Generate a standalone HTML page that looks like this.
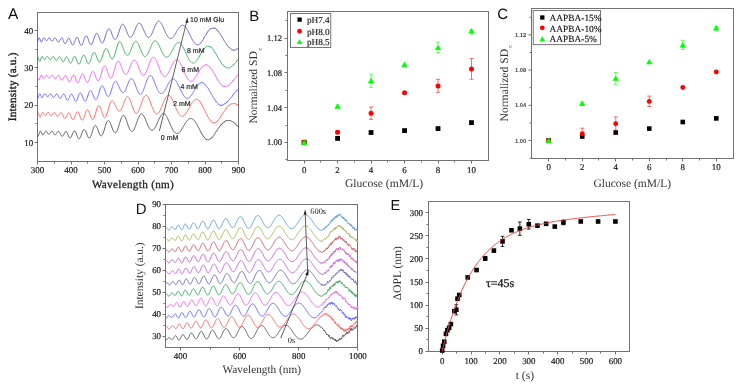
<!DOCTYPE html>
<html><head><meta charset="utf-8"><style>
html,body{margin:0;padding:0;background:#fff;}
svg{display:block;}
</style></head><body>
<svg text-rendering="geometricPrecision" style="will-change:transform;filter:blur(0.3px)" width="739" height="385" viewBox="0 0 739 385">
<rect width="739" height="385" fill="#fff"/>
<rect x="37.5" y="12.5" width="201" height="149" fill="none" stroke="#727272" stroke-width="1.0"/>
<line x1="54.5" y1="161.5" x2="54.5" y2="163.5" stroke="#727272" stroke-width="1.0"/>
<line x1="87.5" y1="161.5" x2="87.5" y2="163.5" stroke="#727272" stroke-width="1.0"/>
<line x1="121.5" y1="161.5" x2="121.5" y2="163.5" stroke="#727272" stroke-width="1.0"/>
<line x1="154.5" y1="161.5" x2="154.5" y2="163.5" stroke="#727272" stroke-width="1.0"/>
<line x1="188.5" y1="161.5" x2="188.5" y2="163.5" stroke="#727272" stroke-width="1.0"/>
<line x1="221.5" y1="161.5" x2="221.5" y2="163.5" stroke="#727272" stroke-width="1.0"/>
<line x1="37.5" y1="161.5" x2="37.5" y2="164.5" stroke="#727272" stroke-width="1.0"/>
<text x="37.5" y="172.8" font-family="Liberation Serif" font-size="8.9" text-anchor="middle" fill="#1a1a1a" stroke="#1a1a1a" stroke-width="0.2">300</text>
<line x1="71.5" y1="161.5" x2="71.5" y2="164.5" stroke="#727272" stroke-width="1.0"/>
<text x="71" y="172.8" font-family="Liberation Serif" font-size="8.9" text-anchor="middle" fill="#1a1a1a" stroke="#1a1a1a" stroke-width="0.2">400</text>
<line x1="104.5" y1="161.5" x2="104.5" y2="164.5" stroke="#727272" stroke-width="1.0"/>
<text x="104.5" y="172.8" font-family="Liberation Serif" font-size="8.9" text-anchor="middle" fill="#1a1a1a" stroke="#1a1a1a" stroke-width="0.2">500</text>
<line x1="138.5" y1="161.5" x2="138.5" y2="164.5" stroke="#727272" stroke-width="1.0"/>
<text x="138" y="172.8" font-family="Liberation Serif" font-size="8.9" text-anchor="middle" fill="#1a1a1a" stroke="#1a1a1a" stroke-width="0.2">600</text>
<line x1="171.5" y1="161.5" x2="171.5" y2="164.5" stroke="#727272" stroke-width="1.0"/>
<text x="171.5" y="172.8" font-family="Liberation Serif" font-size="8.9" text-anchor="middle" fill="#1a1a1a" stroke="#1a1a1a" stroke-width="0.2">700</text>
<line x1="205.5" y1="161.5" x2="205.5" y2="164.5" stroke="#727272" stroke-width="1.0"/>
<text x="205" y="172.8" font-family="Liberation Serif" font-size="8.9" text-anchor="middle" fill="#1a1a1a" stroke="#1a1a1a" stroke-width="0.2">800</text>
<line x1="238.5" y1="161.5" x2="238.5" y2="164.5" stroke="#727272" stroke-width="1.0"/>
<text x="238.5" y="172.8" font-family="Liberation Serif" font-size="8.9" text-anchor="middle" fill="#1a1a1a" stroke="#1a1a1a" stroke-width="0.2">900</text>
<line x1="35.5" y1="123.5" x2="37.5" y2="123.5" stroke="#727272" stroke-width="1.0"/>
<line x1="35.5" y1="86.5" x2="37.5" y2="86.5" stroke="#727272" stroke-width="1.0"/>
<line x1="35.5" y1="49.5" x2="37.5" y2="49.5" stroke="#727272" stroke-width="1.0"/>
<line x1="34.5" y1="142.5" x2="37.5" y2="142.5" stroke="#727272" stroke-width="1.0"/>
<text x="33.1" y="145.5" font-family="Liberation Serif" font-size="8.9" text-anchor="end" fill="#1a1a1a" stroke="#1a1a1a" stroke-width="0.2">10</text>
<line x1="34.5" y1="105.5" x2="37.5" y2="105.5" stroke="#727272" stroke-width="1.0"/>
<text x="33.1" y="108.17" font-family="Liberation Serif" font-size="8.9" text-anchor="end" fill="#1a1a1a" stroke="#1a1a1a" stroke-width="0.2">20</text>
<line x1="34.5" y1="67.5" x2="37.5" y2="67.5" stroke="#727272" stroke-width="1.0"/>
<text x="33.1" y="70.83" font-family="Liberation Serif" font-size="8.9" text-anchor="end" fill="#1a1a1a" stroke="#1a1a1a" stroke-width="0.2">30</text>
<line x1="34.5" y1="30.5" x2="37.5" y2="30.5" stroke="#727272" stroke-width="1.0"/>
<text x="33.1" y="33.5" font-family="Liberation Serif" font-size="8.9" text-anchor="end" fill="#1a1a1a" stroke="#1a1a1a" stroke-width="0.2">40</text>
<text x="7.9" y="19.3" font-family="Liberation Sans" font-size="15.5" text-anchor="start" fill="#111">A</text>
<text x="133" y="188" font-family="Liberation Serif" font-size="11.2" text-anchor="middle" fill="#222" letter-spacing="0.3" stroke="#222" stroke-width="0.28">Wavelength (nm)</text>
<text x="16.1" y="86.8" font-family="Liberation Serif" font-size="11.2" text-anchor="middle" fill="#222" transform="rotate(-90 16.1 86.8)" letter-spacing="0.2" stroke="#222" stroke-width="0.35">Intensity (a.u.)</text>
<polyline points="37.5,136.16 37.84,136.49 38.17,136.31 38.51,135.68 38.84,134.71 39.17,133.6 39.51,132.54 39.84,131.69 40.18,131.18 40.52,131.07 40.85,131.33 41.19,131.91 41.52,132.66 41.86,133.46 42.19,134.17 42.52,134.67 42.86,134.9 43.2,134.83 43.53,134.49 43.87,133.93 44.2,133.26 44.53,132.56 44.87,131.94 45.2,131.47 45.54,131.19 45.88,131.12 46.21,131.26 46.55,131.57 46.88,132.03 47.22,132.57 47.55,133.13 47.88,133.63 48.22,134.02 48.55,134.24 48.89,134.28 49.23,134.12 49.56,133.79 49.89,133.34 50.23,132.81 50.56,132.28 50.9,131.8 51.23,131.43 51.57,131.22 51.91,131.2 52.24,131.36 52.58,131.69 52.91,132.16 53.24,132.72 53.58,133.31 53.91,133.87 54.25,134.35 54.59,134.69 54.92,134.87 55.25,134.87 55.59,134.68 55.92,134.35 56.26,133.88 56.59,133.34 56.93,132.78 57.27,132.24 57.6,131.79 57.94,131.46 58.27,131.28 58.61,131.28 58.94,131.46 59.27,131.82 59.61,132.33 59.95,132.95 60.28,133.65 60.61,134.35 60.95,135.01 61.28,135.58 61.62,136 61.95,136.25 62.29,136.31 62.62,136.17 62.96,135.85 63.3,135.36 63.63,134.75 63.97,134.07 64.3,133.37 64.64,132.7 64.97,132.12 65.31,131.68 65.64,131.42 65.97,131.35 66.31,131.49 66.64,131.83 66.98,132.36 67.31,133.05 67.65,133.85 67.98,134.68 68.32,135.52 68.66,136.3 68.99,136.97 69.33,137.5 69.66,137.85 70,138.01 70.33,137.96 70.66,137.71 71,137.28 71.34,136.69 71.67,135.96 72,135.15 72.34,134.31 72.67,133.47 73.01,132.68 73.34,132.01 73.68,131.47 74.02,131.1 74.35,130.93 74.69,130.97 75.02,131.21 75.35,131.64 75.69,132.24 76.03,132.99 76.36,133.83 76.69,134.73 77.03,135.65 77.37,136.52 77.7,137.32 78.03,137.96 78.37,138.43 78.7,138.72 79.04,138.82 79.38,138.71 79.71,138.4 80.05,137.91 80.38,137.25 80.72,136.47 81.05,135.59 81.38,134.65 81.72,133.69 82.06,132.76 82.39,131.9 82.72,131.13 83.06,130.49 83.4,130.01 83.73,129.7 84.06,129.58 84.4,129.65 84.73,129.82 85.07,130.16 85.41,130.67 85.74,131.33 86.08,132.09 86.41,132.94 86.75,133.83 87.08,134.73 87.41,135.61 87.75,136.41 88.09,137.08 88.42,137.6 88.75,137.97 89.09,138.17 89.42,138.17 89.76,137.99 90.09,137.63 90.43,137.08 90.77,136.38 91.1,135.53 91.44,134.58 91.77,133.54 92.1,132.45 92.44,131.34 92.78,130.25 93.11,129.2 93.44,128.24 93.78,127.39 94.12,126.66 94.45,126.09 94.78,125.69 95.12,125.46 95.45,125.42 95.79,125.55 96.12,125.85 96.46,126.31 96.8,126.92 97.13,127.64 97.47,128.46 97.8,129.35 98.13,130.28 98.47,131.22 98.81,132.14 99.14,133.01 99.47,133.81 99.81,134.51 100.15,135.09 100.48,135.52 100.81,135.8 101.15,135.9 101.48,135.84 101.82,135.61 102.16,135.21 102.49,134.66 102.83,133.96 103.16,133.14 103.5,132.2 103.83,131.18 104.17,130.09 104.5,128.96 104.83,127.82 105.17,126.68 105.5,125.59 105.84,124.55 106.17,123.6 106.51,122.75 106.84,122.02 107.18,121.42 107.52,120.96 107.85,120.66 108.19,120.51 108.52,120.53 108.86,120.71 109.19,121.03 109.53,121.48 109.86,122.06 110.19,122.75 110.53,123.52 110.86,124.37 111.2,125.27 111.53,126.19 111.87,127.13 112.2,128.05 112.54,128.94 112.88,129.77 113.21,130.53 113.55,131.2 113.88,131.77 114.22,132.22 114.55,132.54 114.89,132.75 115.22,132.85 115.56,132.8 115.89,132.61 116.22,132.29 116.56,131.82 116.89,131.23 117.23,130.52 117.56,129.7 117.9,128.79 118.23,127.8 118.57,126.75 118.91,125.66 119.24,124.54 119.58,123.41 119.91,122.3 120.25,121.21 120.58,120.17 120.92,119.2 121.25,118.3 121.58,117.5 121.92,116.8 122.25,116.22 122.59,115.76 122.92,115.43 123.26,115.29 123.59,115.32 123.93,115.49 124.27,115.8 124.6,116.22 124.94,116.76 125.27,117.4 125.61,118.13 125.94,118.95 126.28,119.83 126.61,120.76 126.94,121.73 127.28,122.73 127.61,123.73 127.95,124.72 128.28,125.69 128.62,126.62 128.95,127.5 129.29,128.31 129.62,129.06 129.96,129.72 130.3,130.28 130.63,130.75 130.97,131.11 131.3,131.36 131.63,131.5 131.97,131.53 132.31,131.45 132.64,131.25 132.97,130.95 133.31,130.54 133.64,130.04 133.98,129.44 134.31,128.77 134.65,128.02 134.99,127.21 135.32,126.35 135.66,125.44 135.99,124.51 136.32,123.56 136.66,122.6 137,121.65 137.33,120.71 137.67,119.8 138,118.93 138.33,118.11 138.67,117.34 139,116.63 139.34,116 139.68,115.45 140.01,114.98 140.34,114.59 140.68,114.3 141.01,114.1 141.35,114 141.69,114.01 142.02,114.1 142.36,114.29 142.69,114.57 143.03,114.93 143.36,115.37 143.69,115.88 144.03,116.46 144.37,117.09 144.7,117.78 145.03,118.52 145.37,119.28 145.7,120.08 146.04,120.89 146.38,121.72 146.71,122.55 147.05,123.36 147.38,124.17 147.72,124.95 148.05,125.7 148.38,126.41 148.72,127.08 149.06,127.69 149.39,128.25 149.72,128.75 150.06,129.19 150.39,129.55 150.73,129.85 151.06,130.07 151.4,130.21 151.74,130.29 152.07,130.34 152.41,130.32 152.74,130.22 153.07,130.06 153.41,129.81 153.75,129.5 154.08,129.13 154.42,128.69 154.75,128.19 155.08,127.64 155.42,127.04 155.75,126.4 156.09,125.72 156.43,125.01 156.76,124.27 157.09,123.52 157.43,122.75 157.76,121.97 158.1,121.2 158.44,120.43 158.77,119.68 159.11,118.94 159.44,118.23 159.78,117.56 160.11,116.92 160.44,116.32 160.78,115.76 161.12,115.26 161.45,114.81 161.78,114.42 162.12,114.08 162.45,113.82 162.79,113.61 163.12,113.47 163.46,113.4 163.8,113.46 164.13,113.6 164.47,113.8 164.8,114.07 165.13,114.4 165.47,114.78 165.81,115.22 166.14,115.72 166.47,116.26 166.81,116.85 167.15,117.48 167.48,118.14 167.81,118.84 168.15,119.56 168.49,120.31 168.82,121.07 169.16,121.84 169.49,122.62 169.82,123.4 170.16,124.18 170.5,124.95 170.83,125.71 171.16,126.45 171.5,127.18 171.84,127.87 172.17,128.54 172.5,129.17 172.84,129.77 173.18,130.33 173.51,130.85 173.84,131.33 174.18,131.76 174.51,132.14 174.85,132.47 175.19,132.75 175.52,132.99 175.85,133.2 176.19,133.35 176.53,133.45 176.86,133.5 177.19,133.5 177.53,133.44 177.87,133.34 178.2,133.19 178.53,132.99 178.87,132.75 179.21,132.46 179.54,132.14 179.88,131.78 180.21,131.38 180.54,130.95 180.88,130.49 181.22,130 181.55,129.49 181.88,128.97 182.22,128.42 182.56,127.86 182.89,127.3 183.22,126.72 183.56,126.15 183.9,125.57 184.23,125 184.56,124.44 184.9,123.89 185.24,123.35 185.57,122.82 185.91,122.32 186.24,121.84 186.57,121.38 186.91,120.96 187.25,120.56 187.58,120.19 187.91,119.86 188.25,119.56 188.59,119.3 188.92,119.07 189.25,118.89 189.59,118.75 189.93,118.64 190.26,118.58 190.59,118.55 190.93,118.53 191.26,118.54 191.6,118.6 191.94,118.71 192.27,118.85 192.6,119.03 192.94,119.26 193.28,119.52 193.61,119.82 193.94,120.15 194.28,120.53 194.62,120.93 194.95,121.37 195.28,121.84 195.62,122.34 195.96,122.86 196.29,123.41 196.62,123.98 196.96,124.56 197.29,125.17 197.63,125.79 197.97,126.43 198.3,127.07 198.63,127.95 198.97,128.33 199.31,129.15 199.64,129.59 199.97,130.22 200.31,131.37 200.65,132.05 200.98,131.94 201.31,133.07 201.65,133.69 201.99,133.59 202.32,134.63 202.66,134.84 202.99,135.68 203.32,136.03 203.66,136.94 204,136.95 204.33,137.15 204.66,137.84 205,138 205.34,138.39 205.67,139.22 206,138.86 206.34,139.23 206.68,139.68 207.01,140.08 207.34,139.46 207.68,139.9 208.01,139.73 208.35,139.6 208.69,139.66 209.02,139.36 209.35,139.69 209.69,139.15 210.03,139.26 210.36,138.59 210.69,138.38 211.03,138.79 211.37,138.45 211.7,138.04 212.03,137.01 212.37,137.11 212.71,136.54 213.04,136.42 213.38,135.81 213.71,135.47 214.04,135.04 214.38,134.36 214.72,133.89 215.05,133.11 215.38,132.82 215.72,132.1 216.06,131.66 216.39,131.03 216.72,130.81 217.06,130.76 217.4,129.63 217.73,129.04 218.06,128.59 218.4,128.4 218.74,127.79 219.07,127.76 219.41,126.74 219.74,126.51 220.07,126.33 220.41,126.09 220.75,124.97 221.08,124.44 221.41,124.86 221.75,123.84 222.09,123.83 222.42,123.72 222.75,123.27 223.09,122.54 223.43,122.16 223.76,122.63 224.09,121.87 224.43,122.15 224.76,121.34 225.1,121.49 225.44,120.83 225.77,120.59 226.1,120.89 226.44,120.34 226.78,120.86 227.11,121 227.44,120.48 227.78,120.96 228.12,120.78 228.45,120.58 228.78,120.41 229.12,120.84 229.46,120.99 229.79,120.31 230.12,120.89 230.46,120.41 230.79,120.58 231.13,121.18 231.47,121.25 231.8,121.36 232.13,121.43 232.47,121.67 232.81,121.9 233.14,122.07 233.47,122.01 233.81,122.64 234.15,122.97 234.48,122.97 234.81,123.68 235.15,123.91 235.49,123.6 235.82,124.31 236.16,124.6 236.49,125.39 236.82,125.36 237.16,125.54 237.5,126.38 237.83,126.18 238.16,126.51 238.5,127.37" fill="none" stroke="#5a5a5a" stroke-width="1.0" stroke-linejoin="round"/>
<polyline points="37.5,112.53 37.84,112.38 38.17,112.74 38.51,113.53 38.84,114.54 39.17,115.59 39.51,116.46 39.84,117 40.18,117.12 40.52,116.83 40.85,116.19 41.19,115.32 41.52,114.38 41.86,113.51 42.19,112.85 42.52,112.48 42.86,112.44 43.2,112.69 43.53,113.18 43.87,113.79 44.2,114.42 44.53,114.97 44.87,115.35 45.2,115.51 45.54,115.44 45.88,115.16 46.21,114.83 46.55,114.37 46.88,113.84 47.22,113.32 47.55,112.88 47.88,112.59 48.22,112.48 48.55,112.57 48.89,112.86 49.23,113.31 49.56,113.85 49.89,114.44 50.23,114.99 50.56,115.44 50.9,115.74 51.23,115.86 51.57,115.77 51.91,115.51 52.24,115.08 52.58,114.56 52.91,114 53.24,113.46 53.58,113.01 53.91,112.69 54.25,112.55 54.59,112.6 54.92,112.84 55.25,113.24 55.59,113.76 55.92,114.36 56.26,114.97 56.59,115.53 56.93,116 57.27,116.32 57.6,116.47 57.94,116.48 58.27,116.32 58.61,115.98 58.94,115.5 59.27,114.93 59.61,114.33 59.95,113.74 60.28,113.24 60.61,112.86 60.95,112.65 61.28,112.64 61.62,112.84 61.95,113.22 62.29,113.78 62.62,114.46 62.96,115.23 63.3,116.02 63.63,116.76 63.97,117.42 64.3,117.93 64.64,118.25 64.97,118.37 65.31,118.27 65.64,117.97 65.97,117.48 66.31,116.84 66.64,116.11 66.98,115.33 67.31,114.56 67.65,113.88 67.98,113.31 68.32,112.91 68.66,112.72 68.99,112.75 69.33,112.99 69.66,113.43 70,114.04 70.33,114.79 70.66,115.61 71,116.48 71.34,117.3 71.67,118.07 72,118.72 72.34,119.23 72.67,119.56 73.01,119.68 73.34,119.58 73.68,119.28 74.02,118.78 74.35,118.12 74.69,117.32 75.02,116.44 75.35,115.52 75.69,114.62 76.03,113.77 76.36,113.04 76.69,112.45 77.03,112.05 77.37,111.85 77.7,111.87 78.03,112.1 78.37,112.53 78.7,113.13 79.04,113.88 79.38,114.73 79.71,115.65 80.05,116.57 80.38,117.46 80.72,118.28 81.05,118.98 81.38,119.53 81.72,119.9 82.06,120.08 82.39,120.06 82.72,119.84 83.06,119.42 83.4,118.84 83.73,118.1 84.06,117.25 84.4,116.32 84.73,115.3 85.07,114.27 85.41,113.27 85.74,112.33 86.08,111.49 86.41,110.79 86.75,110.25 87.08,109.9 87.41,109.74 87.75,109.79 88.09,110.04 88.42,110.48 88.75,111.09 89.09,111.85 89.42,112.72 89.76,113.68 90.09,114.68 90.43,115.69 90.77,116.66 91.1,117.56 91.44,118.34 91.77,118.94 92.1,119.38 92.44,119.63 92.78,119.67 93.11,119.51 93.44,119.15 93.78,118.59 94.12,117.86 94.45,116.97 94.78,115.95 95.12,114.83 95.45,113.65 95.79,112.43 96.12,111.22 96.46,110.06 96.8,108.97 97.13,107.98 97.47,107.14 97.8,106.44 98.13,105.93 98.47,105.6 98.81,105.47 99.14,105.55 99.47,105.81 99.81,106.25 100.15,106.86 100.48,107.61 100.81,108.48 101.15,109.45 101.48,110.48 101.82,111.54 102.16,112.6 102.49,113.63 102.83,114.61 103.16,115.49 103.5,116.25 103.83,116.89 104.17,117.36 104.5,117.6 104.83,117.6 105.17,117.42 105.5,117.06 105.84,116.53 106.17,115.85 106.51,115.02 106.84,114.07 107.18,113.03 107.52,111.91 107.85,110.74 108.19,109.54 108.52,108.34 108.86,107.17 109.19,106.04 109.53,104.99 109.86,104.02 110.19,103.16 110.53,102.42 110.86,101.81 111.2,101.34 111.53,101.02 111.87,100.86 112.2,100.84 112.54,100.96 112.88,101.2 113.21,101.56 113.55,102.02 113.88,102.57 114.22,103.19 114.55,103.87 114.89,104.58 115.22,105.32 115.56,106.05 115.89,106.76 116.22,107.45 116.56,108.08 116.89,108.65 117.23,109.14 117.56,109.55 117.9,109.87 118.23,110.3 118.57,110.63 118.91,110.87 119.24,110.99 119.58,111.01 119.91,110.91 120.25,110.69 120.58,110.37 120.92,109.93 121.25,109.39 121.58,108.76 121.92,108.05 122.25,107.27 122.59,106.42 122.92,105.53 123.26,104.61 123.59,103.67 123.93,102.73 124.27,101.8 124.6,100.91 124.94,100.06 125.27,99.27 125.61,98.55 125.94,97.92 126.28,97.38 126.61,96.95 126.94,96.63 127.28,96.49 127.61,96.48 127.95,96.59 128.28,96.82 128.62,97.17 128.95,97.63 129.29,98.19 129.62,98.85 129.96,99.59 130.3,100.41 130.63,101.29 130.97,102.22 131.3,103.19 131.63,104.19 131.97,105.19 132.31,106.19 132.64,107.17 132.97,108.12 133.31,109.02 133.64,109.87 133.98,110.65 134.31,111.36 134.65,111.97 134.99,112.49 135.32,112.91 135.66,113.21 135.99,113.37 136.32,113.42 136.66,113.35 137,113.18 137.33,112.89 137.67,112.5 138,112.02 138.33,111.44 138.67,110.77 139,110.04 139.34,109.23 139.68,108.37 140.01,107.46 140.34,106.52 140.68,105.55 141.01,104.58 141.35,103.6 141.69,102.63 142.02,101.69 142.36,100.77 142.69,99.9 143.03,99.09 143.36,98.33 143.69,97.64 144.03,97.03 144.37,96.5 144.7,96.06 145.03,95.7 145.37,95.45 145.7,95.29 146.04,95.23 146.38,95.26 146.71,95.41 147.05,95.66 147.38,96 147.72,96.43 148.05,96.93 148.38,97.52 148.72,98.17 149.06,98.88 149.39,99.65 149.72,100.47 150.06,101.32 150.39,102.2 150.73,103.1 151.06,104.01 151.4,104.93 151.74,105.84 152.07,106.73 152.41,107.6 152.74,108.44 153.07,109.24 153.41,110 153.75,110.7 154.08,111.35 154.42,111.93 154.75,112.44 155.08,112.88 155.42,113.24 155.75,113.53 156.09,113.74 156.43,113.86 156.76,113.92 157.09,113.91 157.43,113.81 157.76,113.64 158.1,113.38 158.44,113.06 158.77,112.66 159.11,112.19 159.44,111.67 159.78,111.08 160.11,110.44 160.44,109.76 160.78,109.03 161.12,108.27 161.45,107.48 161.78,106.67 162.12,105.84 162.45,105 162.79,104.17 163.12,103.33 163.46,102.51 163.8,101.71 164.13,100.93 164.47,100.18 164.8,99.47 165.13,98.8 165.47,98.17 165.81,97.6 166.14,97.08 166.47,96.62 166.81,96.21 167.15,95.88 167.48,95.6 167.81,95.4 168.15,95.27 168.49,95.2 168.82,95.24 169.16,95.36 169.49,95.56 169.82,95.81 170.16,96.14 170.5,96.52 170.83,96.96 171.16,97.46 171.5,98.01 171.84,98.6 172.17,99.24 172.5,99.92 172.84,100.63 173.18,101.38 173.51,102.14 173.84,102.93 174.18,103.73 174.51,104.54 174.85,105.36 175.19,106.17 175.52,106.98 175.85,107.78 176.19,108.57 176.53,109.34 176.86,110.08 177.19,110.79 177.53,111.48 177.87,112.13 178.2,112.74 178.53,113.31 178.87,113.83 179.21,114.31 179.54,114.74 179.88,115.12 180.21,115.45 180.54,115.72 180.88,115.94 181.22,116.11 181.55,116.22 181.88,116.28 182.22,116.29 182.56,116.28 182.89,116.22 183.22,116.1 183.56,115.93 183.9,115.72 184.23,115.45 184.56,115.15 184.9,114.79 185.24,114.4 185.57,113.97 185.91,113.51 186.24,113.01 186.57,112.49 186.91,111.94 187.25,111.36 187.58,110.77 187.91,110.17 188.25,109.55 188.59,108.92 188.92,108.29 189.25,107.65 189.59,107.02 189.93,106.4 190.26,105.78 190.59,105.17 190.93,104.58 191.26,104.01 191.6,103.46 191.94,102.94 192.27,102.44 192.6,101.97 192.94,101.53 193.28,101.13 193.61,100.76 193.94,100.43 194.28,100.14 194.62,99.89 194.95,99.69 195.28,99.52 195.62,99.4 195.96,99.32 196.29,99.29 196.62,99.3 196.96,99.36 197.29,99.46 197.63,99.59 197.97,99.77 198.3,99.99 198.63,100.14 198.97,100.59 199.31,100.74 199.64,101.42 199.97,101.52 200.31,101.94 200.65,103.07 200.98,103.55 201.31,103.54 201.65,103.85 201.99,105.08 202.32,105.51 202.66,106.03 202.99,106.92 203.32,107.55 203.66,108.27 204,108.91 204.33,109.4 204.66,110.36 205,110.99 205.34,111.33 205.67,112.7 206,112.9 206.34,113.43 206.68,114.48 207.01,115.22 207.34,115.34 207.68,116.47 208.01,117.13 208.35,117.49 208.69,117.82 209.02,118.89 209.35,119.21 209.69,119.68 210.03,119.69 210.36,120.47 210.69,120.49 211.03,121.47 211.37,121.65 211.7,121.66 212.03,121.71 212.37,122.33 212.71,122.72 213.04,122.97 213.38,122.72 213.71,123.11 214.04,122.6 214.38,122.59 214.72,123.15 215.05,123 215.38,122.37 215.72,122.32 216.06,121.95 216.39,122.11 216.72,122.02 217.06,121.57 217.4,120.79 217.73,120.9 218.06,120.45 218.4,119.98 218.74,119.56 219.07,119.12 219.41,118.21 219.74,118.42 220.07,118.07 220.41,116.73 220.75,116.28 221.08,115.67 221.41,115.64 221.75,114.65 222.09,114.14 222.42,114.24 222.75,113.24 223.09,112.63 223.43,112.26 223.76,111.87 224.09,111.56 224.43,111 224.76,110.61 225.1,110.26 225.44,109.32 225.77,109.12 226.1,108.21 226.44,108.46 226.78,107.27 227.11,107.06 227.44,106.47 227.78,106.13 228.12,105.78 228.45,105.75 228.78,105.95 229.12,105.01 229.46,105.27 229.79,104.92 230.12,104.38 230.46,104.31 230.79,104.24 231.13,103.63 231.47,103.8 231.8,103.95 232.13,103.96 232.47,103.37 232.81,103.68 233.14,103.36 233.47,103.73 233.81,103.87 234.15,103.6 234.48,103.4 234.81,104.05 235.15,103.59 235.49,103.59 235.82,103.83 236.16,103.97 236.49,104.88 236.82,104.52 237.16,104.53 237.5,105.49 237.83,105.54 238.16,105.81 238.5,105.86" fill="none" stroke="#ff6464" stroke-width="1.0" stroke-linejoin="round"/>
<polyline points="37.5,99.28 37.84,98.81 38.17,97.88 38.51,96.7 38.84,95.51 39.17,94.52 39.51,93.9 39.84,93.72 40.18,94 40.52,94.63 40.85,95.48 41.19,96.37 41.52,97.14 41.86,97.64 42.19,97.82 42.52,97.64 42.86,97.15 43.2,96.46 43.53,95.67 43.87,94.91 44.2,94.3 44.53,93.91 44.87,93.78 45.2,93.89 45.54,94.2 45.88,94.65 46.21,95.21 46.55,95.79 46.88,96.29 47.22,96.66 47.55,96.84 47.88,96.8 48.22,96.57 48.55,96.16 48.89,95.64 49.23,95.09 49.56,94.56 49.89,94.15 50.23,93.9 50.56,93.84 50.9,94 51.23,94.34 51.57,94.83 51.91,95.41 52.24,96.02 52.58,96.58 52.91,97.03 53.24,97.32 53.58,97.41 53.91,97.31 54.25,97.02 54.59,96.57 54.92,96.03 55.25,95.44 55.59,94.89 55.92,94.41 56.26,94.08 56.59,93.92 56.93,93.95 57.27,94.17 57.6,94.57 57.94,95.11 58.27,95.75 58.61,96.43 58.94,97.09 59.27,97.67 59.61,98.12 59.95,98.39 60.28,98.46 60.61,98.33 60.95,98 61.28,97.5 61.62,96.89 61.95,96.21 62.29,95.54 62.62,94.92 62.96,94.43 63.3,94.11 63.63,93.99 63.97,94.08 64.3,94.4 64.64,94.91 64.97,95.59 65.31,96.38 65.64,97.24 65.97,98.09 66.31,98.87 66.64,99.54 66.98,100.03 67.31,100.31 67.65,100.37 67.98,100.15 68.32,99.72 68.66,99.11 68.99,98.38 69.33,97.56 69.66,96.73 70,95.93 70.33,95.22 70.66,94.65 71,94.27 71.34,94.03 71.67,94.02 72,94.22 72.34,94.63 72.67,95.23 73.01,95.97 73.34,96.82 73.68,97.72 74.02,98.61 74.35,99.45 74.69,100.17 75.02,100.75 75.35,101.13 75.69,101.31 76.03,101.26 76.36,100.98 76.69,100.5 77.03,99.84 77.37,99.02 77.7,98.1 78.03,97.1 78.37,96.11 78.7,95.18 79.04,94.35 79.38,93.67 79.71,93.16 80.05,92.86 80.38,92.77 80.72,92.9 81.05,93.23 81.38,93.75 81.72,94.43 82.06,95.23 82.39,96.12 82.72,97.05 83.06,97.98 83.4,98.85 83.73,99.64 84.06,100.3 84.4,100.8 84.73,101.13 85.07,101.26 85.41,101.18 85.74,100.91 86.08,100.45 86.41,99.81 86.75,99.02 87.08,98.11 87.41,97.12 87.75,96.08 88.09,95.02 88.42,94.01 88.75,93.08 89.09,92.27 89.42,91.6 89.76,91.09 90.09,90.77 90.43,90.64 90.77,90.7 91.1,90.94 91.44,91.35 91.77,91.92 92.1,92.61 92.44,93.4 92.78,94.26 93.11,95.14 93.44,96.03 93.78,96.88 94.12,97.66 94.45,98.35 94.78,98.9 95.12,99.32 95.45,99.59 95.79,99.68 96.12,99.58 96.46,99.29 96.8,98.84 97.13,98.22 97.47,97.45 97.8,96.55 98.13,95.55 98.47,94.48 98.81,93.36 99.14,92.22 99.47,91.1 99.81,90.03 100.15,89.03 100.48,88.13 100.81,87.35 101.15,86.72 101.48,86.25 101.82,85.94 102.16,85.81 102.49,85.88 102.83,86.14 103.16,86.56 103.5,87.11 103.83,87.79 104.17,88.56 104.5,89.41 104.83,90.31 105.17,91.23 105.5,92.14 105.84,93.02 106.17,93.84 106.51,94.59 106.84,95.23 107.18,95.75 107.52,96.14 107.85,96.38 108.19,96.47 108.52,96.39 108.86,96.16 109.19,95.78 109.53,95.25 109.86,94.6 110.19,93.82 110.53,92.95 110.86,91.99 111.2,90.97 111.53,89.91 111.87,88.83 112.2,87.76 112.54,86.71 112.88,85.71 113.21,84.78 113.55,83.93 113.88,83.18 114.22,82.53 114.55,82.02 114.89,81.63 115.22,81.38 115.56,81.26 115.89,81.28 116.22,81.47 116.56,81.8 116.89,82.24 117.23,82.78 117.56,83.41 117.9,84.11 118.23,84.86 118.57,85.65 118.91,86.46 119.24,87.27 119.58,88.06 119.91,88.83 120.25,89.55 120.58,90.2 120.92,90.79 121.25,91.29 121.58,91.69 121.92,92.04 122.25,92.37 122.59,92.6 122.92,92.71 123.26,92.71 123.59,92.6 123.93,92.38 124.27,92.05 124.6,91.61 124.94,91.08 125.27,90.46 125.61,89.77 125.94,89 126.28,88.19 126.61,87.33 126.94,86.45 127.28,85.55 127.61,84.66 127.95,83.78 128.28,82.93 128.62,82.13 128.95,81.38 129.29,80.7 129.62,80.09 129.96,79.58 130.3,79.16 130.63,78.84 130.97,78.63 131.3,78.53 131.63,78.54 131.97,78.66 132.31,78.9 132.64,79.24 132.97,79.68 133.31,80.22 133.64,80.84 133.98,81.54 134.31,82.31 134.65,83.14 134.99,84.01 135.32,84.92 135.66,85.85 135.99,86.78 136.32,87.71 136.66,88.63 137,89.51 137.33,90.36 137.67,91.15 138,91.88 138.33,92.53 138.67,93.11 139,93.59 139.34,93.98 139.68,94.27 140.01,94.45 140.34,94.48 140.68,94.4 141.01,94.22 141.35,93.93 141.69,93.54 142.02,93.06 142.36,92.49 142.69,91.83 143.03,91.1 143.36,90.3 143.69,89.45 144.03,88.55 144.37,87.61 144.7,86.64 145.03,85.66 145.37,84.68 145.7,83.7 146.04,82.73 146.38,81.79 146.71,80.89 147.05,80.04 147.38,79.23 147.72,78.49 148.05,77.82 148.38,77.23 148.72,76.72 149.06,76.29 149.39,75.95 149.72,75.7 150.06,75.55 150.39,75.5 150.73,75.53 151.06,75.66 151.4,75.89 151.74,76.24 152.07,76.73 152.41,77.3 152.74,77.93 153.07,78.62 153.41,79.37 153.75,80.15 154.08,80.98 154.42,81.83 154.75,82.71 155.08,83.59 155.42,84.48 155.75,85.36 156.09,86.23 156.43,87.07 156.76,87.89 157.09,88.68 157.43,89.42 157.76,90.12 158.1,90.76 158.44,91.34 158.77,91.87 159.11,92.33 159.44,92.72 159.78,93.05 160.11,93.3 160.44,93.48 160.78,93.59 161.12,93.62 161.45,93.59 161.78,93.49 162.12,93.39 162.45,93.23 162.79,93 163.12,92.71 163.46,92.37 163.8,91.97 164.13,91.52 164.47,91.03 164.8,90.5 165.13,89.93 165.47,89.32 165.81,88.7 166.14,88.05 166.47,87.39 166.81,86.72 167.15,86.05 167.48,85.38 167.81,84.71 168.15,84.06 168.49,83.43 168.82,82.82 169.16,82.24 169.49,81.69 169.82,81.18 170.16,80.71 170.5,80.28 170.83,79.9 171.16,79.56 171.5,79.28 171.84,79.06 172.17,78.88 172.5,78.77 172.84,78.71 173.18,78.71 173.51,78.77 173.84,78.88 174.18,79.05 174.51,79.28 174.85,79.56 175.19,79.89 175.52,80.26 175.85,80.68 176.19,81.15 176.53,81.66 176.86,82.21 177.19,82.79 177.53,83.4 177.87,84.04 178.2,84.71 178.53,85.4 178.87,86.1 179.21,86.81 179.54,87.53 179.88,88.26 180.21,88.98 180.54,89.7 180.88,90.42 181.22,91.12 181.55,91.8 181.88,92.46 182.22,93.1 182.56,93.72 182.89,94.3 183.22,94.85 183.56,95.37 183.9,95.85 184.23,96.29 184.56,96.69 184.9,97.04 185.24,97.35 185.57,97.62 185.91,97.84 186.24,98.01 186.57,98.13 186.91,98.2 187.25,98.23 187.58,98.21 187.91,98.14 188.25,98.03 188.59,97.88 188.92,97.69 189.25,97.46 189.59,97.18 189.93,96.87 190.26,96.53 190.59,96.15 190.93,95.73 191.26,95.29 191.6,94.83 191.94,94.34 192.27,93.83 192.6,93.3 192.94,92.76 193.28,92.21 193.61,91.65 193.94,91.08 194.28,90.51 194.62,89.94 194.95,89.37 195.28,88.82 195.62,88.27 195.96,87.73 196.29,87.21 196.62,86.71 196.96,86.22 197.29,85.76 197.63,85.33 197.97,84.92 198.3,84.54 198.63,84.26 198.97,83.9 199.31,83.35 199.64,83.8 199.97,83.54 200.31,83.3 200.65,83.17 200.98,83.13 201.31,82.26 201.65,82.35 201.99,83.06 202.32,82.74 202.66,83.01 202.99,83.14 203.32,83.28 203.66,83.19 204,83.44 204.33,83.87 204.66,84.29 205,84.46 205.34,84.97 205.67,84.93 206,85.17 206.34,85.88 206.68,86.59 207.01,86.95 207.34,87.26 207.68,87.55 208.01,87.91 208.35,88.81 208.69,88.98 209.02,89.7 209.35,90.45 209.69,91.08 210.03,91.56 210.36,91.97 210.69,92.82 211.03,93.18 211.37,93.99 211.7,94.78 212.03,95.11 212.37,95.56 212.71,96.7 213.04,96.96 213.38,97.53 213.71,97.67 214.04,98.17 214.38,99.2 214.72,99.24 215.05,99.83 215.38,100.78 215.72,101.06 216.06,101.81 216.39,101.61 216.72,102.15 217.06,102.32 217.4,102.76 217.73,103.2 218.06,103.45 218.4,103.89 218.74,104.56 219.07,104.36 219.41,105.1 219.74,105.16 220.07,104.76 220.41,105.55 220.75,105.61 221.08,105.66 221.41,104.95 221.75,105.54 222.09,105.63 222.42,104.81 222.75,105.36 223.09,104.58 223.43,104.59 223.76,104.28 224.09,103.99 224.43,104.12 224.76,103.7 225.1,104.14 225.44,103.23 225.77,103.19 226.1,102.72 226.44,102.96 226.78,102.07 227.11,101.58 227.44,102.02 227.78,101.44 228.12,100.86 228.45,100.26 228.78,100.4 229.12,100.07 229.46,99.62 229.79,98.9 230.12,98.37 230.46,98.29 230.79,97.9 231.13,97.46 231.47,97.09 231.8,96.61 232.13,96.5 232.47,95.71 232.81,94.87 233.14,94.96 233.47,94.24 233.81,94.36 234.15,93.48 234.48,93.02 234.81,92.69 235.15,92.44 235.49,92.08 235.82,91.55 236.16,90.95 236.49,91.24 236.82,90.93 237.16,89.98 237.5,89.48 237.83,89.49 238.16,89.22 238.5,88.65" fill="none" stroke="#6a6aff" stroke-width="1.0" stroke-linejoin="round"/>
<polyline points="37.5,76.8 37.84,78 38.17,79.11 38.51,79.89 38.84,80.19 39.17,79.97 39.51,79.3 39.84,78.33 40.18,77.23 40.52,76.23 40.85,75.48 41.19,75.11 41.52,75.13 41.86,75.52 42.19,76.17 42.52,76.95 42.86,77.69 43.2,78.28 43.53,78.61 43.87,78.64 44.2,78.38 44.53,77.89 44.87,77.25 45.2,76.57 45.54,75.95 45.88,75.47 46.21,75.2 46.55,75.13 46.88,75.28 47.22,75.63 47.55,76.14 47.88,76.72 48.22,77.31 48.55,77.81 48.89,78.17 49.23,78.33 49.56,78.28 49.89,78.02 50.23,77.59 50.56,77.06 50.9,76.48 51.23,75.95 51.57,75.52 51.91,75.26 52.24,75.19 52.58,75.34 52.91,75.68 53.24,76.18 53.58,76.77 53.91,77.39 54.25,77.98 54.59,78.46 54.92,78.78 55.25,78.91 55.59,78.84 55.92,78.57 56.26,78.15 56.59,77.6 56.93,77.01 57.27,76.42 57.6,75.91 57.94,75.52 58.27,75.3 58.61,75.27 58.94,75.45 59.27,75.82 59.61,76.36 59.95,77.03 60.28,77.76 60.61,78.5 60.95,79.17 61.28,79.72 61.62,80.09 61.95,80.26 62.29,80.22 62.62,79.95 62.96,79.49 63.3,78.88 63.63,78.18 63.97,77.44 64.3,76.73 64.64,76.12 64.97,75.66 65.31,75.39 65.64,75.35 65.97,75.54 66.31,75.96 66.64,76.57 66.98,77.34 67.31,78.21 67.65,79.12 67.98,79.97 68.32,80.73 68.66,81.33 68.99,81.74 69.33,81.93 69.66,81.89 70,81.62 70.33,81.15 70.66,80.51 71,79.75 71.34,78.89 71.67,78 72,77.15 72.34,76.39 72.67,75.76 73.01,75.32 73.34,75.09 73.68,75.08 74.02,75.3 74.35,75.74 74.69,76.37 75.02,77.15 75.35,78.04 75.69,78.99 76.03,79.93 76.36,80.81 76.69,81.59 77.03,82.21 77.37,82.64 77.7,82.86 78.03,82.79 78.37,82.5 78.7,81.99 79.04,81.3 79.38,80.46 79.71,79.51 80.05,78.51 80.38,77.5 80.72,76.54 81.05,75.66 81.38,74.93 81.72,74.36 82.06,73.98 82.39,73.81 82.72,73.86 83.06,74.12 83.4,74.58 83.73,75.2 84.06,75.97 84.4,76.83 84.73,77.74 85.07,78.67 85.41,79.58 85.74,80.42 86.08,81.17 86.41,81.77 86.75,82.21 87.08,82.46 87.41,82.5 87.75,82.34 88.09,81.94 88.42,81.35 88.75,80.6 89.09,79.72 89.42,78.74 89.76,77.69 90.09,76.62 90.43,75.56 90.77,74.56 91.1,73.65 91.44,72.86 91.77,72.22 92.1,71.76 92.44,71.47 92.78,71.38 93.11,71.47 93.44,71.75 93.78,72.2 94.12,72.8 94.45,73.53 94.78,74.3 95.12,75.15 95.45,76.04 95.79,76.95 96.12,77.83 96.46,78.66 96.8,79.39 97.13,80.01 97.47,80.46 97.8,80.75 98.13,80.85 98.47,80.77 98.81,80.5 99.14,80.04 99.47,79.4 99.81,78.6 100.15,77.66 100.48,76.61 100.81,75.47 101.15,74.27 101.48,73.05 101.82,71.84 102.16,70.67 102.49,69.57 102.83,68.57 103.16,67.72 103.5,67.04 103.83,66.53 104.17,66.19 104.5,66.04 104.83,66.08 105.17,66.3 105.5,66.69 105.84,67.24 106.17,67.92 106.51,68.73 106.84,69.63 107.18,70.6 107.52,71.61 107.85,72.63 108.19,73.63 108.52,74.58 108.86,75.47 109.19,76.26 109.53,76.93 109.86,77.46 110.19,77.84 110.53,78.05 110.86,78.09 111.2,77.96 111.53,77.65 111.87,77.18 112.2,76.56 112.54,75.8 112.88,74.91 113.21,73.91 113.55,72.82 113.88,71.67 114.22,70.48 114.55,69.28 114.89,68.08 115.22,66.91 115.56,65.8 115.89,64.76 116.22,63.81 116.56,62.98 116.89,62.27 117.23,61.7 117.56,61.28 117.9,61.01 118.23,61 118.57,61.14 118.91,61.42 119.24,61.84 119.58,62.39 119.91,63.04 120.25,63.78 120.58,64.6 120.92,65.48 121.25,66.4 121.58,67.33 121.92,68.27 122.25,69.18 122.59,70.06 122.92,70.89 123.26,71.66 123.59,72.34 123.93,72.93 124.27,73.41 124.6,73.79 124.94,74.05 125.27,74.28 125.61,74.41 125.94,74.42 126.28,74.32 126.61,74.1 126.94,73.76 127.28,73.32 127.61,72.79 127.95,72.16 128.28,71.46 128.62,70.69 128.95,69.87 129.29,69.01 129.62,68.12 129.96,67.22 130.3,66.32 130.63,65.44 130.97,64.59 131.3,63.79 131.63,63.03 131.97,62.35 132.31,61.74 132.64,61.21 132.97,60.78 133.31,60.44 133.64,60.19 133.98,60.03 134.31,59.97 134.65,60.03 134.99,60.18 135.32,60.44 135.66,60.8 135.99,61.26 136.32,61.8 136.66,62.42 137,63.11 137.33,63.86 137.67,64.67 138,65.51 138.33,66.38 138.67,67.26 139,68.15 139.34,69.04 139.68,69.9 140.01,70.73 140.34,71.52 140.68,72.26 141.01,72.93 141.35,73.54 141.69,74.07 142.02,74.51 142.36,74.86 142.69,75.12 143.03,75.28 143.36,75.35 143.69,75.31 144.03,75.17 144.37,74.93 144.7,74.6 145.03,74.17 145.37,73.66 145.7,73.06 146.04,72.39 146.38,71.65 146.71,70.86 147.05,70.01 147.38,69.12 147.72,68.2 148.05,67.26 148.38,66.31 148.72,65.36 149.06,64.42 149.39,63.49 149.72,62.6 150.06,61.74 150.39,60.94 150.73,60.18 151.06,59.49 151.4,58.87 151.74,58.33 152.07,57.87 152.41,57.52 152.74,57.32 153.07,57.22 153.41,57.21 153.75,57.29 154.08,57.46 154.42,57.72 154.75,58.07 155.08,58.5 155.42,59 155.75,59.58 156.09,60.22 156.43,60.93 156.76,61.68 157.09,62.48 157.43,63.32 157.76,64.18 158.1,65.07 158.44,65.97 158.77,66.87 159.11,67.78 159.44,68.67 159.78,69.54 160.11,70.39 160.44,71.21 160.78,71.99 161.12,72.72 161.45,73.4 161.78,74.03 162.12,74.6 162.45,75.1 162.79,75.53 163.12,75.9 163.46,76.19 163.8,76.41 164.13,76.57 164.47,76.67 164.8,76.71 165.13,76.66 165.47,76.55 165.81,76.36 166.14,76.11 166.47,75.79 166.81,75.41 167.15,74.97 167.48,74.47 167.81,73.92 168.15,73.33 168.49,72.7 168.82,72.03 169.16,71.34 169.49,70.62 169.82,69.88 170.16,69.13 170.5,68.38 170.83,67.62 171.16,66.87 171.5,66.13 171.84,65.41 172.17,64.71 172.5,64.04 172.84,63.41 173.18,62.8 173.51,62.25 173.84,61.73 174.18,61.27 174.51,60.85 174.85,60.5 175.19,60.2 175.52,59.96 175.85,59.79 176.19,59.7 176.53,59.67 176.86,59.71 177.19,59.81 177.53,59.97 177.87,60.19 178.2,60.48 178.53,60.81 178.87,61.21 179.21,61.65 179.54,62.15 179.88,62.69 180.21,63.27 180.54,63.9 180.88,64.56 181.22,65.25 181.55,65.96 181.88,66.7 182.22,67.46 182.56,68.24 182.89,69.02 183.22,69.81 183.56,70.6 183.9,71.38 184.23,72.16 184.56,72.93 184.9,73.68 185.24,74.42 185.57,75.13 185.91,75.81 186.24,76.46 186.57,77.08 186.91,77.67 187.25,78.21 187.58,78.72 187.91,79.18 188.25,79.6 188.59,79.97 188.92,80.29 189.25,80.57 189.59,80.8 189.93,80.97 190.26,81.1 190.59,81.17 190.93,81.2 191.26,81.18 191.6,81.1 191.94,80.99 192.27,80.82 192.6,80.61 192.94,80.36 193.28,80.07 193.61,79.74 193.94,79.37 194.28,78.97 194.62,78.54 194.95,78.08 195.28,77.59 195.62,77.09 195.96,76.56 196.29,76.01 196.62,75.45 196.96,74.88 197.29,74.31 197.63,73.73 197.97,73.14 198.3,72.56 198.63,72.27 198.97,71.63 199.31,71.13 199.64,70.24 199.97,69.96 200.31,69.52 200.65,68.63 200.98,67.93 201.31,68.08 201.65,67.3 201.99,67.18 202.32,66.44 202.66,66.36 202.99,66.36 203.32,66.15 203.66,66.11 204,65.52 204.33,65.46 204.66,65.51 205,65.2 205.34,65.14 205.67,64.67 206,65.21 206.34,64.46 206.68,64.97 207.01,64.95 207.34,65.18 207.68,65.01 208.01,65.21 208.35,65.67 208.69,65.99 209.02,66.07 209.35,66.26 209.69,67.02 210.03,67.09 210.36,67.29 210.69,68.16 211.03,68.82 211.37,69.28 211.7,69.34 212.03,69.89 212.37,70.16 212.71,70.8 213.04,71.9 213.38,72.51 213.71,73.03 214.04,73.67 214.38,73.8 214.72,74.25 215.05,74.81 215.38,75.98 215.72,76.03 216.06,77.12 216.39,77.61 216.72,77.91 217.06,79.06 217.4,79.62 217.73,79.51 218.06,80.53 218.4,81 218.74,81.31 219.07,81.72 219.41,82.8 219.74,82.96 220.07,83.31 220.41,83.68 220.75,84.33 221.08,84.37 221.41,84.39 221.75,85.22 222.09,85.39 222.42,86.05 222.75,86.16 223.09,86.04 223.43,86.7 223.76,86.13 224.09,86.2 224.43,87 224.76,86.28 225.1,86.81 225.44,86.44 225.77,86.42 226.1,86.77 226.44,86.35 226.78,86.26 227.11,85.99 227.44,86.32 227.78,85.7 228.12,85.32 228.45,85.36 228.78,85.25 229.12,85.37 229.46,84.75 229.79,84.59 230.12,83.95 230.46,83.66 230.79,83.42 231.13,83.42 231.47,82.64 231.8,82.27 232.13,82.29 232.47,81.26 232.81,81.06 233.14,81.12 233.47,79.97 233.81,80.25 234.15,79.65 234.48,78.86 234.81,78.53 235.15,78.12 235.49,77.59 235.82,77.32 236.16,77 236.49,76.67 236.82,76.32 237.16,75.3 237.5,74.82 237.83,74.58 238.16,73.97 238.5,73.88" fill="none" stroke="#f560f5" stroke-width="1.0" stroke-linejoin="round"/>
<polyline points="37.5,56.36 37.84,56.69 38.17,57.5 38.51,58.59 38.84,59.71 39.17,60.63 39.51,61.16 39.84,61.22 40.18,60.82 40.52,60.04 40.85,59.05 41.19,58.04 41.52,57.19 41.86,56.62 42.19,56.41 42.52,56.57 42.86,57.03 43.2,57.69 43.53,58.4 43.87,59.05 44.2,59.5 44.53,59.71 44.87,59.64 45.2,59.32 45.54,58.82 45.88,58.22 46.21,57.66 46.55,57.14 46.88,56.73 47.22,56.51 47.55,56.49 47.88,56.7 48.22,57.1 48.55,57.64 48.89,58.24 49.23,58.82 49.56,59.31 49.89,59.64 50.23,59.76 50.56,59.67 50.9,59.37 51.23,58.92 51.57,58.36 51.91,57.78 52.24,57.24 52.58,56.83 52.91,56.58 53.24,56.54 53.58,56.72 53.91,57.08 54.25,57.59 54.59,58.2 54.92,58.83 55.25,59.42 55.59,59.9 55.92,60.21 56.26,60.34 56.59,60.26 56.93,59.99 57.27,59.55 57.6,59 57.94,58.42 58.27,57.84 58.61,57.31 58.94,56.9 59.27,56.66 59.61,56.62 59.95,56.79 60.28,57.17 60.61,57.72 60.95,58.41 61.28,59.17 61.62,59.94 61.95,60.65 62.29,61.24 62.62,61.66 62.96,61.86 63.3,61.84 63.63,61.59 63.97,61.14 64.3,60.52 64.64,59.8 64.97,59.03 65.31,58.28 65.64,57.62 65.97,57.11 66.31,56.78 66.64,56.69 66.98,56.83 67.31,57.2 67.65,57.79 67.98,58.53 68.32,59.39 68.66,60.28 68.99,61.16 69.33,61.96 69.66,62.61 70,63.09 70.33,63.35 70.66,63.39 71,63.19 71.34,62.78 71.67,62.17 72,61.41 72.34,60.55 72.67,59.64 73.01,58.74 73.34,57.91 73.68,57.2 74.02,56.67 74.35,56.33 74.69,56.23 75.02,56.36 75.35,56.71 75.69,57.28 76.03,58.02 76.36,58.89 76.69,59.84 77.03,60.82 77.37,61.77 77.7,62.63 78.03,63.31 78.37,63.8 78.7,64.09 79.04,64.15 79.38,63.97 79.71,63.58 80.05,62.98 80.38,62.21 80.72,61.32 81.05,60.34 81.38,59.32 81.72,58.32 82.06,57.38 82.39,56.55 82.72,55.87 83.06,55.36 83.4,55.06 83.73,54.97 84.06,55.09 84.4,55.42 84.73,55.9 85.07,56.55 85.41,57.34 85.74,58.22 86.08,59.15 86.41,60.1 86.75,61.02 87.08,61.86 87.41,62.59 87.75,63.16 88.09,63.53 88.42,63.7 88.75,63.66 89.09,63.42 89.42,62.98 89.76,62.35 90.09,61.57 90.43,60.66 90.77,59.66 91.1,58.6 91.44,57.52 91.77,56.46 92.1,55.47 92.44,54.57 92.78,53.79 93.11,53.17 93.44,52.71 93.78,52.45 94.12,52.37 94.45,52.48 94.78,52.76 95.12,53.21 95.45,53.81 95.79,54.54 96.12,55.37 96.46,56.27 96.8,57.2 97.13,58.13 97.47,59.03 97.8,59.86 98.13,60.6 98.47,61.21 98.81,61.65 99.14,61.92 99.47,62.02 99.81,61.94 100.15,61.69 100.48,61.26 100.81,60.66 101.15,59.93 101.48,59.07 101.82,58.11 102.16,57.08 102.49,56 102.83,54.91 103.16,53.83 103.5,52.79 103.83,51.83 104.17,50.95 104.5,50.19 104.83,49.57 105.17,49.09 105.5,48.77 105.84,48.61 106.17,48.61 106.51,48.71 106.84,48.95 107.18,49.35 107.52,49.87 107.85,50.52 108.19,51.26 108.52,52.08 108.86,52.94 109.19,53.83 109.53,54.73 109.86,55.59 110.19,56.41 110.53,57.15 110.86,57.8 111.2,58.33 111.53,58.72 111.87,58.96 112.2,59.05 112.54,58.98 112.88,58.75 113.21,58.35 113.55,57.8 113.88,57.11 114.22,56.28 114.55,55.34 114.89,54.3 115.22,53.17 115.56,51.99 115.89,50.78 116.22,49.55 116.56,48.34 116.89,47.16 117.23,46.04 117.56,45 117.9,44.06 118.23,43.23 118.57,42.53 118.91,41.96 119.24,41.55 119.58,41.39 119.91,41.47 120.25,41.7 120.58,42.07 120.92,42.58 121.25,43.2 121.58,43.92 121.92,44.73 122.25,45.6 122.59,46.52 122.92,47.47 123.26,48.43 123.59,49.39 123.93,50.31 124.27,51.19 124.6,52.01 124.94,52.76 125.27,53.42 125.61,53.98 125.94,54.44 126.28,54.78 126.61,55.01 126.94,55.12 127.28,55.21 127.61,55.2 127.95,55.07 128.28,54.84 128.62,54.49 128.95,54.05 129.29,53.51 129.62,52.89 129.96,52.19 130.3,51.44 130.63,50.64 130.97,49.8 131.3,48.94 131.63,48.08 131.97,47.22 132.31,46.38 132.64,45.57 132.97,44.8 133.31,44.09 133.64,43.45 133.98,42.88 134.31,42.4 134.65,42 134.99,41.69 135.32,41.48 135.66,41.37 135.99,41.36 136.32,41.46 136.66,41.65 137,41.94 137.33,42.33 137.67,42.8 138,43.35 138.33,43.98 138.67,44.67 139,45.41 139.34,46.2 139.68,47.02 140.01,47.86 140.34,48.72 140.68,49.58 141.01,50.42 141.35,51.25 141.69,52.05 142.02,52.8 142.36,53.51 142.69,54.15 143.03,54.74 143.36,55.24 143.69,55.67 144.03,56.02 144.37,56.28 144.7,56.44 145.03,56.51 145.37,56.48 145.7,56.36 146.04,56.16 146.38,55.87 146.71,55.49 147.05,55.04 147.38,54.53 147.72,53.94 148.05,53.3 148.38,52.61 148.72,51.87 149.06,51.11 149.39,50.31 149.72,49.5 150.06,48.69 150.39,47.87 150.73,47.07 151.06,46.28 151.4,45.52 151.74,44.8 152.07,44.11 152.41,43.48 152.74,42.9 153.07,42.37 153.41,41.95 153.75,41.59 154.08,41.31 154.42,41.1 154.75,40.97 155.08,40.92 155.42,40.94 155.75,41.05 156.09,41.22 156.43,41.47 156.76,41.79 157.09,42.18 157.43,42.63 157.76,43.13 158.1,43.69 158.44,44.29 158.77,44.94 159.11,45.61 159.44,46.32 159.78,47.05 160.11,47.79 160.44,48.54 160.78,49.29 161.12,50.04 161.45,50.78 161.78,51.5 162.12,52.19 162.45,52.86 162.79,53.49 163.12,54.08 163.46,54.63 163.8,55.13 164.13,55.58 164.47,55.98 164.8,56.31 165.13,56.59 165.47,56.81 165.81,56.97 166.14,57.06 166.47,57.11 166.81,57.15 167.15,57.12 167.48,57.03 167.81,56.89 168.15,56.68 168.49,56.42 168.82,56.11 169.16,55.74 169.49,55.33 169.82,54.87 170.16,54.38 170.5,53.84 170.83,53.28 171.16,52.69 171.5,52.07 171.84,51.44 172.17,50.8 172.5,50.15 172.84,49.5 173.18,48.85 173.51,48.21 173.84,47.58 174.18,46.96 174.51,46.37 174.85,45.81 175.19,45.28 175.52,44.78 175.85,44.32 176.19,43.9 176.53,43.53 176.86,43.2 177.19,42.92 177.53,42.7 177.87,42.52 178.2,42.42 178.53,42.39 178.87,42.41 179.21,42.48 179.54,42.61 179.88,42.8 180.21,43.04 180.54,43.34 180.88,43.69 181.22,44.08 181.55,44.52 181.88,45.01 182.22,45.54 182.56,46.11 182.89,46.71 183.22,47.34 183.56,48 183.9,48.69 184.23,49.39 184.56,50.12 184.9,50.85 185.24,51.6 185.57,52.34 185.91,53.09 186.24,53.84 186.57,54.58 186.91,55.3 187.25,56.02 187.58,56.71 187.91,57.38 188.25,58.03 188.59,58.64 188.92,59.23 189.25,59.78 189.59,60.3 189.93,60.78 190.26,61.21 190.59,61.6 190.93,61.95 191.26,62.25 191.6,62.51 191.94,62.72 192.27,62.88 192.6,62.99 192.94,63.05 193.28,63.06 193.61,63.03 193.94,62.95 194.28,62.82 194.62,62.63 194.95,62.39 195.28,62.11 195.62,61.78 195.96,61.42 196.29,61.03 196.62,60.6 196.96,60.14 197.29,59.66 197.63,59.15 197.97,58.62 198.3,58.07 198.63,57.72 198.97,57.03 199.31,56.01 199.64,56.16 199.97,55.15 200.31,54.79 200.65,53.73 200.98,53.51 201.31,52.96 201.65,52.33 201.99,51.65 202.32,50.91 202.66,50.77 202.99,49.83 203.32,50.01 203.66,49.42 204,49.15 204.33,48.75 204.66,47.79 205,47.5 205.34,47.69 205.67,47.42 206,46.98 206.34,46.5 206.68,46.27 207.01,46.2 207.34,46.26 207.68,46.59 208.01,46.31 208.35,46.47 208.69,46.18 209.02,46.19 209.35,46.6 209.69,46.68 210.03,46.35 210.36,47.21 210.69,46.74 211.03,46.91 211.37,47.14 211.7,47.96 212.03,48.15 212.37,48.49 212.71,48.84 213.04,48.95 213.38,49.65 213.71,50.46 214.04,50.44 214.38,51.28 214.72,51.69 215.05,52.11 215.38,53.31 215.72,53.18 216.06,53.84 216.39,54.56 216.72,55.12 217.06,55.76 217.4,56.58 217.73,56.87 218.06,57.89 218.4,58.06 218.74,58.51 219.07,59.26 219.41,59.72 219.74,59.92 220.07,60.53 220.41,61.74 220.75,61.67 221.08,62.33 221.41,63.34 221.75,63.54 222.09,64.11 222.42,64.68 222.75,64.69 223.09,64.74 223.43,65.66 223.76,65.52 224.09,66.01 224.43,66.82 224.76,66.46 225.1,66.95 225.44,66.89 225.77,67.29 226.1,67.45 226.44,67.95 226.78,67.62 227.11,67.56 227.44,67.66 227.78,68.05 228.12,67.75 228.45,67.95 228.78,68.22 229.12,68.19 229.46,68.05 229.79,67.8 230.12,67.68 230.46,67.2 230.79,66.82 231.13,66.75 231.47,66.61 231.8,66.15 232.13,66.19 232.47,65.75 232.81,65.18 233.14,65.18 233.47,65.04 233.81,64.04 234.15,63.84 234.48,63.78 234.81,63.39 235.15,62.86 235.49,62.39 235.82,62.31 236.16,62.09 236.49,61.48 236.82,60.53 237.16,60.67 237.5,59.95 237.83,59.74 238.16,59.29 238.5,58.88" fill="none" stroke="#3cb064" stroke-width="1.0" stroke-linejoin="round"/>
<polyline points="37.5,42.36 37.84,41.14 38.17,39.83 38.51,38.69 38.84,37.95 39.17,37.71 39.51,38 39.84,38.71 40.18,39.66 40.52,40.65 40.85,41.46 41.19,41.95 41.52,42.04 41.86,41.72 42.19,41.07 42.52,40.23 42.86,39.34 43.2,38.57 43.53,38.02 43.87,37.78 44.2,37.84 44.53,38.17 44.87,38.68 45.2,39.27 45.54,39.82 45.88,40.24 46.21,40.6 46.55,40.74 46.88,40.66 47.22,40.36 47.55,39.89 47.88,39.33 48.22,38.77 48.55,38.28 48.89,37.95 49.23,37.82 49.56,37.93 49.89,38.24 50.23,38.73 50.56,39.32 50.9,39.95 51.23,40.52 51.57,40.96 51.91,41.22 52.24,41.27 52.58,41.09 52.91,40.73 53.24,40.21 53.58,39.62 53.91,39.03 54.25,38.5 54.59,38.12 54.92,37.91 55.25,37.92 55.59,38.14 55.92,38.54 56.26,39.09 56.59,39.72 56.93,40.37 57.27,40.96 57.6,41.44 57.94,41.8 58.27,41.97 58.61,41.93 58.94,41.68 59.27,41.24 59.61,40.67 59.95,40.03 60.28,39.37 60.61,38.78 60.95,38.32 61.28,38.03 61.62,37.97 61.95,38.13 62.29,38.52 62.62,39.1 62.96,39.83 63.3,40.65 63.63,41.48 63.97,42.27 64.3,42.94 64.64,43.43 64.97,43.71 65.31,43.74 65.64,43.54 65.97,43.11 66.31,42.49 66.64,41.74 66.98,40.92 67.31,40.09 67.65,39.34 67.98,38.71 68.32,38.27 68.66,38.06 68.99,38.09 69.33,38.37 69.66,38.86 70,39.54 70.33,40.36 70.66,41.26 71,42.17 71.34,43.02 71.67,43.77 72,44.37 72.34,44.78 72.67,44.97 73.01,44.92 73.34,44.63 73.68,44.12 74.02,43.42 74.35,42.57 74.69,41.64 75.02,40.67 75.35,39.73 75.69,38.87 76.03,38.16 76.36,37.63 76.69,37.32 77.03,37.25 77.37,37.42 77.7,37.83 78.03,38.44 78.37,39.22 78.7,40.12 79.04,41.08 79.38,42.06 79.71,42.99 80.05,43.82 80.38,44.52 80.72,45.02 81.05,45.32 81.38,45.39 81.72,45.24 82.06,44.86 82.39,44.28 82.72,43.52 83.06,42.63 83.4,41.65 83.73,40.62 84.06,39.6 84.4,38.64 84.73,37.75 85.07,36.99 85.41,36.4 85.74,36 86.08,35.82 86.41,35.85 86.75,36.09 87.08,36.54 87.41,37.16 87.75,37.93 88.09,38.8 88.42,39.74 88.75,40.7 89.09,41.63 89.42,42.5 89.76,43.26 90.09,43.88 90.43,44.34 90.77,44.62 91.1,44.69 91.44,44.57 91.77,44.24 92.1,43.73 92.44,43.05 92.78,42.22 93.11,41.29 93.44,40.28 93.78,39.22 94.12,38.17 94.45,37.15 94.78,36.19 95.12,35.34 95.45,34.62 95.79,34.06 96.12,33.66 96.46,33.44 96.8,33.41 97.13,33.56 97.47,33.83 97.8,34.28 98.13,34.87 98.47,35.58 98.81,36.39 99.14,37.27 99.47,38.19 99.81,39.11 100.15,40 100.48,40.82 100.81,41.56 101.15,42.18 101.48,42.66 101.82,42.98 102.16,43.09 102.49,43.01 102.83,42.75 103.16,42.32 103.5,41.72 103.83,40.98 104.17,40.11 104.5,39.14 104.83,38.08 105.17,36.97 105.5,35.84 105.84,34.72 106.17,33.63 106.51,32.6 106.84,31.66 107.18,30.82 107.52,30.12 107.85,29.55 108.19,29.14 108.52,28.89 108.86,28.81 109.19,28.89 109.53,29.13 109.86,29.53 110.19,30.06 110.53,30.7 110.86,31.43 111.2,32.24 111.53,33.09 111.87,33.98 112.2,34.86 112.54,35.72 112.88,36.53 113.21,37.28 113.55,37.94 113.88,38.49 114.22,38.93 114.55,39.24 114.89,39.41 115.22,39.43 115.56,39.34 115.89,39.12 116.22,38.77 116.56,38.28 116.89,37.67 117.23,36.94 117.56,36.11 117.9,35.2 118.23,34.22 118.57,33.19 118.91,32.14 119.24,31.09 119.58,30.05 119.91,29.04 120.25,28.09 120.58,27.2 120.92,26.41 121.25,25.71 121.58,25.13 121.92,24.68 122.25,24.35 122.59,24.18 122.92,24.22 123.26,24.39 123.59,24.7 123.93,25.12 124.27,25.65 124.6,26.27 124.94,26.99 125.27,27.77 125.61,28.61 125.94,29.48 126.28,30.38 126.61,31.28 126.94,32.16 127.28,33.02 127.61,33.83 127.95,34.59 128.28,35.28 128.62,35.88 128.95,36.4 129.29,36.81 129.62,37.12 129.96,37.32 130.3,37.41 130.63,37.38 130.97,37.29 131.3,37.09 131.63,36.79 131.97,36.38 132.31,35.88 132.64,35.3 132.97,34.64 133.31,33.92 133.64,33.15 133.98,32.33 134.31,31.49 134.65,30.63 134.99,29.77 135.32,28.92 135.66,28.09 135.99,27.3 136.32,26.55 136.66,25.86 137,25.23 137.33,24.68 137.67,24.2 138,23.81 138.33,23.52 138.67,23.32 139,23.21 139.34,23.2 139.68,23.28 140.01,23.45 140.34,23.71 140.68,24.06 141.01,24.49 141.35,24.99 141.69,25.57 142.02,26.21 142.36,26.89 142.69,27.63 143.03,28.39 143.36,29.18 143.69,29.98 144.03,30.78 144.37,31.57 144.7,32.35 145.03,33.1 145.37,33.81 145.7,34.48 146.04,35.09 146.38,35.64 146.71,36.13 147.05,36.54 147.38,36.88 147.72,37.13 148.05,37.3 148.38,37.38 148.72,37.38 149.06,37.3 149.39,37.14 149.72,36.89 150.06,36.57 150.39,36.17 150.73,35.69 151.06,35.15 151.4,34.55 151.74,33.9 152.07,33.19 152.41,32.45 152.74,31.67 153.07,30.87 153.41,30.06 153.75,29.23 154.08,28.41 154.42,27.6 154.75,26.81 155.08,26.04 155.42,25.31 155.75,24.61 156.09,23.97 156.43,23.38 156.76,22.84 157.09,22.37 157.43,21.97 157.76,21.65 158.1,21.39 158.44,21.22 158.77,21.12 159.11,21.13 159.44,21.28 159.78,21.51 160.11,21.81 160.44,22.18 160.78,22.62 161.12,23.12 161.45,23.67 161.78,24.28 162.12,24.92 162.45,25.61 162.79,26.33 163.12,27.08 163.46,27.84 163.8,28.62 164.13,29.4 164.47,30.18 164.8,30.96 165.13,31.72 165.47,32.46 165.81,33.18 166.14,33.87 166.47,34.52 166.81,35.13 167.15,35.7 167.48,36.22 167.81,36.69 168.15,37.11 168.49,37.47 168.82,37.77 169.16,38.02 169.49,38.2 169.82,38.32 170.16,38.39 170.5,38.45 170.83,38.45 171.16,38.4 171.5,38.3 171.84,38.13 172.17,37.92 172.5,37.65 172.84,37.34 173.18,36.98 173.51,36.58 173.84,36.14 174.18,35.67 174.51,35.17 174.85,34.64 175.19,34.09 175.52,33.53 175.85,32.95 176.19,32.37 176.53,31.78 176.86,31.19 177.19,30.61 177.53,30.05 177.87,29.49 178.2,28.96 178.53,28.45 178.87,27.97 179.21,27.51 179.54,27.09 179.88,26.71 180.21,26.37 180.54,26.06 180.88,25.81 181.22,25.6 181.55,25.43 181.88,25.32 182.22,25.25 182.56,25.24 182.89,25.27 183.22,25.34 183.56,25.44 183.9,25.6 184.23,25.81 184.56,26.06 184.9,26.36 185.24,26.71 185.57,27.1 185.91,27.53 186.24,28 186.57,28.5 186.91,29.04 187.25,29.61 187.58,30.21 187.91,30.83 188.25,31.47 188.59,32.13 188.92,32.8 189.25,33.49 189.59,34.18 189.93,34.87 190.26,35.57 190.59,36.26 190.93,36.94 191.26,37.61 191.6,38.27 191.94,38.91 192.27,39.53 192.6,40.13 192.94,40.7 193.28,41.24 193.61,41.75 193.94,42.22 194.28,42.66 194.62,43.07 194.95,43.43 195.28,43.75 195.62,44.02 195.96,44.26 196.29,44.45 196.62,44.59 196.96,44.69 197.29,44.75 197.63,44.76 197.97,44.71 198.3,44.6 198.63,44.53 198.97,44.55 199.31,44.45 199.64,44.1 199.97,43.75 200.31,43.12 200.65,43.13 200.98,42.76 201.31,41.95 201.65,41.53 201.99,40.78 202.32,40.87 202.66,40.04 202.99,39.51 203.32,39.3 203.66,37.91 204,38.02 204.33,37.56 204.66,36.66 205,36.37 205.34,35.4 205.67,35.09 206,34.75 206.34,34.27 206.68,33.15 207.01,33.04 207.34,32.09 207.68,31.91 208.01,31.04 208.35,31.18 208.69,30.82 209.02,30.43 209.35,29.58 209.69,29.43 210.03,29.39 210.36,29.35 210.69,28.59 211.03,28.13 211.37,28.3 211.7,28.69 212.03,28.56 212.37,28.43 212.71,28.33 213.04,28.41 213.38,28.39 213.71,27.89 214.04,27.73 214.38,28.45 214.72,27.88 215.05,28.49 215.38,28.38 215.72,28.5 216.06,28.72 216.39,29.81 216.72,29.87 217.06,29.93 217.4,29.97 217.73,31.12 218.06,31.33 218.4,31.25 218.74,32.34 219.07,32.55 219.41,33.08 219.74,33.25 220.07,33.53 220.41,34.72 220.75,34.74 221.08,35.28 221.41,35.73 221.75,36.53 222.09,36.75 222.42,37.81 222.75,38.32 223.09,39.04 223.43,39.11 223.76,39.93 224.09,40.67 224.43,41.3 224.76,41.35 225.1,41.98 225.44,42.41 225.77,43.22 226.1,43.63 226.44,44.42 226.78,44.39 227.11,45.47 227.44,45.52 227.78,45.69 228.12,46.18 228.45,47.1 228.78,47.35 229.12,47.17 229.46,47.69 229.79,47.8 230.12,48.11 230.46,48.77 230.79,48.63 231.13,49.01 231.47,49.58 231.8,49.75 232.13,50.19 232.47,50 232.81,49.58 233.14,50.4 233.47,50.02 233.81,50.44 234.15,50.46 234.48,49.92 234.81,50.23 235.15,50.33 235.49,50.15 235.82,49.59 236.16,49.52 236.49,49.88 236.82,49.52 237.16,48.68 237.5,49.14 237.83,48.62 238.16,48.52 238.5,47.95" fill="none" stroke="#6a64c8" stroke-width="1.0" stroke-linejoin="round"/>
<line x1="159.4" y1="130.9" x2="186.7" y2="21.5" stroke="#444" stroke-width="0.85"/>
<polygon points="187.6,17.3 185.3,22.6 188.4,22.9" fill="#333"/>
<text x="190" y="21.8" font-family="Liberation Sans" font-size="7" text-anchor="start" fill="#2a2a2a" stroke="#2a2a2a" stroke-width="0.2">10 mM Glu</text>
<text x="187" y="53" font-family="Liberation Sans" font-size="7" text-anchor="start" fill="#2a2a2a" stroke="#2a2a2a" stroke-width="0.2">8 mM</text>
<text x="181.5" y="72" font-family="Liberation Sans" font-size="7" text-anchor="start" fill="#2a2a2a" stroke="#2a2a2a" stroke-width="0.2">6 mM</text>
<text x="180.4" y="88.6" font-family="Liberation Sans" font-size="7" text-anchor="start" fill="#2a2a2a" stroke="#2a2a2a" stroke-width="0.2">4 mM</text>
<text x="173.2" y="106" font-family="Liberation Sans" font-size="7" text-anchor="start" fill="#2a2a2a" stroke="#2a2a2a" stroke-width="0.2">2 mM</text>
<text x="160.8" y="139.7" font-family="Liberation Sans" font-size="7" text-anchor="start" fill="#2a2a2a" stroke="#2a2a2a" stroke-width="0.2">0 mM</text>
<rect x="287.5" y="11.5" width="201" height="149" fill="none" stroke="#727272" stroke-width="1.0"/>
<line x1="320.5" y1="160.5" x2="320.5" y2="162.5" stroke="#727272" stroke-width="1.0"/>
<line x1="354.5" y1="160.5" x2="354.5" y2="162.5" stroke="#727272" stroke-width="1.0"/>
<line x1="387.5" y1="160.5" x2="387.5" y2="162.5" stroke="#727272" stroke-width="1.0"/>
<line x1="421.5" y1="160.5" x2="421.5" y2="162.5" stroke="#727272" stroke-width="1.0"/>
<line x1="454.5" y1="160.5" x2="454.5" y2="162.5" stroke="#727272" stroke-width="1.0"/>
<line x1="304.5" y1="160.5" x2="304.5" y2="163.5" stroke="#727272" stroke-width="1.0"/>
<text x="304.1" y="172.5" font-family="Liberation Serif" font-size="8.9" text-anchor="middle" fill="#1a1a1a" stroke="#1a1a1a" stroke-width="0.2">0</text>
<line x1="337.5" y1="160.5" x2="337.5" y2="163.5" stroke="#727272" stroke-width="1.0"/>
<text x="337.58" y="172.5" font-family="Liberation Serif" font-size="8.9" text-anchor="middle" fill="#1a1a1a" stroke="#1a1a1a" stroke-width="0.2">2</text>
<line x1="371.5" y1="160.5" x2="371.5" y2="163.5" stroke="#727272" stroke-width="1.0"/>
<text x="371.06" y="172.5" font-family="Liberation Serif" font-size="8.9" text-anchor="middle" fill="#1a1a1a" stroke="#1a1a1a" stroke-width="0.2">4</text>
<line x1="404.5" y1="160.5" x2="404.5" y2="163.5" stroke="#727272" stroke-width="1.0"/>
<text x="404.54" y="172.5" font-family="Liberation Serif" font-size="8.9" text-anchor="middle" fill="#1a1a1a" stroke="#1a1a1a" stroke-width="0.2">6</text>
<line x1="438.5" y1="160.5" x2="438.5" y2="163.5" stroke="#727272" stroke-width="1.0"/>
<text x="438.02" y="172.5" font-family="Liberation Serif" font-size="8.9" text-anchor="middle" fill="#1a1a1a" stroke="#1a1a1a" stroke-width="0.2">8</text>
<line x1="471.5" y1="160.5" x2="471.5" y2="163.5" stroke="#727272" stroke-width="1.0"/>
<text x="471.5" y="172.5" font-family="Liberation Serif" font-size="8.9" text-anchor="middle" fill="#1a1a1a" stroke="#1a1a1a" stroke-width="0.2">10</text>
<line x1="285.5" y1="159.5" x2="287.5" y2="159.5" stroke="#727272" stroke-width="1.0"/>
<line x1="285.5" y1="125.5" x2="287.5" y2="125.5" stroke="#727272" stroke-width="1.0"/>
<line x1="285.5" y1="90.5" x2="287.5" y2="90.5" stroke="#727272" stroke-width="1.0"/>
<line x1="285.5" y1="55.5" x2="287.5" y2="55.5" stroke="#727272" stroke-width="1.0"/>
<line x1="285.5" y1="20.5" x2="287.5" y2="20.5" stroke="#727272" stroke-width="1.0"/>
<line x1="284.5" y1="142.5" x2="287.5" y2="142.5" stroke="#727272" stroke-width="1.0"/>
<text x="282.1" y="145.4" font-family="Liberation Serif" font-size="8.6" text-anchor="end" fill="#1a1a1a" stroke="#1a1a1a" stroke-width="0.2">1.00</text>
<line x1="284.5" y1="107.5" x2="287.5" y2="107.5" stroke="#727272" stroke-width="1.0"/>
<text x="282.1" y="110.6" font-family="Liberation Serif" font-size="8.6" text-anchor="end" fill="#1a1a1a" stroke="#1a1a1a" stroke-width="0.2">1.04</text>
<line x1="284.5" y1="72.5" x2="287.5" y2="72.5" stroke="#727272" stroke-width="1.0"/>
<text x="282.1" y="75.8" font-family="Liberation Serif" font-size="8.6" text-anchor="end" fill="#1a1a1a" stroke="#1a1a1a" stroke-width="0.2">1.08</text>
<line x1="284.5" y1="38.5" x2="287.5" y2="38.5" stroke="#727272" stroke-width="1.0"/>
<text x="282.1" y="41" font-family="Liberation Serif" font-size="8.6" text-anchor="end" fill="#1a1a1a" stroke="#1a1a1a" stroke-width="0.2">1.12</text>
<text x="249.3" y="20.9" font-family="Liberation Sans" font-size="15" text-anchor="start" fill="#111">B</text>
<text x="384" y="187" font-family="Liberation Serif" font-size="11.6" text-anchor="middle" fill="#333">Glucose (mM/L)</text>
<text x="257.2" y="123.6" font-family="Liberation Serif" font-size="11.6" text-anchor="start" fill="#333" transform="rotate(-90 257.2 123.6)">Normalized SD</text>
<text x="262.2" y="49.1" font-family="Liberation Serif" font-size="6.5" text-anchor="middle" fill="#333" transform="rotate(-90 262.2 49.1)">c</text>
<rect x="290.4" y="13.6" width="40.4" height="33.8" fill="none" stroke="#555" stroke-width="0.8"/>
<rect x="297.45" y="17.45" width="4.3" height="4.3" fill="#000" stroke="none" stroke-width="1"/>
<circle cx="299.6" cy="31.2" r="2.4" fill="#f00"/>
<polygon points="299.6,39.14 296.7,44.06 302.5,44.06" fill="#0f0"/>
<text x="307" y="22.9" font-family="Liberation Serif" font-size="9.2" text-anchor="start" fill="#151515" stroke="#151515" stroke-width="0.15">pH7.4</text>
<text x="307" y="34.5" font-family="Liberation Serif" font-size="9.2" text-anchor="start" fill="#151515" stroke="#151515" stroke-width="0.15">pH8.0</text>
<text x="307" y="45.3" font-family="Liberation Serif" font-size="9.2" text-anchor="start" fill="#151515" stroke="#151515" stroke-width="0.15">pH8.5</text>
<line x1="337.58" y1="130.8" x2="337.58" y2="133.6" stroke="#f44" stroke-width="0.8"/>
<line x1="335.58" y1="130.8" x2="339.58" y2="130.8" stroke="#f44" stroke-width="0.8"/>
<line x1="335.58" y1="133.6" x2="339.58" y2="133.6" stroke="#f44" stroke-width="0.8"/>
<line x1="371.06" y1="107" x2="371.06" y2="119.4" stroke="#f44" stroke-width="0.8"/>
<line x1="369.06" y1="107" x2="373.06" y2="107" stroke="#f44" stroke-width="0.8"/>
<line x1="369.06" y1="119.4" x2="373.06" y2="119.4" stroke="#f44" stroke-width="0.8"/>
<line x1="438.02" y1="79.3" x2="438.02" y2="92.3" stroke="#f44" stroke-width="0.8"/>
<line x1="436.02" y1="79.3" x2="440.02" y2="79.3" stroke="#f44" stroke-width="0.8"/>
<line x1="436.02" y1="92.3" x2="440.02" y2="92.3" stroke="#f44" stroke-width="0.8"/>
<line x1="471.5" y1="58.5" x2="471.5" y2="79.3" stroke="#f44" stroke-width="0.8"/>
<line x1="469.5" y1="58.5" x2="473.5" y2="58.5" stroke="#f44" stroke-width="0.8"/>
<line x1="469.5" y1="79.3" x2="473.5" y2="79.3" stroke="#f44" stroke-width="0.8"/>
<line x1="337.58" y1="104.8" x2="337.58" y2="107.4" stroke="#4f4" stroke-width="0.8"/>
<line x1="335.58" y1="104.8" x2="339.58" y2="104.8" stroke="#4f4" stroke-width="0.8"/>
<line x1="335.58" y1="107.4" x2="339.58" y2="107.4" stroke="#4f4" stroke-width="0.8"/>
<line x1="371.06" y1="74.3" x2="371.06" y2="87.4" stroke="#4f4" stroke-width="0.8"/>
<line x1="369.06" y1="74.3" x2="373.06" y2="74.3" stroke="#4f4" stroke-width="0.8"/>
<line x1="369.06" y1="87.4" x2="373.06" y2="87.4" stroke="#4f4" stroke-width="0.8"/>
<line x1="438.02" y1="42.2" x2="438.02" y2="52.6" stroke="#4f4" stroke-width="0.8"/>
<line x1="436.02" y1="42.2" x2="440.02" y2="42.2" stroke="#4f4" stroke-width="0.8"/>
<line x1="436.02" y1="52.6" x2="440.02" y2="52.6" stroke="#4f4" stroke-width="0.8"/>
<line x1="471.5" y1="29.4" x2="471.5" y2="34.2" stroke="#4f4" stroke-width="0.8"/>
<line x1="469.5" y1="29.4" x2="473.5" y2="29.4" stroke="#4f4" stroke-width="0.8"/>
<line x1="469.5" y1="34.2" x2="473.5" y2="34.2" stroke="#4f4" stroke-width="0.8"/>
<rect x="301.7" y="139.9" width="4.8" height="4.8" fill="#000" stroke="none" stroke-width="1"/>
<rect x="335.18" y="136" width="4.8" height="4.8" fill="#000" stroke="none" stroke-width="1"/>
<rect x="368.66" y="130.1" width="4.8" height="4.8" fill="#000" stroke="none" stroke-width="1"/>
<rect x="402.14" y="128.2" width="4.8" height="4.8" fill="#000" stroke="none" stroke-width="1"/>
<rect x="435.62" y="126.2" width="4.8" height="4.8" fill="#000" stroke="none" stroke-width="1"/>
<rect x="469.1" y="120.2" width="4.8" height="4.8" fill="#000" stroke="none" stroke-width="1"/>
<circle cx="304.1" cy="142.3" r="2.5" fill="#f00"/>
<circle cx="337.58" cy="132.2" r="2.5" fill="#f00"/>
<circle cx="371.06" cy="113.2" r="2.5" fill="#f00"/>
<circle cx="404.54" cy="92.7" r="2.5" fill="#f00"/>
<circle cx="438.02" cy="85.9" r="2.5" fill="#f00"/>
<circle cx="471.5" cy="68.9" r="2.5" fill="#f00"/>
<polygon points="304.1,139.58 300.9,145.02 307.3,145.02" fill="#0f0"/>
<polygon points="337.58,103.38 334.38,108.82 340.78,108.82" fill="#0f0"/>
<polygon points="371.06,77.78 367.86,83.22 374.26,83.22" fill="#0f0"/>
<polygon points="404.54,61.48 401.34,66.92 407.74,66.92" fill="#0f0"/>
<polygon points="438.02,44.68 434.82,50.12 441.22,50.12" fill="#0f0"/>
<polygon points="471.5,27.88 468.3,33.32 474.7,33.32" fill="#0f0"/>
<rect x="531.5" y="8.5" width="202" height="150" fill="none" stroke="#727272" stroke-width="1.0"/>
<line x1="565.5" y1="158.5" x2="565.5" y2="160.5" stroke="#727272" stroke-width="1.0"/>
<line x1="598.5" y1="158.5" x2="598.5" y2="160.5" stroke="#727272" stroke-width="1.0"/>
<line x1="632.5" y1="158.5" x2="632.5" y2="160.5" stroke="#727272" stroke-width="1.0"/>
<line x1="666.5" y1="158.5" x2="666.5" y2="160.5" stroke="#727272" stroke-width="1.0"/>
<line x1="699.5" y1="158.5" x2="699.5" y2="160.5" stroke="#727272" stroke-width="1.0"/>
<line x1="548.5" y1="158.5" x2="548.5" y2="161.5" stroke="#727272" stroke-width="1.0"/>
<text x="548.7" y="170.4" font-family="Liberation Serif" font-size="8.9" text-anchor="middle" fill="#1a1a1a" stroke="#1a1a1a" stroke-width="0.2">0</text>
<line x1="582.5" y1="158.5" x2="582.5" y2="161.5" stroke="#727272" stroke-width="1.0"/>
<text x="582.22" y="170.4" font-family="Liberation Serif" font-size="8.9" text-anchor="middle" fill="#1a1a1a" stroke="#1a1a1a" stroke-width="0.2">2</text>
<line x1="615.5" y1="158.5" x2="615.5" y2="161.5" stroke="#727272" stroke-width="1.0"/>
<text x="615.74" y="170.4" font-family="Liberation Serif" font-size="8.9" text-anchor="middle" fill="#1a1a1a" stroke="#1a1a1a" stroke-width="0.2">4</text>
<line x1="649.5" y1="158.5" x2="649.5" y2="161.5" stroke="#727272" stroke-width="1.0"/>
<text x="649.26" y="170.4" font-family="Liberation Serif" font-size="8.9" text-anchor="middle" fill="#1a1a1a" stroke="#1a1a1a" stroke-width="0.2">6</text>
<line x1="682.5" y1="158.5" x2="682.5" y2="161.5" stroke="#727272" stroke-width="1.0"/>
<text x="682.78" y="170.4" font-family="Liberation Serif" font-size="8.9" text-anchor="middle" fill="#1a1a1a" stroke="#1a1a1a" stroke-width="0.2">8</text>
<line x1="716.5" y1="158.5" x2="716.5" y2="161.5" stroke="#727272" stroke-width="1.0"/>
<text x="716.3" y="170.4" font-family="Liberation Serif" font-size="8.9" text-anchor="middle" fill="#1a1a1a" stroke="#1a1a1a" stroke-width="0.2">10</text>
<line x1="529.5" y1="158.1" x2="531.5" y2="158.1" stroke="#727272" stroke-width="1.0"/>
<line x1="529.5" y1="122.9" x2="531.5" y2="122.9" stroke="#727272" stroke-width="1.0"/>
<line x1="529.5" y1="87.7" x2="531.5" y2="87.7" stroke="#727272" stroke-width="1.0"/>
<line x1="529.5" y1="52.5" x2="531.5" y2="52.5" stroke="#727272" stroke-width="1.0"/>
<line x1="529.5" y1="17.3" x2="531.5" y2="17.3" stroke="#727272" stroke-width="1.0"/>
<line x1="528.5" y1="140.5" x2="531.5" y2="140.5" stroke="#727272" stroke-width="1.0"/>
<text x="526.1" y="142.6" font-family="Liberation Sans" font-size="5.7" font-weight="bold" text-anchor="end" fill="#444">1.00</text>
<line x1="528.5" y1="105.3" x2="531.5" y2="105.3" stroke="#727272" stroke-width="1.0"/>
<text x="526.1" y="107.4" font-family="Liberation Sans" font-size="5.7" font-weight="bold" text-anchor="end" fill="#444">1.04</text>
<line x1="528.5" y1="70.1" x2="531.5" y2="70.1" stroke="#727272" stroke-width="1.0"/>
<text x="526.1" y="72.2" font-family="Liberation Sans" font-size="5.7" font-weight="bold" text-anchor="end" fill="#444">1.08</text>
<line x1="528.5" y1="34.9" x2="531.5" y2="34.9" stroke="#727272" stroke-width="1.0"/>
<text x="526.1" y="37" font-family="Liberation Sans" font-size="5.7" font-weight="bold" text-anchor="end" fill="#444">1.12</text>
<text x="497.2" y="18.6" font-family="Liberation Sans" font-size="15" text-anchor="start" fill="#111">C</text>
<text x="632.2" y="187" font-family="Liberation Serif" font-size="11.5" text-anchor="middle" fill="#333">Glucose (mM/L)</text>
<text x="508.2" y="121.4" font-family="Liberation Serif" font-size="11.6" text-anchor="start" fill="#333" transform="rotate(-90 508.2 121.4)">Normalized SD</text>
<text x="512.2" y="46.4" font-family="Liberation Serif" font-size="6.5" text-anchor="middle" fill="#333" transform="rotate(-90 512.2 46.4)">c</text>
<rect x="533.2" y="10.4" width="67.2" height="34.3" fill="none" stroke="#555" stroke-width="0.8"/>
<rect x="540.15" y="15.35" width="4.3" height="4.3" fill="#000" stroke="none" stroke-width="1"/>
<circle cx="542.3" cy="27.8" r="2.4" fill="#f00"/>
<polygon points="542.3,36.33 539.4,41.27 545.2,41.27" fill="#0f0"/>
<text x="549.5" y="20.9" font-family="Liberation Serif" font-size="9.4" text-anchor="start" fill="#151515" stroke="#151515" stroke-width="0.15">AAPBA-15%</text>
<text x="549.5" y="31.5" font-family="Liberation Serif" font-size="9.4" text-anchor="start" fill="#151515" stroke="#151515" stroke-width="0.15">AAPBA-10%</text>
<text x="549.5" y="42.3" font-family="Liberation Serif" font-size="9.4" text-anchor="start" fill="#151515" stroke="#151515" stroke-width="0.15">AAPBA-5%</text>
<line x1="582.22" y1="128.2" x2="582.22" y2="137" stroke="#f44" stroke-width="0.8"/>
<line x1="580.22" y1="128.2" x2="584.22" y2="128.2" stroke="#f44" stroke-width="0.8"/>
<line x1="580.22" y1="137" x2="584.22" y2="137" stroke="#f44" stroke-width="0.8"/>
<line x1="615.74" y1="116.9" x2="615.74" y2="130.3" stroke="#f44" stroke-width="0.8"/>
<line x1="613.74" y1="116.9" x2="617.74" y2="116.9" stroke="#f44" stroke-width="0.8"/>
<line x1="613.74" y1="130.3" x2="617.74" y2="130.3" stroke="#f44" stroke-width="0.8"/>
<line x1="649.26" y1="96.1" x2="649.26" y2="106.5" stroke="#f44" stroke-width="0.8"/>
<line x1="647.26" y1="96.1" x2="651.26" y2="96.1" stroke="#f44" stroke-width="0.8"/>
<line x1="647.26" y1="106.5" x2="651.26" y2="106.5" stroke="#f44" stroke-width="0.8"/>
<line x1="582.22" y1="102" x2="582.22" y2="104.5" stroke="#4f4" stroke-width="0.8"/>
<line x1="580.22" y1="102" x2="584.22" y2="102" stroke="#4f4" stroke-width="0.8"/>
<line x1="580.22" y1="104.5" x2="584.22" y2="104.5" stroke="#4f4" stroke-width="0.8"/>
<line x1="615.74" y1="72.5" x2="615.74" y2="84.3" stroke="#4f4" stroke-width="0.8"/>
<line x1="613.74" y1="72.5" x2="617.74" y2="72.5" stroke="#4f4" stroke-width="0.8"/>
<line x1="613.74" y1="84.3" x2="617.74" y2="84.3" stroke="#4f4" stroke-width="0.8"/>
<line x1="682.78" y1="40.3" x2="682.78" y2="49.4" stroke="#4f4" stroke-width="0.8"/>
<line x1="680.78" y1="40.3" x2="684.78" y2="40.3" stroke="#4f4" stroke-width="0.8"/>
<line x1="680.78" y1="49.4" x2="684.78" y2="49.4" stroke="#4f4" stroke-width="0.8"/>
<line x1="716.3" y1="26.5" x2="716.3" y2="29.8" stroke="#4f4" stroke-width="0.8"/>
<line x1="714.3" y1="26.5" x2="718.3" y2="26.5" stroke="#4f4" stroke-width="0.8"/>
<line x1="714.3" y1="29.8" x2="718.3" y2="29.8" stroke="#4f4" stroke-width="0.8"/>
<rect x="546.4" y="138.1" width="4.6" height="4.6" fill="#000" stroke="none" stroke-width="1"/>
<rect x="579.92" y="134.2" width="4.6" height="4.6" fill="#000" stroke="none" stroke-width="1"/>
<rect x="613.44" y="130.3" width="4.6" height="4.6" fill="#000" stroke="none" stroke-width="1"/>
<rect x="646.96" y="126.3" width="4.6" height="4.6" fill="#000" stroke="none" stroke-width="1"/>
<rect x="680.48" y="119.7" width="4.6" height="4.6" fill="#000" stroke="none" stroke-width="1"/>
<rect x="714" y="116.1" width="4.6" height="4.6" fill="#000" stroke="none" stroke-width="1"/>
<circle cx="548.7" cy="140.4" r="2.45" fill="#f00"/>
<circle cx="582.22" cy="133.8" r="2.45" fill="#f00"/>
<circle cx="615.74" cy="123.8" r="2.45" fill="#f00"/>
<circle cx="649.26" cy="101.4" r="2.45" fill="#f00"/>
<circle cx="682.78" cy="87.5" r="2.45" fill="#f00"/>
<circle cx="716.3" cy="72" r="2.45" fill="#f00"/>
<polygon points="548.7,137.68 545.5,143.12 551.9,143.12" fill="#0f0"/>
<polygon points="582.22,100.48 579.02,105.92 585.42,105.92" fill="#0f0"/>
<polygon points="615.74,75.38 612.54,80.82 618.94,80.82" fill="#0f0"/>
<polygon points="649.26,58.88 646.06,64.32 652.46,64.32" fill="#0f0"/>
<polygon points="682.78,41.98 679.58,47.42 685.98,47.42" fill="#0f0"/>
<polygon points="716.3,25.08 713.1,30.52 719.5,30.52" fill="#0f0"/>
<rect x="165.5" y="204.5" width="192" height="143" fill="none" stroke="#727272" stroke-width="1.0"/>
<line x1="210.5" y1="347.5" x2="210.5" y2="349.5" stroke="#727272" stroke-width="1.0"/>
<line x1="269.5" y1="347.5" x2="269.5" y2="349.5" stroke="#727272" stroke-width="1.0"/>
<line x1="328.5" y1="347.5" x2="328.5" y2="349.5" stroke="#727272" stroke-width="1.0"/>
<line x1="180.5" y1="347.5" x2="180.5" y2="350.5" stroke="#727272" stroke-width="1.0"/>
<text x="180.48" y="358.5" font-family="Liberation Serif" font-size="8.9" text-anchor="middle" fill="#1a1a1a" stroke="#1a1a1a" stroke-width="0.2">400</text>
<line x1="239.5" y1="347.5" x2="239.5" y2="350.5" stroke="#727272" stroke-width="1.0"/>
<text x="239.62" y="358.5" font-family="Liberation Serif" font-size="8.9" text-anchor="middle" fill="#1a1a1a" stroke="#1a1a1a" stroke-width="0.2">600</text>
<line x1="298.5" y1="347.5" x2="298.5" y2="350.5" stroke="#727272" stroke-width="1.0"/>
<text x="298.76" y="358.5" font-family="Liberation Serif" font-size="8.9" text-anchor="middle" fill="#1a1a1a" stroke="#1a1a1a" stroke-width="0.2">800</text>
<line x1="357.5" y1="347.5" x2="357.5" y2="350.5" stroke="#727272" stroke-width="1.0"/>
<text x="357.9" y="358.5" font-family="Liberation Serif" font-size="8.9" text-anchor="middle" fill="#1a1a1a" stroke="#1a1a1a" stroke-width="0.2">1000</text>
<line x1="163.5" y1="325.5" x2="165.5" y2="325.5" stroke="#727272" stroke-width="1.0"/>
<line x1="163.5" y1="303.5" x2="165.5" y2="303.5" stroke="#727272" stroke-width="1.0"/>
<line x1="163.5" y1="281.5" x2="165.5" y2="281.5" stroke="#727272" stroke-width="1.0"/>
<line x1="163.5" y1="259.5" x2="165.5" y2="259.5" stroke="#727272" stroke-width="1.0"/>
<line x1="163.5" y1="237.5" x2="165.5" y2="237.5" stroke="#727272" stroke-width="1.0"/>
<line x1="163.5" y1="215.5" x2="165.5" y2="215.5" stroke="#727272" stroke-width="1.0"/>
<line x1="162.5" y1="336.5" x2="165.5" y2="336.5" stroke="#727272" stroke-width="1.0"/>
<text x="161" y="339.2" font-family="Liberation Serif" font-size="8.9" text-anchor="end" fill="#1a1a1a" stroke="#1a1a1a" stroke-width="0.2">30</text>
<line x1="162.5" y1="314.5" x2="165.5" y2="314.5" stroke="#727272" stroke-width="1.0"/>
<text x="161" y="317.18" font-family="Liberation Serif" font-size="8.9" text-anchor="end" fill="#1a1a1a" stroke="#1a1a1a" stroke-width="0.2">40</text>
<line x1="162.5" y1="292.5" x2="165.5" y2="292.5" stroke="#727272" stroke-width="1.0"/>
<text x="161" y="295.17" font-family="Liberation Serif" font-size="8.9" text-anchor="end" fill="#1a1a1a" stroke="#1a1a1a" stroke-width="0.2">50</text>
<line x1="162.5" y1="270.5" x2="165.5" y2="270.5" stroke="#727272" stroke-width="1.0"/>
<text x="161" y="273.15" font-family="Liberation Serif" font-size="8.9" text-anchor="end" fill="#1a1a1a" stroke="#1a1a1a" stroke-width="0.2">60</text>
<line x1="162.5" y1="248.5" x2="165.5" y2="248.5" stroke="#727272" stroke-width="1.0"/>
<text x="161" y="251.13" font-family="Liberation Serif" font-size="8.9" text-anchor="end" fill="#1a1a1a" stroke="#1a1a1a" stroke-width="0.2">70</text>
<line x1="162.5" y1="226.5" x2="165.5" y2="226.5" stroke="#727272" stroke-width="1.0"/>
<text x="161" y="229.12" font-family="Liberation Serif" font-size="8.9" text-anchor="end" fill="#1a1a1a" stroke="#1a1a1a" stroke-width="0.2">80</text>
<line x1="162.5" y1="204.5" x2="165.5" y2="204.5" stroke="#727272" stroke-width="1.0"/>
<text x="161" y="207.1" font-family="Liberation Serif" font-size="8.9" text-anchor="end" fill="#1a1a1a" stroke="#1a1a1a" stroke-width="0.2">90</text>
<text x="135.8" y="214" font-family="Liberation Sans" font-size="15" text-anchor="start" fill="#111">D</text>
<text x="261.8" y="373.3" font-family="Liberation Serif" font-size="11.3" text-anchor="middle" fill="#333">Wavelength (nm)</text>
<text x="142.6" y="275.7" font-family="Liberation Serif" font-size="11.4" text-anchor="middle" fill="#333" transform="rotate(-90 142.6 275.7)">Intensity (a.u.)</text>
<polyline points="165.7,340.6 166,340.51 166.29,340.3 166.59,339.97 166.88,339.57 167.18,339.13 167.47,338.69 167.77,338.29 168.07,337.96 168.36,337.73 168.66,337.61 168.95,337.6 169.25,337.69 169.54,337.87 169.84,338.12 170.14,338.41 170.43,338.66 170.73,338.93 171.02,339.17 171.32,339.35 171.61,339.47 171.91,339.49 172.21,339.41 172.5,339.23 172.8,338.95 173.09,338.59 173.39,338.23 173.68,337.81 173.98,337.35 174.28,336.9 174.57,336.47 174.87,336.12 175.16,335.87 175.46,335.74 175.75,335.75 176.05,335.91 176.34,336.25 176.64,336.69 176.94,337.22 177.23,337.8 177.53,338.38 177.82,338.93 178.12,339.42 178.41,339.8 178.71,340.06 179.01,340.16 179.3,340.04 179.6,339.77 179.89,339.37 180.19,338.85 180.48,338.25 180.78,337.61 181.08,336.95 181.37,336.31 181.67,335.74 181.96,335.25 182.26,334.87 182.55,334.63 182.85,334.53 183.15,334.57 183.44,334.75 183.74,335.06 184.03,335.47 184.33,335.97 184.62,336.52 184.92,337.1 185.22,337.67 185.51,338.2 185.81,338.67 186.1,339.05 186.4,339.32 186.69,339.46 186.99,339.48 187.29,339.36 187.58,339.11 187.88,338.74 188.17,338.27 188.47,337.71 188.76,337.09 189.06,336.45 189.36,335.79 189.65,335.16 189.95,334.58 190.24,334.06 190.54,333.64 190.83,333.33 191.13,333.14 191.43,333.07 191.72,333.13 192.02,333.31 192.31,333.61 192.61,334 192.9,334.47 193.2,335.01 193.5,335.58 193.79,336.17 194.09,336.75 194.38,337.29 194.68,337.78 194.97,338.2 195.27,338.52 195.56,338.74 195.86,338.84 196.16,338.83 196.45,338.72 196.75,338.5 197.04,338.16 197.34,337.73 197.63,337.21 197.93,336.62 198.23,335.98 198.52,335.31 198.82,334.64 199.11,333.98 199.41,333.35 199.7,332.78 200,332.29 200.3,331.88 200.59,331.58 200.89,331.39 201.18,331.33 201.48,331.4 201.77,331.58 202.07,331.87 202.37,332.26 202.66,332.74 202.96,333.29 203.25,333.89 203.55,334.53 203.84,335.19 204.14,335.85 204.44,336.49 204.73,337.08 205.03,337.63 205.32,338.1 205.62,338.48 205.91,338.78 206.21,338.97 206.51,339.05 206.8,339.02 207.1,338.88 207.39,338.63 207.69,338.28 207.98,337.84 208.28,337.32 208.58,336.74 208.87,336.11 209.17,335.44 209.46,334.76 209.76,334.08 210.05,333.41 210.35,332.78 210.65,332.19 210.94,331.65 211.24,331.19 211.53,330.81 211.83,330.52 212.12,330.33 212.42,330.22 212.72,330.22 213.01,330.31 213.31,330.5 213.6,330.78 213.9,331.14 214.19,331.58 214.49,332.08 214.78,332.63 215.08,333.23 215.38,333.85 215.67,334.48 215.97,335.11 216.26,335.73 216.56,336.32 216.85,336.88 217.15,337.38 217.45,337.82 217.74,338.19 218.04,338.48 218.33,338.69 218.63,338.81 218.92,338.84 219.22,338.76 219.52,338.6 219.81,338.35 220.11,338.02 220.4,337.61 220.7,337.14 220.99,336.61 221.29,336.04 221.59,335.42 221.88,334.78 222.18,334.12 222.47,333.46 222.77,332.81 223.06,332.17 223.36,331.56 223.66,330.99 223.95,330.47 224.25,329.99 224.54,329.58 224.84,329.24 225.13,328.97 225.43,328.77 225.73,328.65 226.02,328.6 226.32,328.63 226.61,328.74 226.91,328.92 227.2,329.17 227.5,329.48 227.8,329.86 228.09,330.28 228.39,330.75 228.68,331.25 228.98,331.79 229.27,332.34 229.57,332.91 229.87,333.47 230.16,334.03 230.46,334.57 230.75,335.09 231.05,335.58 231.34,336.03 231.64,336.43 231.94,336.79 232.23,337.08 232.53,337.35 232.82,337.57 233.12,337.71 233.41,337.79 233.71,337.8 234,337.74 234.3,337.61 234.6,337.42 234.89,337.16 235.19,336.84 235.48,336.46 235.78,336.03 236.07,335.55 236.37,335.03 236.67,334.48 236.96,333.9 237.26,333.29 237.55,332.68 237.85,332.05 238.14,331.43 238.44,330.82 238.74,330.22 239.03,329.65 239.33,329.1 239.62,328.6 239.92,328.13 240.21,327.71 240.51,327.34 240.81,327.03 241.1,326.77 241.4,326.61 241.69,326.5 241.99,326.47 242.28,326.49 242.58,326.58 242.88,326.74 243.17,326.95 243.47,327.23 243.76,327.56 244.06,327.94 244.35,328.37 244.65,328.84 244.95,329.34 245.24,329.88 245.54,330.45 245.83,331.03 246.13,331.63 246.42,332.24 246.72,332.85 247.02,333.45 247.31,334.05 247.61,334.63 247.9,335.18 248.2,335.71 248.49,336.21 248.79,336.67 249.09,337.08 249.38,337.46 249.68,337.78 249.97,338.06 250.27,338.28 250.56,338.45 250.86,338.56 251.16,338.61 251.45,338.6 251.75,338.52 252.04,338.37 252.34,338.18 252.63,337.93 252.93,337.63 253.22,337.28 253.52,336.89 253.82,336.47 254.11,336 254.41,335.51 254.7,334.98 255,334.44 255.29,333.88 255.59,333.3 255.89,332.71 256.18,332.12 256.48,331.54 256.77,330.95 257.07,330.38 257.36,329.82 257.66,329.28 257.96,328.77 258.25,328.28 258.55,327.82 258.84,327.39 259.14,327 259.43,326.65 259.73,326.34 260.03,326.07 260.32,325.85 260.62,325.68 260.91,325.55 261.21,325.46 261.5,325.43 261.8,325.44 262.1,325.51 262.39,325.63 262.69,325.79 262.98,325.99 263.28,326.23 263.57,326.52 263.87,326.83 264.17,327.18 264.46,327.56 264.76,327.97 265.05,328.4 265.35,328.86 265.64,329.33 265.94,329.81 266.24,330.31 266.53,330.81 266.83,331.32 267.12,331.82 267.42,332.33 267.71,332.83 268.01,333.31 268.31,333.79 268.6,334.25 268.9,334.69 269.19,335.11 269.49,335.5 269.78,335.87 270.08,336.22 270.38,336.53 270.67,336.81 270.97,337.06 271.26,337.27 271.56,337.45 271.85,337.59 272.15,337.69 272.44,337.76 272.74,337.79 273.04,337.78 273.33,337.74 273.63,337.66 273.92,337.55 274.22,337.4 274.51,337.25 274.81,337.06 275.11,336.84 275.4,336.59 275.7,336.32 275.99,336.01 276.29,335.68 276.58,335.33 276.88,334.96 277.18,334.57 277.47,334.16 277.77,333.74 278.06,333.31 278.36,332.87 278.65,332.42 278.95,331.97 279.25,331.51 279.54,331.06 279.84,330.61 280.13,330.16 280.43,329.72 280.72,329.29 281.02,328.88 281.32,328.47 281.61,328.09 281.91,327.72 282.2,327.37 282.5,327.04 282.79,326.74 283.09,326.46 283.39,326.2 283.68,325.97 283.98,325.77 284.27,325.6 284.57,325.46 284.86,325.35 285.16,325.26 285.46,325.21 285.75,325.19 286.05,325.2 286.34,325.24 286.64,325.31 286.93,325.41 287.23,325.53 287.53,325.69 287.82,325.87 288.12,326.08 288.41,326.32 288.71,326.58 289,326.87 289.3,327.17 289.6,327.5 289.89,327.85 290.19,328.21 290.48,328.59 290.78,328.99 291.07,329.39 291.37,329.81 291.66,330.24 291.96,330.67 292.26,331.11 292.55,331.55 292.85,332 293.14,332.44 293.44,332.89 293.73,333.32 294.03,333.76 294.33,334.19 294.62,334.6 294.92,335.01 295.21,335.41 295.51,335.79 295.8,336.16 296.1,336.51 296.4,336.85 296.69,337.17 296.99,337.46 297.28,337.74 297.58,337.99 297.87,338.23 298.17,338.43 298.47,338.62 298.76,338.78 299.06,338.91 299.35,339.02 299.65,339.1 299.94,339.16 300.24,339.2 300.54,339.2 300.83,339.18 301.13,339.14 301.42,339.07 301.72,338.98 302.01,338.86 302.31,338.72 302.61,338.55 302.9,338.37 303.2,338.16 303.49,337.93 303.79,337.68 304.08,337.41 304.38,337.13 304.68,336.82 304.97,336.51 305.27,336.17 305.56,335.83 305.86,335.47 306.15,335.1 306.45,334.72 306.75,334.34 307.04,333.94 307.34,333.54 307.63,333.14 307.93,332.73 308.22,332.32 308.52,331.91 308.82,331.51 309.11,331.1 309.41,330.7 309.7,330.3 310,329.91 310.29,329.52 310.59,329.15 310.88,328.79 311.18,328.44 311.48,328.11 311.77,327.79 312.07,327.48 312.36,327.19 312.66,326.91 312.95,326.65 313.25,326.4 313.55,326.17 313.84,325.96 314.14,325.76 314.43,325.58 314.73,325.42 315.02,325.28 315.32,325.15 315.62,325.04 315.91,324.94 316.21,324.86 316.5,324.8 316.8,324.75 317.09,324.76 317.39,324.85 317.69,325.03 317.98,325.19 318.28,325.4 318.57,325.28 318.87,325.67 319.16,326.01 319.46,325.73 319.76,326.24 320.05,326.1 320.35,326.8 320.64,326.95 320.94,327.39 321.23,327.17 321.53,327.46 321.83,327.73 322.12,327.87 322.42,327.98 322.71,328.86 323.01,329.08 323.3,329.58 323.6,330.48 323.9,329.97 324.19,330.34 324.49,330.33 324.78,331.55 325.08,331.68 325.37,332.08 325.67,331.95 325.97,333.36 326.26,333.62 326.56,333.65 326.85,334.74 327.15,334.36 327.44,333.99 327.74,334.74 328.04,334.71 328.33,334.98 328.63,336.22 328.92,336.57 329.22,335.32 329.51,336.59 329.81,337.04 330.1,338.22 330.4,338.53 330.7,338.94 330.99,337.4 331.29,337.42 331.58,337.21 331.88,336.99 332.17,337.95 332.47,337.68 332.77,338.66 333.06,339.45 333.36,338.6 333.65,338.48 333.95,338.42 334.24,339.63 334.54,339.51 334.84,340.44 335.13,339.48 335.43,339.37 335.72,340.93 336.02,339.92 336.31,341.23 336.61,341.88 336.91,340.55 337.2,340.96 337.5,340.49 337.79,339.92 338.09,341.04 338.38,339.68 338.68,340.17 338.98,339.87 339.27,339.85 339.57,338.76 339.86,338.2 340.16,338.96 340.45,339.58 340.75,339.23 341.05,338.68 341.34,339.14 341.64,339 341.93,337.33 342.23,336.67 342.52,335.59 342.82,335.01 343.12,334.88 343.41,335.9 343.71,336.66 344,336.46 344.3,335.85 344.59,335.31 344.89,334.9 345.19,335.02 345.48,333.72 345.78,334.42 346.07,334.12 346.37,332.8 346.66,332.31 346.96,333.18 347.26,333.51 347.55,332.12 347.85,333.33 348.14,333.37 348.44,332.27 348.73,331.66 349.03,332.17 349.32,332.51 349.62,332.12 349.92,330.46 350.21,330.39 350.51,328.98 350.8,328.75 351.1,328.06 351.39,329.94 351.69,330.21 351.99,330.61 352.28,329.63 352.58,329.35 352.87,329.83 353.17,328.71 353.46,329.25 353.76,328.83 354.06,328.72 354.35,327.24 354.65,327.48 354.94,327.87 355.24,328.47 355.53,327.69 355.83,326.82 356.13,326.29 356.42,325.42 356.72,325.26 357.01,326.49 357.31,327.2 357.6,325.91 357.9,325.27" fill="none" stroke="#5a5a5a" stroke-width="1.0" stroke-linejoin="round"/>
<polyline points="165.7,327.1 166,326.83 166.29,326.71 166.59,326.73 166.88,326.89 167.18,327.15 167.47,327.49 167.77,327.87 168.07,328.23 168.36,328.55 168.66,328.79 168.95,328.93 169.25,328.96 169.54,328.87 169.84,328.68 170.14,328.41 170.43,328.05 170.73,327.64 171.02,327.21 171.32,326.78 171.61,326.39 171.91,326.08 172.21,325.85 172.5,325.72 172.8,325.71 173.09,325.81 173.39,326.02 173.68,326.33 173.98,326.72 174.28,327.15 174.57,327.59 174.87,328 175.16,328.34 175.46,328.57 175.75,328.67 176.05,328.62 176.34,328.41 176.64,328.07 176.94,327.6 177.23,327.05 177.53,326.45 177.82,325.84 178.12,325.26 178.41,324.76 178.71,324.38 179.01,324.14 179.3,324.05 179.6,324.14 179.89,324.38 180.19,324.76 180.48,325.25 180.78,325.82 181.08,326.42 181.37,327.03 181.67,327.59 181.96,328.08 182.26,328.46 182.55,328.71 182.85,328.82 183.15,328.76 183.44,328.56 183.74,328.22 184.03,327.75 184.33,327.18 184.62,326.54 184.92,325.87 185.22,325.2 185.51,324.56 185.81,323.99 186.1,323.51 186.4,323.14 186.69,322.91 186.99,322.82 187.29,322.88 187.58,323.07 187.88,323.39 188.17,323.82 188.47,324.34 188.76,324.91 189.06,325.52 189.36,326.12 189.65,326.68 189.95,327.19 190.24,327.61 190.54,327.93 190.83,328.12 191.13,328.18 191.43,328.11 191.72,327.9 192.02,327.57 192.31,327.12 192.61,326.58 192.9,325.97 193.2,325.31 193.5,324.63 193.79,323.95 194.09,323.31 194.38,322.72 194.68,322.21 194.97,321.8 195.27,321.5 195.56,321.32 195.86,321.27 196.16,321.35 196.45,321.56 196.75,321.87 197.04,322.3 197.34,322.81 197.63,323.38 197.93,324.01 198.23,324.65 198.52,325.29 198.82,325.91 199.11,326.47 199.41,326.97 199.7,327.37 200,327.68 200.3,327.86 200.59,327.92 200.89,327.86 201.18,327.67 201.48,327.36 201.77,326.94 202.07,326.43 202.37,325.84 202.66,325.19 202.96,324.5 203.25,323.8 203.55,323.09 203.84,322.42 204.14,321.79 204.44,321.23 204.73,320.74 205.03,320.36 205.32,320.08 205.62,319.91 205.91,319.86 206.21,319.93 206.51,320.12 206.8,320.41 207.1,320.81 207.39,321.29 207.69,321.85 207.98,322.46 208.28,323.11 208.58,323.78 208.87,324.45 209.17,325.11 209.46,325.73 209.76,326.31 210.05,326.81 210.35,327.24 210.65,327.57 210.94,327.81 211.24,327.94 211.53,327.97 211.83,327.89 212.12,327.7 212.42,327.41 212.72,327.03 213.01,326.56 213.31,326.02 213.6,325.42 213.9,324.77 214.19,324.09 214.49,323.39 214.78,322.69 215.08,322.01 215.38,321.36 215.67,320.75 215.97,320.19 216.26,319.71 216.56,319.31 216.85,318.99 217.15,318.76 217.45,318.63 217.74,318.6 218.04,318.66 218.33,318.82 218.63,319.07 218.92,319.41 219.22,319.82 219.52,320.3 219.81,320.84 220.11,321.41 220.4,322.02 220.7,322.65 220.99,323.28 221.29,323.9 221.59,324.51 221.88,325.08 222.18,325.61 222.47,326.08 222.77,326.49 223.06,326.83 223.36,327.1 223.66,327.28 223.95,327.38 224.25,327.39 224.54,327.32 224.84,327.16 225.13,326.92 225.43,326.61 225.73,326.22 226.02,325.76 226.32,325.25 226.61,324.69 226.91,324.09 227.2,323.46 227.5,322.81 227.8,322.15 228.09,321.5 228.39,320.85 228.68,320.23 228.98,319.63 229.27,319.08 229.57,318.57 229.87,318.12 230.16,317.73 230.46,317.4 230.75,317.15 231.05,316.96 231.34,316.86 231.64,316.82 231.94,316.86 232.23,316.98 232.53,317.17 232.82,317.42 233.12,317.74 233.41,318.13 233.71,318.56 234,319.04 234.3,319.57 234.6,320.13 234.89,320.71 235.19,321.31 235.48,321.92 235.78,322.52 236.07,323.12 236.37,323.7 236.67,324.26 236.96,324.78 237.26,325.26 237.55,325.7 237.85,326.08 238.14,326.41 238.44,326.67 238.74,326.87 239.03,327 239.33,327.06 239.62,327.05 239.92,326.96 240.21,326.81 240.51,326.59 240.81,326.3 241.1,325.95 241.4,325.54 241.69,325.09 241.99,324.59 242.28,324.04 242.58,323.47 242.88,322.87 243.17,322.25 243.47,321.61 243.76,320.98 244.06,320.34 244.35,319.72 244.65,319.11 244.95,318.53 245.24,317.98 245.54,317.46 245.83,316.98 246.13,316.55 246.42,316.17 246.72,315.85 247.02,315.58 247.31,315.38 247.61,315.23 247.9,315.15 248.2,315.13 248.49,315.18 248.79,315.29 249.09,315.46 249.38,315.7 249.68,315.99 249.97,316.33 250.27,316.72 250.56,317.16 250.86,317.64 251.16,318.15 251.45,318.7 251.75,319.27 252.04,319.85 252.34,320.44 252.63,321.04 252.93,321.64 253.22,322.24 253.52,322.82 253.82,323.39 254.11,323.94 254.41,324.46 254.7,324.95 255,325.4 255.29,325.81 255.59,326.18 255.89,326.5 256.18,326.78 256.48,327.01 256.77,327.18 257.07,327.3 257.36,327.36 257.66,327.37 257.96,327.33 258.25,327.23 258.55,327.08 258.84,326.88 259.14,326.64 259.43,326.34 259.73,326 260.03,325.62 260.32,325.21 260.62,324.75 260.91,324.27 261.21,323.77 261.5,323.24 261.8,322.69 262.1,322.14 262.39,321.57 262.69,321.01 262.98,320.44 263.28,319.88 263.57,319.33 263.87,318.79 264.17,318.27 264.46,317.77 264.76,317.29 265.05,316.84 265.35,316.42 265.64,316.04 265.94,315.68 266.24,315.37 266.53,315.1 266.83,314.86 267.12,314.67 267.42,314.53 267.71,314.42 268.01,314.36 268.31,314.34 268.6,314.37 268.9,314.44 269.19,314.55 269.49,314.7 269.78,314.89 270.08,315.12 270.38,315.38 270.67,315.68 270.97,316.01 271.26,316.36 271.56,316.74 271.85,317.15 272.15,317.57 272.44,318.01 272.74,318.47 273.04,318.94 273.33,319.41 273.63,319.89 273.92,320.38 274.22,320.86 274.51,321.35 274.81,321.84 275.11,322.32 275.4,322.79 275.7,323.24 275.99,323.68 276.29,324.11 276.58,324.51 276.88,324.88 277.18,325.24 277.47,325.56 277.77,325.86 278.06,326.13 278.36,326.36 278.65,326.57 278.95,326.74 279.25,326.87 279.54,326.97 279.84,327.04 280.13,327.07 280.43,327.06 280.72,327.02 281.02,326.95 281.32,326.84 281.61,326.7 281.91,326.52 282.2,326.32 282.5,326.08 282.79,325.82 283.09,325.53 283.39,325.21 283.68,324.87 283.98,324.51 284.27,324.13 284.57,323.74 284.86,323.32 285.16,322.9 285.46,322.46 285.75,322.02 286.05,321.57 286.34,321.11 286.64,320.65 286.93,320.19 287.23,319.74 287.53,319.29 287.82,318.85 288.12,318.42 288.41,317.99 288.71,317.59 289,317.19 289.3,316.82 289.6,316.46 289.89,316.12 290.19,315.81 290.48,315.51 290.78,315.25 291.07,315 291.37,314.79 291.66,314.6 291.96,314.44 292.26,314.31 292.55,314.2 292.85,314.13 293.14,314.09 293.44,314.07 293.73,314.09 294.03,314.14 294.33,314.21 294.62,314.32 294.92,314.45 295.21,314.61 295.51,314.8 295.8,315.01 296.1,315.25 296.4,315.51 296.69,315.8 296.99,316.1 297.28,316.43 297.58,316.77 297.87,317.14 298.17,317.52 298.47,317.91 298.76,318.31 299.06,318.73 299.35,319.15 299.65,319.59 299.94,320.03 300.24,320.47 300.54,320.92 300.83,321.36 301.13,321.81 301.42,322.25 301.72,322.69 302.01,323.12 302.31,323.55 302.61,323.96 302.9,324.37 303.2,324.76 303.49,325.14 303.79,325.51 304.08,325.86 304.38,326.19 304.68,326.51 304.97,326.8 305.27,327.08 305.56,327.33 305.86,327.57 306.15,327.78 306.45,327.97 306.75,328.13 307.04,328.27 307.34,328.39 307.63,328.48 307.93,328.54 308.22,328.59 308.52,328.6 308.82,328.59 309.11,328.56 309.41,328.5 309.7,328.42 310,328.32 310.29,328.19 310.59,328.04 310.88,327.86 311.18,327.65 311.48,327.43 311.77,327.18 312.07,326.92 312.36,326.63 312.66,326.34 312.95,326.02 313.25,325.7 313.55,325.36 313.84,325.01 314.14,324.65 314.43,324.28 314.73,323.91 315.02,323.53 315.32,323.14 315.62,322.75 315.91,322.36 316.21,321.97 316.5,321.58 316.8,321.19 317.09,320.77 317.39,320.4 317.69,320.1 317.98,319.8 318.28,319.55 318.57,319 318.87,318.44 319.16,317.99 319.46,317.86 319.76,317.49 320.05,316.97 320.35,316.65 320.64,316.51 320.94,316.47 321.23,316.2 321.53,316.31 321.83,316.22 322.12,315.51 322.42,314.71 322.71,314.82 323.01,314.94 323.3,314.98 323.6,314.77 323.9,314.07 324.19,314.26 324.49,313.44 324.78,314.39 325.08,314.46 325.37,314.07 325.67,314.18 325.97,313.48 326.26,313.3 326.56,313.08 326.85,313.74 327.15,315.37 327.44,314.94 327.74,314.94 328.04,315.22 328.33,315.96 328.63,315.36 328.92,314.78 329.22,316.66 329.51,316.2 329.81,316.9 330.1,317 330.4,316.29 330.7,316.03 330.99,316.87 331.29,318.47 331.58,317.54 331.88,319.15 332.17,319.49 332.47,318.74 332.77,319.88 333.06,320.63 333.36,319.48 333.65,319.23 333.95,320.84 334.24,321.5 334.54,322.22 334.84,323.06 335.13,323.3 335.43,321.82 335.72,323.59 336.02,324.12 336.31,324.59 336.61,325.25 336.91,324.62 337.2,324.02 337.5,323.73 337.79,324.29 338.09,324.24 338.38,326.36 338.68,326.7 338.98,325.37 339.27,327.15 339.57,327.55 339.86,327.34 340.16,327.94 340.45,327.65 340.75,328.89 341.05,329.08 341.34,327.54 341.64,329.04 341.93,327.92 342.23,329.37 342.52,328.09 342.82,328.47 343.12,328.81 343.41,330.27 343.71,331.18 344,329.94 344.3,330.95 344.59,331.41 344.89,330.16 345.19,329.57 345.48,331.18 345.78,329.54 346.07,329.84 346.37,330.23 346.66,330.95 346.96,330.45 347.26,328.7 347.55,329.6 347.85,330.21 348.14,330.31 348.44,330.27 348.73,329.59 349.03,327.83 349.32,329.03 349.62,329.1 349.92,327.19 350.21,326.15 350.51,325.64 350.8,327.07 351.1,327.24 351.39,325.72 351.69,326.1 351.99,325.58 352.28,326.17 352.58,326.96 352.87,326.35 353.17,324.98 353.46,324.2 353.76,324.25 354.06,324.37 354.35,324.09 354.65,324.06 354.94,323.68 355.24,322.65 355.53,323.62 355.83,322.9 356.13,321.65 356.42,321.2 356.72,322.49 357.01,320.97 357.31,320.51 357.6,321.81 357.9,321.95" fill="none" stroke="#ff6464" stroke-width="1.0" stroke-linejoin="round"/>
<polyline points="165.7,318.54 166,318.53 166.29,318.37 166.59,318.07 166.88,317.67 167.18,317.22 167.47,316.75 167.77,316.32 168.07,315.97 168.36,315.72 168.66,315.59 168.95,315.58 169.25,315.7 169.54,315.9 169.84,316.18 170.14,316.49 170.43,316.77 170.73,317.05 171.02,317.28 171.32,317.44 171.61,317.51 171.91,317.47 172.21,317.31 172.5,317.04 172.8,316.68 173.09,316.25 173.39,315.82 173.68,315.36 173.98,314.9 174.28,314.48 174.57,314.15 174.87,313.93 175.16,313.85 175.46,313.92 175.75,314.15 176.05,314.52 176.34,315.03 176.64,315.62 176.94,316.22 177.23,316.8 177.53,317.3 177.82,317.7 178.12,317.96 178.41,318.05 178.71,317.97 179.01,317.72 179.3,317.26 179.6,316.67 179.89,316.01 180.19,315.32 180.48,314.63 180.78,313.99 181.08,313.45 181.37,313.03 181.67,312.76 181.96,312.64 182.26,312.7 182.55,312.91 182.85,313.26 183.15,313.73 183.44,314.28 183.74,314.89 184.03,315.5 184.33,316.09 184.62,316.62 184.92,317.05 185.22,317.36 185.51,317.54 185.81,317.56 186.1,317.43 186.4,317.15 186.69,316.74 186.99,316.21 187.29,315.6 187.58,314.94 187.88,314.25 188.17,313.57 188.47,312.94 188.76,312.38 189.06,311.92 189.36,311.58 189.65,311.38 189.95,311.32 190.24,311.4 190.54,311.63 190.83,311.98 191.13,312.43 191.43,312.97 191.72,313.56 192.02,314.18 192.31,314.8 192.61,315.38 192.9,315.9 193.2,316.34 193.5,316.68 193.79,316.89 194.09,316.97 194.38,316.91 194.68,316.72 194.97,316.39 195.27,315.96 195.56,315.42 195.86,314.81 196.16,314.14 196.45,313.45 196.75,312.76 197.04,312.09 197.34,311.46 197.63,310.9 197.93,310.43 198.23,310.07 198.52,309.83 198.82,309.71 199.11,309.73 199.41,309.89 199.7,310.17 200,310.56 200.3,311.06 200.59,311.63 200.89,312.27 201.18,312.96 201.48,313.66 201.77,314.34 202.07,314.98 202.37,315.57 202.66,316.07 202.96,316.47 203.25,316.76 203.55,316.93 203.84,316.98 204.14,316.89 204.44,316.69 204.73,316.36 205.03,315.93 205.32,315.4 205.62,314.79 205.91,314.13 206.21,313.42 206.51,312.7 206.8,311.98 207.1,311.28 207.39,310.63 207.69,310.04 207.98,309.53 208.28,309.12 208.58,308.81 208.87,308.61 209.17,308.53 209.46,308.57 209.76,308.72 210.05,308.98 210.35,309.35 210.65,309.8 210.94,310.33 211.24,310.93 211.53,311.57 211.83,312.24 212.12,312.92 212.42,313.59 212.72,314.24 213.01,314.85 213.31,315.4 213.6,315.88 213.9,316.27 214.19,316.58 214.49,316.79 214.78,316.89 215.08,316.88 215.38,316.77 215.67,316.56 215.97,316.24 216.26,315.84 216.56,315.35 216.85,314.79 217.15,314.17 217.45,313.51 217.74,312.81 218.04,312.1 218.33,311.4 218.63,310.7 218.92,310.04 219.22,309.42 219.52,308.85 219.81,308.35 220.11,307.93 220.4,307.6 220.7,307.36 220.99,307.21 221.29,307.16 221.59,307.2 221.88,307.34 222.18,307.57 222.47,307.88 222.77,308.26 223.06,308.72 223.36,309.23 223.66,309.78 223.95,310.38 224.25,310.99 224.54,311.62 224.84,312.24 225.13,312.85 225.43,313.43 225.73,313.98 226.02,314.48 226.32,314.92 226.61,315.3 226.91,315.61 227.2,315.85 227.5,316 227.8,316.07 228.09,316.06 228.39,315.97 228.68,315.79 228.98,315.53 229.27,315.2 229.57,314.8 229.87,314.34 230.16,313.82 230.46,313.26 230.75,312.66 231.05,312.03 231.34,311.38 231.64,310.72 231.94,310.06 232.23,309.42 232.53,308.8 232.82,308.22 233.12,307.66 233.41,307.15 233.71,306.69 234,306.28 234.3,305.94 234.6,305.66 234.89,305.46 235.19,305.33 235.48,305.27 235.78,305.3 236.07,305.39 236.37,305.57 236.67,305.81 236.96,306.12 237.26,306.5 237.55,306.93 237.85,307.42 238.14,307.95 238.44,308.51 238.74,309.11 239.03,309.73 239.33,310.36 239.62,311 239.92,311.63 240.21,312.25 240.51,312.85 240.81,313.42 241.1,313.96 241.4,314.45 241.69,314.9 241.99,315.28 242.28,315.61 242.58,315.87 242.88,316.06 243.17,316.19 243.47,316.24 243.76,316.22 244.06,316.13 244.35,315.97 244.65,315.75 244.95,315.46 245.24,315.1 245.54,314.7 245.83,314.24 246.13,313.74 246.42,313.19 246.72,312.61 247.02,312.01 247.31,311.39 247.61,310.75 247.9,310.1 248.2,309.46 248.49,308.83 248.79,308.21 249.09,307.61 249.38,307.04 249.68,306.5 249.97,306 250.27,305.55 250.56,305.14 250.86,304.79 251.16,304.49 251.45,304.25 251.75,304.07 252.04,303.95 252.34,303.9 252.63,303.91 252.93,303.98 253.22,304.11 253.52,304.3 253.82,304.55 254.11,304.85 254.41,305.2 254.7,305.6 255,306.04 255.29,306.51 255.59,307.02 255.89,307.56 256.18,308.11 256.48,308.69 256.77,309.27 257.07,309.86 257.36,310.45 257.66,311.04 257.96,311.61 258.25,312.17 258.55,312.71 258.84,313.22 259.14,313.7 259.43,314.15 259.73,314.56 260.03,314.93 260.32,315.26 260.62,315.54 260.91,315.77 261.21,315.95 261.5,316.08 261.8,316.16 262.1,316.19 262.39,316.17 262.69,316.09 262.98,315.97 263.28,315.79 263.57,315.57 263.87,315.3 264.17,314.99 264.46,314.64 264.76,314.26 265.05,313.84 265.35,313.39 265.64,312.92 265.94,312.42 266.24,311.9 266.53,311.37 266.83,310.83 267.12,310.29 267.42,309.74 267.71,309.19 268.01,308.65 268.31,308.12 268.6,307.6 268.9,307.1 269.19,306.62 269.49,306.16 269.78,305.73 270.08,305.33 270.38,304.95 270.67,304.62 270.97,304.31 271.26,304.05 271.56,303.82 271.85,303.63 272.15,303.49 272.44,303.38 272.74,303.32 273.04,303.29 273.33,303.31 273.63,303.37 273.92,303.47 274.22,303.6 274.51,303.78 274.81,303.99 275.11,304.23 275.4,304.51 275.7,304.83 275.99,305.17 276.29,305.54 276.58,305.93 276.88,306.35 277.18,306.78 277.47,307.23 277.77,307.7 278.06,308.18 278.36,308.67 278.65,309.16 278.95,309.66 279.25,310.15 279.54,310.64 279.84,311.13 280.13,311.61 280.43,312.08 280.72,312.53 281.02,312.97 281.32,313.39 281.61,313.79 281.91,314.16 282.2,314.51 282.5,314.83 282.79,315.13 283.09,315.4 283.39,315.63 283.68,315.83 283.98,316 284.27,316.14 284.57,316.24 284.86,316.31 285.16,316.34 285.46,316.34 285.75,316.31 286.05,316.24 286.34,316.13 286.64,316 286.93,315.83 287.23,315.63 287.53,315.4 287.82,315.15 288.12,314.86 288.41,314.56 288.71,314.22 289,313.87 289.3,313.5 289.6,313.1 289.89,312.7 290.19,312.27 290.48,311.84 290.78,311.4 291.07,310.95 291.37,310.49 291.66,310.03 291.96,309.57 292.26,309.12 292.55,308.66 292.85,308.21 293.14,307.77 293.44,307.34 293.73,306.92 294.03,306.51 294.33,306.12 294.62,305.74 294.92,305.39 295.21,305.05 295.51,304.74 295.8,304.45 296.1,304.18 296.4,303.94 296.69,303.72 296.99,303.53 297.28,303.37 297.58,303.23 297.87,303.13 298.17,303.05 298.47,303.01 298.76,302.99 299.06,303 299.35,303.04 299.65,303.11 299.94,303.21 300.24,303.34 300.54,303.49 300.83,303.67 301.13,303.87 301.42,304.1 301.72,304.36 302.01,304.64 302.31,304.93 302.61,305.25 302.9,305.59 303.2,305.95 303.49,306.32 303.79,306.7 304.08,307.1 304.38,307.51 304.68,307.93 304.97,308.36 305.27,308.8 305.56,309.24 305.86,309.69 306.15,310.13 306.45,310.58 306.75,311.03 307.04,311.47 307.34,311.91 307.63,312.34 307.93,312.76 308.22,313.18 308.52,313.58 308.82,313.98 309.11,314.36 309.41,314.72 309.7,315.07 310,315.41 310.29,315.72 310.59,316.02 310.88,316.29 311.18,316.54 311.48,316.76 311.77,316.97 312.07,317.16 312.36,317.32 312.66,317.47 312.95,317.59 313.25,317.69 313.55,317.78 313.84,317.84 314.14,317.88 314.43,317.86 314.73,317.81 315.02,317.74 315.32,317.64 315.62,317.52 315.91,317.38 316.21,317.22 316.5,317.04 316.8,316.85 317.09,316.68 317.39,316.32 317.69,316.12 317.98,315.74 318.28,315.67 318.57,315.52 318.87,314.89 319.16,314.46 319.46,313.95 319.76,313.71 320.05,313.51 320.35,313.03 320.64,313.18 320.94,312.64 321.23,312.3 321.53,312.25 321.83,311.54 322.12,311.35 322.42,310.84 322.71,310.59 323.01,310.36 323.3,310.01 323.6,309.31 323.9,308.25 324.19,307.66 324.49,307.32 324.78,307.02 325.08,307.65 325.37,306.47 325.67,307.12 325.97,307.51 326.26,306.76 326.56,305.82 326.85,306.11 327.15,305.42 327.44,305.8 327.74,304.26 328.04,304.69 328.33,304.68 328.63,304.43 328.92,303.39 329.22,302.59 329.51,303.28 329.81,303.68 330.1,303.32 330.4,304.42 330.7,303.92 330.99,302.63 331.29,302.21 331.58,303.72 331.88,302.55 332.17,303.32 332.47,302.27 332.77,303.44 333.06,304.39 333.36,304.07 333.65,303.26 333.95,304.16 334.24,303.59 334.54,303.89 334.84,305 335.13,305.74 335.43,305.69 335.72,306.09 336.02,306.47 336.31,306.11 336.61,305.6 336.91,306.26 337.2,307.75 337.5,308.34 337.79,308.38 338.09,307.99 338.38,309.16 338.68,309.94 338.98,309.86 339.27,310.1 339.57,311 339.86,310.31 340.16,309.29 340.45,310.01 340.75,310 341.05,309.96 341.34,310.12 341.64,310.18 341.93,311.54 342.23,311.69 342.52,313.29 342.82,312.28 343.12,313.27 343.41,313.62 343.71,312.93 344,314.29 344.3,315.25 344.59,314.27 344.89,314.59 345.19,316.13 345.48,317.05 345.78,316.8 346.07,317.69 346.37,316.18 346.66,317.29 346.96,317.65 347.26,317.65 347.55,317.48 347.85,317.73 348.14,317.47 348.44,317.41 348.73,318.04 349.03,319.22 349.32,317.66 349.62,317.83 349.92,319.46 350.21,319.34 350.51,318.62 350.8,317.83 351.1,319.84 351.39,320.85 351.69,320.18 351.99,319.89 352.28,318.54 352.58,318.08 352.87,319.01 353.17,319.08 353.46,318.61 353.76,317.59 354.06,318.74 354.35,318.63 354.65,319.21 354.94,317.99 355.24,318.88 355.53,316.92 355.83,317.01 356.13,316.81 356.42,317.78 356.72,317.69 357.01,316.95 357.31,315.59 357.6,315.68 357.9,316.2" fill="none" stroke="#6464ff" stroke-width="1.0" stroke-linejoin="round"/>
<polyline points="165.7,305.64 166,306.08 166.29,306.51 166.59,306.88 166.88,307.14 167.18,307.27 167.47,307.26 167.77,307.1 168.07,306.82 168.36,306.46 168.66,306.04 168.95,305.61 169.25,305.21 169.54,304.88 169.84,304.64 170.14,304.51 170.43,304.41 170.73,304.42 171.02,304.54 171.32,304.75 171.61,305.02 171.91,305.33 172.21,305.64 172.5,305.91 172.8,306.11 173.09,306.21 173.39,306.3 173.68,306.26 173.98,306.08 174.28,305.77 174.57,305.35 174.87,304.84 175.16,304.28 175.46,303.72 175.75,303.2 176.05,302.77 176.34,302.52 176.64,302.43 176.94,302.51 177.23,302.76 177.53,303.16 177.82,303.68 178.12,304.29 178.41,304.95 178.71,305.6 179.01,306.2 179.3,306.63 179.6,306.92 179.89,307.05 180.19,307 180.48,306.78 180.78,306.39 181.08,305.87 181.37,305.25 181.67,304.57 181.96,303.87 182.26,303.19 182.55,302.58 182.85,302.06 183.15,301.68 183.44,301.45 183.74,301.37 184.03,301.46 184.33,301.7 184.62,302.08 184.92,302.57 185.22,303.14 185.51,303.76 185.81,304.38 186.1,304.97 186.4,305.49 186.69,305.92 186.99,306.23 187.29,306.39 187.58,306.41 187.88,306.27 188.17,305.99 188.47,305.57 188.76,305.03 189.06,304.41 189.36,303.74 189.65,303.04 189.95,302.34 190.24,301.7 190.54,301.12 190.83,300.65 191.13,300.29 191.43,300.07 191.72,299.99 192.02,300.06 192.31,300.27 192.61,300.6 192.9,301.05 193.2,301.58 193.5,302.18 193.79,302.8 194.09,303.44 194.38,304.04 194.68,304.59 194.97,305.07 195.27,305.44 195.56,305.69 195.86,305.82 196.16,305.8 196.45,305.68 196.75,305.42 197.04,305.04 197.34,304.55 197.63,303.96 197.93,303.31 198.23,302.6 198.52,301.88 198.82,301.17 199.11,300.49 199.41,299.87 199.7,299.34 200,298.91 200.3,298.59 200.59,298.4 200.89,298.35 201.18,298.46 201.48,298.7 201.77,299.06 202.07,299.53 202.37,300.09 202.66,300.72 202.96,301.4 203.25,302.11 203.55,302.82 203.84,303.5 204.14,304.14 204.44,304.71 204.73,305.19 205.03,305.57 205.32,305.84 205.62,305.99 205.91,306 206.21,305.89 206.51,305.66 206.8,305.31 207.1,304.85 207.39,304.29 207.69,303.66 207.98,302.98 208.28,302.25 208.58,301.52 208.87,300.79 209.17,300.09 209.46,299.43 209.76,298.84 210.05,298.33 210.35,297.92 210.65,297.6 210.94,297.4 211.24,297.32 211.53,297.35 211.83,297.49 212.12,297.75 212.42,298.1 212.72,298.55 213.01,299.07 213.31,299.66 213.6,300.29 213.9,300.96 214.19,301.65 214.49,302.33 214.78,302.99 215.08,303.61 215.38,304.18 215.67,304.69 215.97,305.11 216.26,305.45 216.56,305.68 216.85,305.82 217.15,305.85 217.45,305.77 217.74,305.59 218.04,305.31 218.33,304.93 218.63,304.47 218.92,303.93 219.22,303.32 219.52,302.65 219.81,301.96 220.11,301.24 220.4,300.52 220.7,299.81 220.99,299.13 221.29,298.48 221.59,297.89 221.88,297.35 222.18,296.89 222.47,296.51 222.77,296.22 223.06,296.01 223.36,295.9 223.66,295.89 223.95,295.97 224.25,296.13 224.54,296.39 224.84,296.72 225.13,297.13 225.43,297.59 225.73,298.11 226.02,298.67 226.32,299.26 226.61,299.87 226.91,300.5 227.2,301.11 227.5,301.71 227.8,302.29 228.09,302.83 228.39,303.32 228.68,303.76 228.98,304.13 229.27,304.43 229.57,304.66 229.87,304.81 230.16,304.87 230.46,304.86 230.75,304.76 231.05,304.58 231.34,304.32 231.64,303.99 231.94,303.59 232.23,303.13 232.53,302.65 232.82,302.11 233.12,301.54 233.41,300.92 233.71,300.29 234,299.64 234.3,298.99 234.6,298.34 234.89,297.7 235.19,297.09 235.48,296.52 235.78,295.98 236.07,295.5 236.37,295.07 236.67,294.7 236.96,294.4 237.26,294.17 237.55,294.01 237.85,293.94 238.14,293.94 238.44,294.01 238.74,294.16 239.03,294.39 239.33,294.69 239.62,295.05 239.92,295.47 240.21,295.95 240.51,296.48 240.81,297.04 241.1,297.65 241.4,298.29 241.69,298.94 241.99,299.6 242.28,300.26 242.58,300.91 242.88,301.54 243.17,302.14 243.47,302.71 243.76,303.23 244.06,303.71 244.35,304.14 244.65,304.5 244.95,304.81 245.24,305.05 245.54,305.22 245.83,305.32 246.13,305.35 246.42,305.31 246.72,305.2 247.02,305.02 247.31,304.78 247.61,304.47 247.9,304.1 248.2,303.68 248.49,303.21 248.79,302.69 249.09,302.14 249.38,301.55 249.68,300.94 249.97,300.31 250.27,299.67 250.56,299.02 250.86,298.37 251.16,297.73 251.45,297.11 251.75,296.5 252.04,295.92 252.34,295.38 252.63,294.88 252.93,294.42 253.22,294.01 253.52,293.66 253.82,293.36 254.11,293.11 254.41,292.93 254.7,292.81 255,292.75 255.29,292.75 255.59,292.81 255.89,292.94 256.18,293.12 256.48,293.35 256.77,293.64 257.07,293.98 257.36,294.36 257.66,294.78 257.96,295.24 258.25,295.74 258.55,296.26 258.84,296.81 259.14,297.37 259.43,297.94 259.73,298.53 260.03,299.11 260.32,299.69 260.62,300.26 260.91,300.82 261.21,301.36 261.5,301.88 261.8,302.37 262.1,302.83 262.39,303.25 262.69,303.64 262.98,303.99 263.28,304.29 263.57,304.54 263.87,304.75 264.17,304.9 264.46,305.01 264.76,305.06 265.05,305.07 265.35,305.03 265.64,304.93 265.94,304.79 266.24,304.6 266.53,304.37 266.83,304.09 267.12,303.78 267.42,303.42 267.71,303.03 268.01,302.62 268.31,302.17 268.6,301.7 268.9,301.21 269.19,300.7 269.49,300.18 269.78,299.65 270.08,299.11 270.38,298.58 270.67,298.04 270.97,297.51 271.26,296.99 271.56,296.49 271.85,296 272.15,295.53 272.44,295.08 272.74,294.66 273.04,294.26 273.33,293.9 273.63,293.57 273.92,293.27 274.22,293.01 274.51,292.79 274.81,292.6 275.11,292.46 275.4,292.35 275.7,292.28 275.99,292.26 276.29,292.27 276.58,292.32 276.88,292.41 277.18,292.55 277.47,292.71 277.77,292.92 278.06,293.16 278.36,293.43 278.65,293.74 278.95,294.07 279.25,294.44 279.54,294.82 279.84,295.23 280.13,295.66 280.43,296.11 280.72,296.58 281.02,297.05 281.32,297.54 281.61,298.03 281.91,298.53 282.2,299.02 282.5,299.52 282.79,300.01 283.09,300.49 283.39,300.97 283.68,301.43 283.98,301.87 284.27,302.3 284.57,302.71 284.86,303.1 285.16,303.46 285.46,303.8 285.75,304.11 286.05,304.4 286.34,304.65 286.64,304.87 286.93,305.06 287.23,305.22 287.53,305.35 287.82,305.44 288.12,305.49 288.41,305.52 288.71,305.51 289,305.46 289.3,305.38 289.6,305.27 289.89,305.12 290.19,304.95 290.48,304.74 290.78,304.51 291.07,304.25 291.37,303.96 291.66,303.65 291.96,303.31 292.26,302.95 292.55,302.57 292.85,302.18 293.14,301.77 293.44,301.35 293.73,300.91 294.03,300.47 294.33,300.01 294.62,299.56 294.92,299.1 295.21,298.64 295.51,298.18 295.8,297.72 296.1,297.27 296.4,296.83 296.69,296.39 296.99,295.97 297.28,295.56 297.58,295.16 297.87,294.79 298.17,294.43 298.47,294.09 298.76,293.77 299.06,293.47 299.35,293.2 299.65,292.95 299.94,292.72 300.24,292.53 300.54,292.36 300.83,292.22 301.13,292.1 301.42,292.02 301.72,291.96 302.01,291.94 302.31,291.94 302.61,291.97 302.9,292.03 303.2,292.11 303.49,292.23 303.79,292.37 304.08,292.54 304.38,292.73 304.68,292.95 304.97,293.2 305.27,293.46 305.56,293.75 305.86,294.06 306.15,294.39 306.45,294.74 306.75,295.1 307.04,295.48 307.34,295.87 307.63,296.27 307.93,296.69 308.22,297.11 308.52,297.55 308.82,297.98 309.11,298.43 309.41,298.87 309.7,299.32 310,299.77 310.29,300.21 310.59,300.66 310.88,301.09 311.18,301.51 311.48,301.93 311.77,302.34 312.07,302.73 312.36,303.11 312.66,303.48 312.95,303.83 313.25,304.16 313.55,304.48 313.84,304.79 314.14,305.07 314.43,305.34 314.73,305.59 315.02,305.82 315.32,306.03 315.62,306.22 315.91,306.4 316.21,306.55 316.5,306.69 316.8,306.78 317.09,306.87 317.39,306.97 317.69,307.11 317.98,307.1 318.28,306.84 318.57,306.98 318.87,306.79 319.16,306.58 319.46,306.55 319.76,306.17 320.05,305.78 320.35,305.51 320.64,305.34 320.94,305.6 321.23,305.71 321.53,305.23 321.83,305 322.12,304.88 322.42,303.85 322.71,304.06 323.01,303.16 323.3,302.42 323.6,303.09 323.9,301.97 324.19,302.1 324.49,302.26 324.78,302.17 325.08,302.2 325.37,301.2 325.67,300.8 325.97,299.53 326.26,298.83 326.56,299.92 326.85,299.44 327.15,299.08 327.44,299.22 327.74,298.93 328.04,298.6 328.33,297.25 328.63,297.39 328.92,297.81 329.22,297.54 329.51,296.72 329.81,295.93 330.1,296.23 330.4,295.09 330.7,295.65 330.99,294.63 331.29,294.23 331.58,294.98 331.88,293.76 332.17,294.01 332.47,293.63 332.77,293.23 333.06,292.89 333.36,293.09 333.65,294.01 333.95,292.51 334.24,291.65 334.54,292.11 334.84,292 335.13,292.63 335.43,291.29 335.72,291.46 336.02,292.75 336.31,291.92 336.61,291.29 336.91,292.7 337.2,291.81 337.5,292.81 337.79,294.08 338.09,293.41 338.38,294.19 338.68,293.69 338.98,294 339.27,295.42 339.57,295.12 339.86,294.37 340.16,295.13 340.45,295.46 340.75,294.97 341.05,295.95 341.34,296.41 341.64,296.55 341.93,296.2 342.23,297.74 342.52,298.81 342.82,297.8 343.12,298.08 343.41,298.99 343.71,298.11 344,297.96 344.3,298.92 344.59,298.41 344.89,298.76 345.19,299.31 345.48,300.82 345.78,302.28 346.07,301.44 346.37,301.14 346.66,302.12 346.96,302.38 347.26,302.44 347.55,303.4 347.85,302.86 348.14,303.14 348.44,303.84 348.73,304.95 349.03,304.47 349.32,305 349.62,304.37 349.92,305.61 350.21,305.71 350.51,306.36 350.8,306.25 351.1,305.92 351.39,307.06 351.69,307.76 351.99,307.13 352.28,307.67 352.58,307.26 352.87,308.02 353.17,308.59 353.46,307.86 353.76,306.73 354.06,306.49 354.35,307.34 354.65,308.05 354.94,309.21 355.24,309.24 355.53,309.23 355.83,307.75 356.13,309 356.42,307.4 356.72,307.82 357.01,308.01 357.31,308.41 357.6,306.78 357.9,307.91" fill="none" stroke="#f564f5" stroke-width="1.0" stroke-linejoin="round"/>
<polyline points="165.7,293.79 166,293.69 166.29,293.76 166.59,293.97 166.88,294.29 167.18,294.69 167.47,295.09 167.77,295.47 168.07,295.77 168.36,295.97 168.66,296.03 168.95,295.97 169.25,295.78 169.54,295.49 169.84,295.13 170.14,294.73 170.43,294.29 170.73,293.86 171.02,293.49 171.32,293.19 171.61,293 171.91,292.92 172.21,292.97 172.5,293.13 172.8,293.37 173.09,293.69 173.39,294.08 173.68,294.5 173.98,294.89 174.28,295.21 174.57,295.43 174.87,295.51 175.16,295.44 175.46,295.2 175.75,294.82 176.05,294.31 176.34,293.73 176.64,293.12 176.94,292.52 177.23,291.99 177.53,291.58 177.82,291.3 178.12,291.2 178.41,291.28 178.71,291.54 179.01,291.96 179.3,292.5 179.6,293.12 179.89,293.76 180.19,294.39 180.48,294.96 180.78,295.42 181.08,295.74 181.37,295.9 181.67,295.88 181.96,295.69 182.26,295.34 182.55,294.85 182.85,294.25 183.15,293.57 183.44,292.87 183.74,292.17 184.03,291.52 184.33,290.97 184.62,290.53 184.92,290.24 185.22,290.1 185.51,290.13 185.81,290.32 186.1,290.65 186.4,291.11 186.69,291.65 186.99,292.27 187.29,292.9 187.58,293.52 187.88,294.09 188.17,294.58 188.47,294.96 188.76,295.2 189.06,295.3 189.36,295.24 189.65,295.03 189.95,294.68 190.24,294.2 190.54,293.62 190.83,292.96 191.13,292.26 191.43,291.55 191.72,290.86 192.02,290.22 192.31,289.67 192.61,289.22 192.9,288.9 193.2,288.72 193.5,288.69 193.79,288.79 194.09,289.04 194.38,289.41 194.68,289.89 194.97,290.45 195.27,291.06 195.56,291.71 195.86,292.35 196.16,292.96 196.45,293.53 196.75,294.02 197.04,294.41 197.34,294.68 197.63,294.82 197.93,294.82 198.23,294.68 198.52,294.41 198.82,294 199.11,293.49 199.41,292.88 199.7,292.2 200,291.47 200.3,290.72 200.59,289.98 200.89,289.28 201.18,288.66 201.48,288.12 201.77,287.69 202.07,287.38 202.37,287.2 202.66,287.16 202.96,287.25 203.25,287.48 203.55,287.83 203.84,288.29 204.14,288.84 204.44,289.47 204.73,290.16 205.03,290.87 205.32,291.59 205.62,292.29 205.91,292.95 206.21,293.55 206.51,294.07 206.8,294.49 207.1,294.79 207.39,294.97 207.69,295.02 207.98,294.94 208.28,294.74 208.58,294.41 208.87,293.98 209.17,293.46 209.46,292.85 209.76,292.18 210.05,291.47 210.35,290.73 210.65,290 210.94,289.28 211.24,288.59 211.53,287.96 211.83,287.41 212.12,286.94 212.42,286.56 212.72,286.29 213.01,286.14 213.31,286.09 213.6,286.17 213.9,286.35 214.19,286.65 214.49,287.04 214.78,287.52 215.08,288.07 215.38,288.68 215.67,289.34 215.97,290.02 216.26,290.71 216.56,291.39 216.85,292.05 217.15,292.67 217.45,293.23 217.74,293.72 218.04,294.13 218.33,294.45 218.63,294.67 218.92,294.79 219.22,294.78 219.52,294.67 219.81,294.45 220.11,294.14 220.4,293.73 220.7,293.25 220.99,292.69 221.29,292.07 221.59,291.41 221.88,290.72 222.18,290 222.47,289.29 222.77,288.58 223.06,287.9 223.36,287.26 223.66,286.66 223.95,286.13 224.25,285.67 224.54,285.28 224.84,284.98 225.13,284.77 225.43,284.65 225.73,284.62 226.02,284.68 226.32,284.82 226.61,285.06 226.91,285.37 227.2,285.76 227.5,286.21 227.8,286.72 228.09,287.27 228.39,287.86 228.68,288.47 228.98,289.09 229.27,289.71 229.57,290.31 229.87,290.9 230.16,291.45 230.46,291.95 230.75,292.41 231.05,292.8 231.34,293.13 231.64,293.39 231.94,293.57 232.23,293.67 232.53,293.72 232.82,293.7 233.12,293.59 233.41,293.4 233.71,293.13 234,292.8 234.3,292.39 234.6,291.92 234.89,291.4 235.19,290.82 235.48,290.22 235.78,289.58 236.07,288.92 236.37,288.25 236.67,287.58 236.96,286.92 237.26,286.28 237.55,285.66 237.85,285.09 238.14,284.55 238.44,284.07 238.74,283.65 239.03,283.3 239.33,283.01 239.62,282.8 239.92,282.66 240.21,282.6 240.51,282.62 240.81,282.72 241.1,282.89 241.4,283.17 241.69,283.5 241.99,283.91 242.28,284.37 242.58,284.88 242.88,285.44 243.17,286.04 243.47,286.66 243.76,287.31 244.06,287.97 244.35,288.64 244.65,289.3 244.95,289.95 245.24,290.58 245.54,291.19 245.83,291.76 246.13,292.29 246.42,292.77 246.72,293.2 247.02,293.57 247.31,293.88 247.61,294.13 247.9,294.31 248.2,294.41 248.49,294.45 248.79,294.42 249.09,294.32 249.38,294.15 249.68,293.91 249.97,293.61 250.27,293.26 250.56,292.84 250.86,292.38 251.16,291.87 251.45,291.32 251.75,290.72 252.04,290.09 252.34,289.45 252.63,288.8 252.93,288.14 253.22,287.48 253.52,286.83 253.82,286.2 254.11,285.59 254.41,285 254.7,284.45 255,283.94 255.29,283.47 255.59,283.04 255.89,282.67 256.18,282.34 256.48,282.08 256.77,281.87 257.07,281.72 257.36,281.63 257.66,281.6 257.96,281.63 258.25,281.72 258.55,281.87 258.84,282.07 259.14,282.33 259.43,282.63 259.73,282.98 260.03,283.38 260.32,283.81 260.62,284.28 260.91,284.78 261.21,285.31 261.5,285.85 261.8,286.41 262.1,286.99 262.39,287.58 262.69,288.16 262.98,288.74 263.28,289.3 263.57,289.85 263.87,290.38 264.17,290.89 264.46,291.37 264.76,291.81 265.05,292.22 265.35,292.6 265.64,292.93 265.94,293.22 266.24,293.46 266.53,293.66 266.83,293.8 267.12,293.9 267.42,293.96 267.71,293.96 268.01,293.91 268.31,293.82 268.6,293.68 268.9,293.49 269.19,293.26 269.49,292.99 269.78,292.69 270.08,292.34 270.38,291.96 270.67,291.55 270.97,291.12 271.26,290.66 271.56,290.18 271.85,289.68 272.15,289.17 272.44,288.65 272.74,288.13 273.04,287.6 273.33,287.07 273.63,286.55 273.92,286.04 274.22,285.54 274.51,285.07 274.81,284.61 275.11,284.17 275.4,283.75 275.7,283.36 275.99,282.99 276.29,282.65 276.58,282.35 276.88,282.08 277.18,281.84 277.47,281.64 277.77,281.48 278.06,281.36 278.36,281.27 278.65,281.23 278.95,281.22 279.25,281.26 279.54,281.33 279.84,281.45 280.13,281.6 280.43,281.79 280.72,282.01 281.02,282.26 281.32,282.55 281.61,282.87 281.91,283.22 282.2,283.59 282.5,283.99 282.79,284.41 283.09,284.85 283.39,285.31 283.68,285.77 283.98,286.26 284.27,286.74 284.57,287.24 284.86,287.74 285.16,288.23 285.46,288.73 285.75,289.22 286.05,289.7 286.34,290.17 286.64,290.63 286.93,291.07 287.23,291.5 287.53,291.9 287.82,292.29 288.12,292.65 288.41,292.98 288.71,293.29 289,293.57 289.3,293.82 289.6,294.04 289.89,294.23 290.19,294.39 290.48,294.51 290.78,294.6 291.07,294.65 291.37,294.68 291.66,294.66 291.96,294.62 292.26,294.54 292.55,294.43 292.85,294.28 293.14,294.11 293.44,293.91 293.73,293.67 294.03,293.41 294.33,293.13 294.62,292.81 294.92,292.48 295.21,292.12 295.51,291.75 295.8,291.36 296.1,290.95 296.4,290.53 296.69,290.09 296.99,289.65 297.28,289.2 297.58,288.74 297.87,288.28 298.17,287.81 298.47,287.35 298.76,286.89 299.06,286.44 299.35,285.99 299.65,285.55 299.94,285.12 300.24,284.71 300.54,284.31 300.83,283.92 301.13,283.55 301.42,283.2 301.72,282.88 302.01,282.57 302.31,282.28 302.61,282.02 302.9,281.79 303.2,281.58 303.49,281.4 303.79,281.24 304.08,281.11 304.38,281.01 304.68,280.94 304.97,280.89 305.27,280.88 305.56,280.89 305.86,280.93 306.15,281 306.45,281.1 306.75,281.23 307.04,281.38 307.34,281.56 307.63,281.76 307.93,281.99 308.22,282.24 308.52,282.51 308.82,282.8 309.11,283.12 309.41,283.45 309.7,283.8 310,284.17 310.29,284.55 310.59,284.94 310.88,285.36 311.18,285.78 311.48,286.21 311.77,286.64 312.07,287.08 312.36,287.52 312.66,287.97 312.95,288.41 313.25,288.84 313.55,289.28 313.84,289.71 314.14,290.13 314.43,290.55 314.73,290.95 315.02,291.35 315.32,291.74 315.62,292.11 315.91,292.47 316.21,292.82 316.5,293.15 316.8,293.47 317.09,293.77 317.39,294.12 317.69,294.42 317.98,294.48 318.28,294.67 318.57,294.88 318.87,294.99 319.16,295.55 319.46,295.52 319.76,295.55 320.05,296.01 320.35,296.09 320.64,295.74 320.94,296.21 321.23,295.93 321.53,296.35 321.83,295.93 322.12,296.14 322.42,295.86 322.71,295.82 323.01,295.05 323.3,294.77 323.6,294.87 323.9,294.5 324.19,294.6 324.49,293.88 324.78,294.34 325.08,293.87 325.37,293.43 325.67,293.45 325.97,293.94 326.26,293.73 326.56,292.51 326.85,292.72 327.15,291.44 327.44,291.28 327.74,289.98 328.04,289.48 328.33,289.34 328.63,289.95 328.92,290.78 329.22,289.67 329.51,288.56 329.81,287.49 330.1,288.61 330.4,288.96 330.7,286.92 330.99,286.49 331.29,286.75 331.58,286.05 331.88,287.01 332.17,286.26 332.47,285.49 332.77,285.16 333.06,285.94 333.36,286.14 333.65,284.89 333.95,283.6 334.24,284.75 334.54,285.38 334.84,285.31 335.13,283.44 335.43,283.52 335.72,283.27 336.02,281.74 336.31,281.94 336.61,282.75 336.91,281.89 337.2,283.14 337.5,282.85 337.79,281.63 338.09,282.33 338.38,282.85 338.68,281.81 338.98,281.77 339.27,280.39 339.57,282.04 339.86,281.11 340.16,281.84 340.45,281.24 340.75,282 341.05,281.88 341.34,282.79 341.64,283.54 341.93,283.42 342.23,282.67 342.52,283.62 342.82,284.43 343.12,284.46 343.41,285.4 343.71,285.4 344,284.94 344.3,284.99 344.59,285.05 344.89,285.99 345.19,287.19 345.48,287.83 345.78,287.51 346.07,287.91 346.37,287.34 346.66,288.02 346.96,287.27 347.26,287.53 347.55,287.67 347.85,287.73 348.14,288.44 348.44,289.14 348.73,289.88 349.03,290.94 349.32,289.77 349.62,290.19 349.92,291.5 350.21,290.19 350.51,290.67 350.8,290.93 351.1,291.65 351.39,292.85 351.69,291.38 351.99,292.96 352.28,293.27 352.58,292.01 352.87,293.78 353.17,293.73 353.46,293.89 353.76,294.66 354.06,293.47 354.35,294.36 354.65,295.82 354.94,295.41 355.24,296.5 355.53,295.36 355.83,294.62 356.13,294.35 356.42,296.43 356.72,295.84 357.01,296.6 357.31,296.6 357.6,297.1 357.9,297.38" fill="none" stroke="#3caa64" stroke-width="1.0" stroke-linejoin="round"/>
<polyline points="165.7,283.82 166,283.34 166.29,282.96 166.59,282.72 166.88,282.64 167.18,282.72 167.47,282.93 167.77,283.24 168.07,283.61 168.36,284 168.66,284.35 168.95,284.63 169.25,284.81 169.54,284.87 169.84,284.8 170.14,284.62 170.43,284.33 170.73,283.95 171.02,283.51 171.32,283.05 171.61,282.61 171.91,282.21 172.21,281.9 172.5,281.69 172.8,281.61 173.09,281.66 173.39,281.83 173.68,282.12 173.98,282.52 174.28,282.97 174.57,283.44 174.87,283.89 175.16,284.27 175.46,284.53 175.75,284.64 176.05,284.58 176.34,284.35 176.64,283.96 176.94,283.45 177.23,282.85 177.53,282.21 177.82,281.57 178.12,281 178.41,280.53 178.71,280.21 179.01,280.06 179.3,280.09 179.6,280.31 179.89,280.69 180.19,281.2 180.48,281.81 180.78,282.45 181.08,283.09 181.37,283.69 181.67,284.19 181.96,284.56 182.26,284.77 182.55,284.82 182.85,284.69 183.15,284.39 183.44,283.94 183.74,283.37 184.03,282.72 184.33,282.01 184.62,281.3 184.92,280.62 185.22,280.02 185.51,279.52 185.81,279.16 186.1,278.96 186.4,278.91 186.69,279.03 186.99,279.3 187.29,279.71 187.58,280.22 187.88,280.82 188.17,281.45 188.47,282.09 188.76,282.7 189.06,283.24 189.36,283.68 189.65,284 189.95,284.18 190.24,284.21 190.54,284.08 190.83,283.81 191.13,283.4 191.43,282.87 191.72,282.24 192.02,281.56 192.31,280.84 192.61,280.13 192.9,279.45 193.2,278.83 193.5,278.31 193.79,277.9 194.09,277.62 194.38,277.49 194.68,277.5 194.97,277.66 195.27,277.95 195.56,278.36 195.86,278.87 196.16,279.45 196.45,280.1 196.75,280.77 197.04,281.43 197.34,282.06 197.63,282.63 197.93,283.11 198.23,283.49 198.52,283.74 198.82,283.85 199.11,283.82 199.41,283.65 199.7,283.34 200,282.91 200.3,282.36 200.59,281.72 200.89,281.02 201.18,280.28 201.48,279.54 201.77,278.81 202.07,278.12 202.37,277.5 202.66,276.97 202.96,276.55 203.25,276.24 203.55,276.07 203.84,276.04 204.14,276.14 204.44,276.38 204.73,276.74 205.03,277.21 205.32,277.77 205.62,278.41 205.91,279.1 206.21,279.82 206.51,280.54 206.8,281.25 207.1,281.92 207.39,282.51 207.69,283.03 207.98,283.44 208.28,283.75 208.58,283.93 208.87,283.99 209.17,283.92 209.46,283.72 209.76,283.41 210.05,282.99 210.35,282.47 210.65,281.87 210.94,281.21 211.24,280.5 211.53,279.76 211.83,279.02 212.12,278.3 212.42,277.6 212.72,276.95 213.01,276.38 213.31,275.88 213.6,275.48 213.9,275.19 214.19,275 214.49,274.94 214.78,274.98 215.08,275.14 215.38,275.41 215.67,275.78 215.97,276.24 216.26,276.78 216.56,277.38 216.85,278.03 217.15,278.71 217.45,279.4 217.74,280.09 218.04,280.77 218.33,281.4 218.63,281.99 218.92,282.5 219.22,282.93 219.52,283.27 219.81,283.51 220.11,283.64 220.4,283.68 220.7,283.61 220.99,283.43 221.29,283.16 221.59,282.79 221.88,282.34 222.18,281.82 222.47,281.23 222.77,280.59 223.06,279.91 223.36,279.2 223.66,278.49 223.95,277.78 224.25,277.09 224.54,276.43 224.84,275.81 225.13,275.24 225.43,274.74 225.73,274.31 226.02,273.96 226.32,273.69 226.61,273.51 226.91,273.43 227.2,273.43 227.5,273.53 227.8,273.72 228.09,273.98 228.39,274.33 228.68,274.74 228.98,275.21 229.27,275.74 229.57,276.3 229.87,276.9 230.16,277.51 230.46,278.13 230.75,278.75 231.05,279.35 231.34,279.92 231.64,280.46 231.94,280.95 232.23,281.39 232.53,281.8 232.82,282.15 233.12,282.42 233.41,282.62 233.71,282.74 234,282.78 234.3,282.73 234.6,282.61 234.89,282.4 235.19,282.11 235.48,281.75 235.78,281.33 236.07,280.84 236.37,280.3 236.67,279.71 236.96,279.09 237.26,278.43 237.55,277.76 237.85,277.08 238.14,276.4 238.44,275.73 238.74,275.08 239.03,274.46 239.33,273.88 239.62,273.35 239.92,272.86 240.21,272.44 240.51,272.09 240.81,271.8 241.1,271.59 241.4,271.48 241.69,271.44 241.99,271.49 242.28,271.61 242.58,271.81 242.88,272.08 243.17,272.42 243.47,272.82 243.76,273.29 244.06,273.8 244.35,274.36 244.65,274.95 244.95,275.58 245.24,276.23 245.54,276.89 245.83,277.56 246.13,278.23 246.42,278.88 246.72,279.52 247.02,280.13 247.31,280.71 247.61,281.25 247.9,281.74 248.2,282.18 248.49,282.56 248.79,282.89 249.09,283.14 249.38,283.34 249.68,283.46 249.97,283.51 250.27,283.5 250.56,283.41 250.86,283.25 251.16,283.03 251.45,282.75 251.75,282.38 252.04,281.96 252.34,281.49 252.63,280.97 252.93,280.42 253.22,279.83 253.52,279.22 253.82,278.58 254.11,277.93 254.41,277.28 254.7,276.63 255,275.98 255.29,275.34 255.59,274.73 255.89,274.14 256.18,273.57 256.48,273.05 256.77,272.56 257.07,272.12 257.36,271.73 257.66,271.38 257.96,271.09 258.25,270.86 258.55,270.69 258.84,270.57 259.14,270.51 259.43,270.52 259.73,270.58 260.03,270.69 260.32,270.87 260.62,271.09 260.91,271.37 261.21,271.7 261.5,272.07 261.8,272.48 262.1,272.94 262.39,273.43 262.69,273.94 262.98,274.48 263.28,275.04 263.57,275.61 263.87,276.18 264.17,276.76 264.46,277.33 264.76,277.9 265.05,278.45 265.35,278.99 265.64,279.5 265.94,279.99 266.24,280.46 266.53,280.89 266.83,281.28 267.12,281.63 267.42,281.95 267.71,282.22 268.01,282.45 268.31,282.63 268.6,282.76 268.9,282.85 269.19,282.89 269.49,282.88 269.78,282.82 270.08,282.72 270.38,282.57 270.67,282.38 270.97,282.14 271.26,281.87 271.56,281.55 271.85,281.21 272.15,280.83 272.44,280.42 272.74,279.98 273.04,279.53 273.33,279.05 273.63,278.56 273.92,278.05 274.22,277.54 274.51,277.03 274.81,276.53 275.11,276.02 275.4,275.51 275.7,275.02 275.99,274.53 276.29,274.05 276.58,273.59 276.88,273.15 277.18,272.73 277.47,272.34 277.77,271.98 278.06,271.64 278.36,271.33 278.65,271.06 278.95,270.83 279.25,270.63 279.54,270.46 279.84,270.34 280.13,270.25 280.43,270.21 280.72,270.2 281.02,270.23 281.32,270.3 281.61,270.41 281.91,270.56 282.2,270.74 282.5,270.96 282.79,271.21 283.09,271.5 283.39,271.82 283.68,272.16 283.98,272.53 284.27,272.92 284.57,273.34 284.86,273.78 285.16,274.23 285.46,274.7 285.75,275.18 286.05,275.66 286.34,276.15 286.64,276.65 286.93,277.15 287.23,277.64 287.53,278.14 287.82,278.62 288.12,279.1 288.41,279.56 288.71,280.01 289,280.44 289.3,280.85 289.6,281.24 289.89,281.61 290.19,281.96 290.48,282.27 290.78,282.56 291.07,282.83 291.37,283.06 291.66,283.26 291.96,283.43 292.26,283.56 292.55,283.67 292.85,283.73 293.14,283.77 293.44,283.77 293.73,283.74 294.03,283.68 294.33,283.58 294.62,283.45 294.92,283.29 295.21,283.1 295.51,282.88 295.8,282.63 296.1,282.36 296.4,282.06 296.69,281.73 296.99,281.39 297.28,281.02 297.58,280.64 297.87,280.24 298.17,279.82 298.47,279.39 298.76,278.95 299.06,278.5 299.35,278.04 299.65,277.58 299.94,277.12 300.24,276.66 300.54,276.2 300.83,275.74 301.13,275.29 301.42,274.84 301.72,274.41 302.01,273.98 302.31,273.57 302.61,273.17 302.9,272.79 303.2,272.43 303.49,272.09 303.79,271.76 304.08,271.46 304.38,271.19 304.68,270.93 304.97,270.7 305.27,270.5 305.56,270.32 305.86,270.17 306.15,270.05 306.45,269.96 306.75,269.89 307.04,269.85 307.34,269.84 307.63,269.86 307.93,269.91 308.22,269.98 308.52,270.09 308.82,270.21 309.11,270.37 309.41,270.55 309.7,270.76 310,270.99 310.29,271.24 310.59,271.52 310.88,271.82 311.18,272.15 311.48,272.49 311.77,272.85 312.07,273.23 312.36,273.61 312.66,274.01 312.95,274.42 313.25,274.84 313.55,275.26 313.84,275.69 314.14,276.12 314.43,276.56 314.73,276.99 315.02,277.42 315.32,277.86 315.62,278.28 315.91,278.71 316.21,279.12 316.5,279.53 316.8,279.96 317.09,280.33 317.39,280.79 317.69,281.01 317.98,281.55 318.28,281.67 318.57,282.21 318.87,282.68 319.16,282.71 319.46,283 319.76,283.12 320.05,283.49 320.35,283.68 320.64,284.34 320.94,284.21 321.23,284.42 321.53,284.14 321.83,285.13 322.12,285.57 322.42,285.1 322.71,284.66 323.01,285.18 323.3,284.96 323.6,285 323.9,285.2 324.19,285.1 324.49,284.75 324.78,285.48 325.08,285.2 325.37,284.21 325.67,284.57 325.97,284.18 326.26,284.31 326.56,284.02 326.85,283.14 327.15,282.41 327.44,281.46 327.74,281.98 328.04,282.66 328.33,282.45 328.63,282.85 328.92,282.38 329.22,281.16 329.51,280.42 329.81,280.82 330.1,280.93 330.4,280.97 330.7,280.6 330.99,279.46 331.29,279.41 331.58,277.67 331.88,277.54 332.17,277.84 332.47,277.55 332.77,278.19 333.06,276.57 333.36,275.7 333.65,276.1 333.95,275.21 334.24,275.77 334.54,275.95 334.84,275.83 335.13,275.69 335.43,274.48 335.72,273.75 336.02,273.1 336.31,274.2 336.61,272.89 336.91,272.91 337.2,273.01 337.5,272.61 337.79,272.49 338.09,272.87 338.38,272.43 338.68,271.52 338.98,270.87 339.27,270.02 339.57,271.31 339.86,270.04 340.16,269.66 340.45,269.63 340.75,268.9 341.05,270.56 341.34,269.67 341.64,269.2 341.93,271 342.23,270.68 342.52,269.81 342.82,271.16 343.12,270.46 343.41,270.18 343.71,271.34 344,272.64 344.3,273.12 344.59,271.97 344.89,272.64 345.19,273.32 345.48,273.43 345.78,272.46 346.07,273.86 346.37,275.15 346.66,273.57 346.96,274.64 347.26,275.06 347.55,273.97 347.85,275.38 348.14,276.59 348.44,275.3 348.73,276.52 349.03,277.23 349.32,275.96 349.62,277.34 349.92,276.44 350.21,277.63 350.51,278.35 350.8,279.03 351.1,278.68 351.39,278.67 351.69,279.23 351.99,279.36 352.28,280.09 352.58,279.24 352.87,278.83 353.17,279.27 353.46,279.45 353.76,281.49 354.06,282.03 354.35,282.52 354.65,282.98 354.94,281.35 355.24,280.99 355.53,280.98 355.83,281.97 356.13,283.58 356.42,283.6 356.72,284.64 357.01,283.13 357.31,284.2 357.6,284.69 357.9,283.41" fill="none" stroke="#6e6ebe" stroke-width="1.0" stroke-linejoin="round"/>
<polyline points="165.7,272.24 166,271.89 166.29,271.69 166.59,271.66 166.88,271.78 167.18,272.03 167.47,272.37 167.77,272.77 168.07,273.16 168.36,273.5 168.66,273.76 168.95,273.9 169.25,273.92 169.54,273.81 169.84,273.59 170.14,273.28 170.43,272.89 170.73,272.45 171.02,272 171.32,271.57 171.61,271.21 171.91,270.94 172.21,270.78 172.5,270.74 172.8,270.82 173.09,271.02 173.39,271.33 173.68,271.72 173.98,272.16 174.28,272.6 174.57,273.01 174.87,273.32 175.16,273.52 175.46,273.56 175.75,273.44 176.05,273.15 176.34,272.72 176.64,272.18 176.94,271.57 177.23,270.94 177.53,270.34 177.82,269.82 178.12,269.42 178.41,269.17 178.71,269.11 179.01,269.23 179.3,269.52 179.6,269.96 179.89,270.52 180.19,271.15 180.48,271.79 180.78,272.42 181.08,272.97 181.37,273.41 181.67,273.71 181.96,273.84 182.26,273.8 182.55,273.59 182.85,273.22 183.15,272.71 183.44,272.09 183.74,271.41 184.03,270.7 184.33,270 184.62,269.36 184.92,268.81 185.22,268.38 185.51,268.1 185.81,267.98 186.1,268.03 186.4,268.23 186.69,268.57 186.99,269.04 187.29,269.6 187.58,270.21 187.88,270.85 188.17,271.48 188.47,272.05 188.76,272.53 189.06,272.91 189.36,273.15 189.65,273.24 189.95,273.18 190.24,272.97 190.54,272.61 190.83,272.13 191.13,271.54 191.43,270.88 191.72,270.18 192.02,269.46 192.31,268.77 192.61,268.12 192.9,267.57 193.2,267.11 193.5,266.79 193.79,266.6 194.09,266.56 194.38,266.66 194.68,266.9 194.97,267.27 195.27,267.75 195.56,268.3 195.86,268.92 196.16,269.57 196.45,270.23 196.75,270.87 197.04,271.45 197.34,271.96 197.63,272.37 197.93,272.65 198.23,272.81 198.52,272.83 198.82,272.7 199.11,272.44 199.41,272.04 199.7,271.53 200,270.93 200.3,270.24 200.59,269.51 200.89,268.76 201.18,268.03 201.48,267.33 201.77,266.69 202.07,266.14 202.37,265.68 202.66,265.35 202.96,265.15 203.25,265.08 203.55,265.15 203.84,265.35 204.14,265.68 204.44,266.12 204.73,266.66 205.03,267.28 205.32,267.96 205.62,268.67 205.91,269.39 206.21,270.1 206.51,270.78 206.8,271.4 207.1,271.94 207.39,272.37 207.69,272.7 207.98,272.91 208.28,272.99 208.58,272.94 208.87,272.77 209.17,272.48 209.46,272.08 209.76,271.58 210.05,270.99 210.35,270.34 210.65,269.63 210.94,268.9 211.24,268.16 211.53,267.43 211.83,266.74 212.12,266.09 212.42,265.5 212.72,265 213.01,264.58 213.31,264.28 213.6,264.08 213.9,264 214.19,264.03 214.49,264.18 214.78,264.43 215.08,264.79 215.38,265.24 215.67,265.77 215.97,266.36 216.26,267 216.56,267.68 216.85,268.37 217.15,269.06 217.45,269.74 217.74,270.37 218.04,270.96 218.33,271.48 218.63,271.93 218.92,272.29 219.22,272.53 219.52,272.68 219.81,272.72 220.11,272.65 220.4,272.48 220.7,272.21 220.99,271.85 221.29,271.4 221.59,270.88 221.88,270.29 222.18,269.65 222.47,268.97 222.77,268.26 223.06,267.55 223.36,266.84 223.66,266.14 223.95,265.48 224.25,264.86 224.54,264.3 224.84,263.8 225.13,263.37 225.43,263.02 225.73,262.76 226.02,262.58 226.32,262.5 226.61,262.51 226.91,262.61 227.2,262.8 227.5,263.07 227.8,263.42 228.09,263.83 228.39,264.31 228.68,264.84 228.98,265.4 229.27,266 229.57,266.62 229.87,267.24 230.16,267.85 230.46,268.45 230.75,269.02 231.05,269.56 231.34,270.05 231.64,270.48 231.94,270.85 232.23,271.15 232.53,271.42 232.82,271.6 233.12,271.71 233.41,271.74 233.71,271.69 234,271.55 234.3,271.33 234.6,271.04 234.89,270.67 235.19,270.24 235.48,269.75 235.78,269.21 236.07,268.62 236.37,267.99 236.67,267.34 236.96,266.67 237.26,265.99 237.55,265.32 237.85,264.66 238.14,264.02 238.44,263.41 238.74,262.84 239.03,262.32 239.33,261.85 239.62,261.44 239.92,261.1 240.21,260.83 240.51,260.63 240.81,260.51 241.1,260.47 241.4,260.54 241.69,260.68 241.99,260.89 242.28,261.18 242.58,261.53 242.88,261.95 243.17,262.42 243.47,262.95 243.76,263.51 244.06,264.12 244.35,264.75 244.65,265.4 244.95,266.06 245.24,266.73 245.54,267.4 245.83,268.05 246.13,268.67 246.42,269.28 246.72,269.84 247.02,270.37 247.31,270.84 247.61,271.27 247.9,271.63 248.2,271.93 248.49,272.17 248.79,272.34 249.09,272.44 249.38,272.47 249.68,272.44 249.97,272.33 250.27,272.15 250.56,271.91 250.86,271.6 251.16,271.24 251.45,270.82 251.75,270.33 252.04,269.8 252.34,269.23 252.63,268.63 252.93,268.01 253.22,267.37 253.52,266.72 253.82,266.06 254.11,265.41 254.41,264.76 254.7,264.13 255,263.52 255.29,262.94 255.59,262.39 255.89,261.88 256.18,261.41 256.48,260.98 256.77,260.61 257.07,260.29 257.36,260.02 257.66,259.81 257.96,259.66 258.25,259.57 258.55,259.54 258.84,259.56 259.14,259.65 259.43,259.79 259.73,259.99 260.03,260.24 260.32,260.54 260.62,260.89 260.91,261.28 261.21,261.71 261.5,262.18 261.8,262.67 262.1,263.2 262.39,263.75 262.69,264.32 262.98,264.89 263.28,265.47 263.57,266.05 263.87,266.62 264.17,267.19 264.46,267.74 264.76,268.27 265.05,268.77 265.35,269.25 265.64,269.7 265.94,270.11 266.24,270.49 266.53,270.83 266.83,271.12 267.12,271.37 267.42,271.57 267.71,271.73 268.01,271.84 268.31,271.9 268.6,271.91 268.9,271.87 269.19,271.79 269.49,271.66 269.78,271.48 270.08,271.27 270.38,271.01 270.67,270.71 270.97,270.37 271.26,270 271.56,269.61 271.85,269.18 272.15,268.73 272.44,268.26 272.74,267.77 273.04,267.26 273.33,266.75 273.63,266.23 273.92,265.71 274.22,265.18 274.51,264.68 274.81,264.18 275.11,263.68 275.4,263.2 275.7,262.74 275.99,262.29 276.29,261.87 276.58,261.46 276.88,261.09 277.18,260.74 277.47,260.43 277.77,260.14 278.06,259.9 278.36,259.68 278.65,259.51 278.95,259.37 279.25,259.27 279.54,259.22 279.84,259.2 280.13,259.22 280.43,259.28 280.72,259.37 281.02,259.51 281.32,259.68 281.61,259.89 281.91,260.14 282.2,260.41 282.5,260.72 282.79,261.06 283.09,261.42 283.39,261.81 283.68,262.22 283.98,262.65 284.27,263.1 284.57,263.56 284.86,264.04 285.16,264.52 285.46,265.02 285.75,265.51 286.05,266.01 286.34,266.51 286.64,267 286.93,267.48 287.23,267.96 287.53,268.42 287.82,268.88 288.12,269.31 288.41,269.73 288.71,270.12 289,270.5 289.3,270.85 289.6,271.17 289.89,271.46 290.19,271.73 290.48,271.97 290.78,272.17 291.07,272.35 291.37,272.49 291.66,272.6 291.96,272.67 292.26,272.71 292.55,272.72 292.85,272.69 293.14,272.63 293.44,272.54 293.73,272.41 294.03,272.26 294.33,272.07 294.62,271.85 294.92,271.61 295.21,271.34 295.51,271.04 295.8,270.72 296.1,270.38 296.4,270.01 296.69,269.63 296.99,269.23 297.28,268.82 297.58,268.39 297.87,267.95 298.17,267.5 298.47,267.05 298.76,266.59 299.06,266.13 299.35,265.66 299.65,265.2 299.94,264.74 300.24,264.29 300.54,263.85 300.83,263.41 301.13,262.99 301.42,262.57 301.72,262.18 302.01,261.8 302.31,261.43 302.61,261.09 302.9,260.77 303.2,260.47 303.49,260.19 303.79,259.93 304.08,259.7 304.38,259.5 304.68,259.32 304.97,259.17 305.27,259.05 305.56,258.96 305.86,258.89 306.15,258.86 306.45,258.85 306.75,258.87 307.04,258.91 307.34,258.99 307.63,259.09 307.93,259.22 308.22,259.38 308.52,259.56 308.82,259.77 309.11,260 309.41,260.26 309.7,260.53 310,260.83 310.29,261.15 310.59,261.48 310.88,261.85 311.18,262.22 311.48,262.61 311.77,263.01 312.07,263.43 312.36,263.85 312.66,264.27 312.95,264.71 313.25,265.14 313.55,265.58 313.84,266.02 314.14,266.45 314.43,266.89 314.73,267.32 315.02,267.74 315.32,268.16 315.62,268.57 315.91,268.98 316.21,269.37 316.5,269.75 316.8,270.14 317.09,270.44 317.39,270.85 317.69,271.13 317.98,271.59 318.28,271.68 318.57,272.07 318.87,272.41 319.16,272.54 319.46,272.75 319.76,273.19 320.05,273.58 320.35,273.52 320.64,274.05 320.94,273.61 321.23,274 321.53,274.41 321.83,274.49 322.12,274.82 322.42,274.68 322.71,274.28 323.01,274.23 323.3,274.24 323.6,274.23 323.9,273.85 324.19,273.12 324.49,273.26 324.78,272.63 325.08,272.73 325.37,273.28 325.67,273.28 325.97,271.83 326.26,271.8 326.56,271.82 326.85,271.38 327.15,270.3 327.44,270.72 327.74,270.73 328.04,270.55 328.33,271.14 328.63,269.89 328.92,269.35 329.22,268.9 329.51,268.62 329.81,268.26 330.1,267.32 330.4,268.03 330.7,266.19 330.99,267.35 331.29,265.8 331.58,266.65 331.88,265.3 332.17,265.87 332.47,266.34 332.77,265.23 333.06,263.88 333.36,263.15 333.65,262.61 333.95,261.97 334.24,263.79 334.54,263.57 334.84,263.98 335.13,262.42 335.43,262.39 335.72,261.52 336.02,260.9 336.31,260.03 336.61,260.33 336.91,259.83 337.2,260.29 337.5,261.49 337.79,259.88 338.09,261.06 338.38,261.44 338.68,259.68 338.98,260.21 339.27,259.4 339.57,260.52 339.86,260.45 340.16,259.11 340.45,260.34 340.75,259.82 341.05,258.68 341.34,260.09 341.64,259.58 341.93,259.39 342.23,259.74 342.52,259.66 342.82,259.92 343.12,261.82 343.41,262.28 343.71,261.78 344,260.68 344.3,262.21 344.59,262.08 344.89,263.3 345.19,262.21 345.48,262.91 345.78,263.17 346.07,263.08 346.37,264.51 346.66,263.81 346.96,263.53 347.26,263.45 347.55,264.99 347.85,265.89 348.14,266.59 348.44,265.27 348.73,266.04 349.03,266.64 349.32,266.73 349.62,266.52 349.92,267.53 350.21,268.06 350.51,267.41 350.8,267.29 351.1,268.58 351.39,269.81 351.69,268.4 351.99,268.48 352.28,269 352.58,269.83 352.87,268.98 353.17,270.08 353.46,271.19 353.76,272.07 354.06,271.97 354.35,271.46 354.65,271.98 354.94,270.92 355.24,271.35 355.53,272.12 355.83,272.07 356.13,272.31 356.42,272.5 356.72,272.99 357.01,273.23 357.31,273.52 357.6,272.92 357.9,274.33" fill="none" stroke="#c864f0" stroke-width="1.0" stroke-linejoin="round"/>
<polyline points="165.7,261 166,260.75 166.29,260.65 166.59,260.72 166.88,260.93 167.18,261.25 167.47,261.64 167.77,262.04 168.07,262.41 168.36,262.7 168.66,262.89 168.95,262.95 169.25,262.89 169.54,262.7 169.84,262.42 170.14,262.06 170.43,261.64 170.73,261.19 171.02,260.76 171.32,260.37 171.61,260.07 171.91,259.87 172.21,259.8 172.5,259.84 172.8,260 173.09,260.25 173.39,260.61 173.68,261.02 173.98,261.46 174.28,261.87 174.57,262.21 174.87,262.44 175.16,262.53 175.46,262.46 175.75,262.23 176.05,261.84 176.34,261.33 176.64,260.74 176.94,260.12 177.23,259.51 177.53,258.97 177.82,258.54 178.12,258.25 178.41,258.13 178.71,258.2 179.01,258.44 179.3,258.85 179.6,259.38 179.89,259.99 180.19,260.64 180.48,261.27 180.78,261.85 181.08,262.32 181.37,262.66 181.67,262.84 181.96,262.84 182.26,262.67 182.55,262.34 182.85,261.86 183.15,261.27 183.44,260.6 183.74,259.89 184.03,259.19 184.33,258.53 184.62,257.96 184.92,257.5 185.22,257.19 185.51,257.03 185.81,257.03 186.1,257.2 186.4,257.51 186.69,257.95 186.99,258.49 187.29,259.09 187.58,259.73 187.88,260.36 188.17,260.94 188.47,261.45 188.76,261.85 189.06,262.12 189.36,262.24 189.65,262.21 189.95,262.03 190.24,261.7 190.54,261.25 190.83,260.68 191.13,260.04 191.43,259.34 191.72,258.62 192.02,257.92 192.31,257.27 192.61,256.7 192.9,256.22 193.2,255.87 193.5,255.66 193.79,255.59 194.09,255.67 194.38,255.88 194.68,256.23 194.97,256.69 195.27,257.23 195.56,257.84 195.86,258.48 196.16,259.12 196.45,259.76 196.75,260.36 197.04,260.88 197.34,261.3 197.63,261.61 197.93,261.78 198.23,261.82 198.52,261.72 198.82,261.47 199.11,261.1 199.41,260.61 199.7,260.02 200,259.35 200.3,258.63 200.59,257.88 200.89,257.13 201.18,256.43 201.48,255.78 201.77,255.22 202.07,254.75 202.37,254.4 202.66,254.18 202.96,254.1 203.25,254.15 203.55,254.33 203.84,254.64 204.14,255.07 204.44,255.6 204.73,256.21 205.03,256.88 205.32,257.59 205.62,258.31 205.91,259.02 206.21,259.7 206.51,260.33 206.8,260.88 207.1,261.33 207.39,261.67 207.69,261.89 207.98,261.98 208.28,261.95 208.58,261.79 208.87,261.51 209.17,261.12 209.46,260.62 209.76,260.05 210.05,259.4 210.35,258.7 210.65,257.97 210.94,257.23 211.24,256.5 211.53,255.8 211.83,255.15 212.12,254.56 212.42,254.05 212.72,253.63 213.01,253.32 213.31,253.11 213.6,253.02 213.9,253.05 214.19,253.19 214.49,253.44 214.78,253.79 215.08,254.24 215.38,254.76 215.67,255.35 215.97,255.99 216.26,256.66 216.56,257.35 216.85,258.04 217.15,258.72 217.45,259.35 217.74,259.94 218.04,260.47 218.33,260.92 218.63,261.28 218.92,261.55 219.22,261.69 219.52,261.73 219.81,261.67 220.11,261.5 220.4,261.23 220.7,260.87 220.99,260.42 221.29,259.9 221.59,259.31 221.88,258.67 222.18,257.99 222.47,257.29 222.77,256.57 223.06,255.86 223.36,255.17 223.66,254.5 223.95,253.88 224.25,253.32 224.54,252.82 224.84,252.4 225.13,252.05 225.43,251.79 225.73,251.61 226.02,251.53 226.32,251.55 226.61,251.65 226.91,251.84 227.2,252.11 227.5,252.46 227.8,252.88 228.09,253.35 228.39,253.88 228.68,254.45 228.98,255.05 229.27,255.66 229.57,256.29 229.87,256.9 230.16,257.5 230.46,258.07 230.75,258.6 231.05,259.09 231.34,259.52 231.64,259.89 231.94,260.18 232.23,260.41 232.53,260.59 232.82,260.69 233.12,260.72 233.41,260.66 233.71,260.52 234,260.3 234.3,260 234.6,259.63 234.89,259.2 235.19,258.7 235.48,258.15 235.78,257.56 236.07,256.94 236.37,256.29 236.67,255.62 236.96,254.95 237.26,254.27 237.55,253.62 237.85,252.98 238.14,252.38 238.44,251.81 238.74,251.3 239.03,250.84 239.33,250.44 239.62,250.1 239.92,249.84 240.21,249.65 240.51,249.54 240.81,249.51 241.1,249.56 241.4,249.7 241.69,249.93 241.99,250.22 242.28,250.58 242.58,251.01 242.88,251.49 243.17,252.01 243.47,252.59 243.76,253.19 244.06,253.83 244.35,254.48 244.65,255.15 244.95,255.81 245.24,256.47 245.54,257.12 245.83,257.75 246.13,258.34 246.42,258.9 246.72,259.42 247.02,259.89 247.31,260.3 247.61,260.66 247.9,260.95 248.2,261.18 248.49,261.34 248.79,261.43 249.09,261.45 249.38,261.4 249.68,261.28 249.97,261.09 250.27,260.84 250.56,260.53 250.86,260.15 251.16,259.73 251.45,259.25 251.75,258.71 252.04,258.13 252.34,257.53 252.63,256.9 252.93,256.26 253.22,255.6 253.52,254.94 253.82,254.29 254.11,253.65 254.41,253.02 254.7,252.41 255,251.84 255.29,251.29 255.59,250.79 255.89,250.33 256.18,249.91 256.48,249.55 256.77,249.24 257.07,248.98 257.36,248.78 257.66,248.65 257.96,248.57 258.25,248.55 258.55,248.59 258.84,248.69 259.14,248.84 259.43,249.05 259.73,249.32 260.03,249.63 260.32,249.99 260.62,250.39 260.91,250.83 261.21,251.3 261.5,251.8 261.8,252.33 262.1,252.89 262.39,253.46 262.69,254.03 262.98,254.61 263.28,255.19 263.57,255.77 263.87,256.33 264.17,256.88 264.46,257.4 264.76,257.9 265.05,258.37 265.35,258.82 265.64,259.22 265.94,259.59 266.24,259.91 266.53,260.2 266.83,260.43 267.12,260.63 267.42,260.77 267.71,260.86 268.01,260.91 268.31,260.91 268.6,260.86 268.9,260.76 269.19,260.62 269.49,260.43 269.78,260.2 270.08,259.93 270.38,259.62 270.67,259.27 270.97,258.89 271.26,258.49 271.56,258.05 271.85,257.59 272.15,257.11 272.44,256.62 272.74,256.11 273.04,255.59 273.33,255.07 273.63,254.54 273.92,254.02 274.22,253.5 274.51,253 274.81,252.52 275.11,252.04 275.4,251.58 275.7,251.14 275.99,250.72 276.29,250.33 276.58,249.96 276.88,249.63 277.18,249.32 277.47,249.05 277.77,248.81 278.06,248.61 278.36,248.45 278.65,248.33 278.95,248.24 279.25,248.2 279.54,248.19 279.84,248.23 280.13,248.3 280.43,248.41 280.72,248.56 281.02,248.75 281.32,248.97 281.61,249.23 281.91,249.51 282.2,249.83 282.5,250.18 282.79,250.55 283.09,250.95 283.39,251.37 283.68,251.8 283.98,252.26 284.27,252.73 284.57,253.21 284.86,253.69 285.16,254.19 285.46,254.69 285.75,255.18 286.05,255.68 286.34,256.17 286.64,256.65 286.93,257.12 287.23,257.58 287.53,258.03 287.82,258.45 288.12,258.86 288.41,259.25 288.71,259.61 289,259.95 289.3,260.26 289.6,260.55 289.89,260.8 290.19,261.03 290.48,261.22 290.78,261.38 291.07,261.51 291.37,261.6 291.66,261.66 291.96,261.69 292.26,261.68 292.55,261.64 292.85,261.56 293.14,261.46 293.44,261.32 293.73,261.15 294.03,260.95 294.33,260.72 294.62,260.46 294.92,260.18 295.21,259.87 295.51,259.54 295.8,259.19 296.1,258.82 296.4,258.43 296.69,258.02 296.99,257.6 297.28,257.17 297.58,256.73 297.87,256.28 298.17,255.82 298.47,255.36 298.76,254.89 299.06,254.43 299.35,253.97 299.65,253.52 299.94,253.07 300.24,252.63 300.54,252.2 300.83,251.78 301.13,251.37 301.42,250.98 301.72,250.61 302.01,250.26 302.31,249.92 302.61,249.61 302.9,249.32 303.2,249.05 303.49,248.81 303.79,248.6 304.08,248.41 304.38,248.24 304.68,248.11 304.97,248 305.27,247.92 305.56,247.87 305.86,247.85 306.15,247.85 306.45,247.89 306.75,247.95 307.04,248.04 307.34,248.16 307.63,248.3 307.93,248.47 308.22,248.67 308.52,248.89 308.82,249.13 309.11,249.4 309.41,249.68 309.7,249.99 310,250.32 310.29,250.66 310.59,251.03 310.88,251.41 311.18,251.81 311.48,252.22 311.77,252.64 312.07,253.06 312.36,253.49 312.66,253.93 312.95,254.37 313.25,254.81 313.55,255.24 313.84,255.68 314.14,256.11 314.43,256.54 314.73,256.97 315.02,257.38 315.32,257.79 315.62,258.19 315.91,258.58 316.21,258.95 316.5,259.32 316.8,259.65 317.09,260.03 317.39,260.28 317.69,260.73 317.98,260.97 318.28,261.25 318.57,261.4 318.87,261.83 319.16,262.12 319.46,262.45 319.76,262.43 320.05,262.5 320.35,263.07 320.64,263.26 320.94,263.41 321.23,262.81 321.53,263.12 321.83,263.12 322.12,263.35 322.42,262.95 322.71,262.52 323.01,262.43 323.3,263.22 323.6,262.83 323.9,262.49 324.19,262.93 324.49,261.78 324.78,261.97 325.08,261.95 325.37,261.19 325.67,260.8 325.97,260.64 326.26,259.67 326.56,259.79 326.85,260.02 327.15,260.54 327.44,259.49 327.74,259.31 328.04,258.64 328.33,258.63 328.63,259.25 328.92,259.22 329.22,258.71 329.51,258.46 329.81,256.33 330.1,255.93 330.4,256.4 330.7,255.24 330.99,254.77 331.29,255.77 331.58,254.31 331.88,254.8 332.17,252.95 332.47,254.09 332.77,254.02 333.06,253.91 333.36,252.21 333.65,251.46 333.95,251.58 334.24,252.51 334.54,252.05 334.84,251.05 335.13,252.07 335.43,250.24 335.72,249.56 336.02,248.94 336.31,249.13 336.61,249.27 336.91,248.34 337.2,249.56 337.5,249.83 337.79,250.28 338.09,250.21 338.38,248.58 338.68,249.54 338.98,248.26 339.27,248.5 339.57,247.36 339.86,247.21 340.16,247.49 340.45,247.33 340.75,249.31 341.05,249.68 341.34,249.69 341.64,249.67 341.93,249.21 342.23,248.64 342.52,248.89 342.82,248.67 343.12,249.29 343.41,250.51 343.71,250.78 344,250.46 344.3,250.33 344.59,251.51 344.89,252.18 345.19,251.99 345.48,253.02 345.78,252.02 346.07,253.93 346.37,253.29 346.66,253.6 346.96,254.6 347.26,254.27 347.55,254.55 347.85,253.65 348.14,253.66 348.44,254.56 348.73,254.4 349.03,254.49 349.32,256.44 349.62,255.79 349.92,255.69 350.21,255.44 350.51,256.08 350.8,257.39 351.1,258.53 351.39,258.08 351.69,259.13 351.99,258.39 352.28,258.7 352.58,258.37 352.87,259.54 353.17,260.28 353.46,259.28 353.76,259.61 354.06,260.57 354.35,260.66 354.65,261.13 354.94,260.96 355.24,261.32 355.53,262.16 355.83,260.93 356.13,260.79 356.42,261.16 356.72,262.58 357.01,263.47 357.31,262.62 357.6,262.17 357.9,262.49" fill="none" stroke="#d25abe" stroke-width="1.0" stroke-linejoin="round"/>
<polyline points="165.7,249.9 166,249.7 166.29,249.65 166.59,249.77 166.88,250.03 167.18,250.37 167.47,250.77 167.77,251.17 168.07,251.52 168.36,251.79 168.66,251.93 168.95,251.96 169.25,251.85 169.54,251.62 169.84,251.31 170.14,250.94 170.43,250.51 170.73,250.06 171.02,249.64 171.32,249.28 171.61,249.02 171.91,248.86 172.21,248.82 172.5,248.91 172.8,249.1 173.09,249.38 173.39,249.75 173.68,250.17 173.98,250.59 174.28,250.98 174.57,251.28 174.87,251.46 175.16,251.5 175.46,251.38 175.75,251.09 176.05,250.65 176.34,250.12 176.64,249.52 176.94,248.9 177.23,248.31 177.53,247.8 177.82,247.42 178.12,247.19 178.41,247.14 178.71,247.27 179.01,247.58 179.3,248.04 179.6,248.6 179.89,249.23 180.19,249.88 180.48,250.5 180.78,251.04 181.08,251.46 181.37,251.75 181.67,251.86 181.96,251.8 182.26,251.57 182.55,251.18 182.85,250.65 183.15,250.03 183.44,249.34 183.74,248.63 184.03,247.94 184.33,247.31 184.62,246.78 184.92,246.37 185.22,246.12 185.51,246.02 185.81,246.09 186.1,246.31 186.4,246.67 186.69,247.16 186.99,247.72 187.29,248.34 187.58,248.98 187.88,249.6 188.17,250.15 188.47,250.62 188.76,250.97 189.06,251.19 189.36,251.25 189.65,251.16 189.95,250.92 190.24,250.54 190.54,250.04 190.83,249.43 191.13,248.77 191.43,248.06 191.72,247.35 192.02,246.66 192.31,246.04 192.61,245.5 192.9,245.08 193.2,244.78 193.5,244.63 193.79,244.62 194.09,244.75 194.38,245.02 194.68,245.42 194.97,245.91 195.27,246.48 195.56,247.11 195.86,247.75 196.16,248.39 196.45,249.01 196.75,249.58 197.04,250.06 197.34,250.43 197.63,250.69 197.93,250.8 198.23,250.78 198.52,250.62 198.82,250.32 199.11,249.9 199.41,249.36 199.7,248.74 200,248.05 200.3,247.31 200.59,246.56 200.89,245.82 201.18,245.14 201.48,244.53 201.77,244 202.07,243.59 202.37,243.29 202.66,243.13 202.96,243.11 203.25,243.22 203.55,243.46 203.84,243.82 204.14,244.3 204.44,244.86 204.73,245.5 205.03,246.19 205.32,246.91 205.62,247.63 205.91,248.33 206.21,248.98 206.51,249.57 206.8,250.08 207.1,250.49 207.39,250.78 207.69,250.94 207.98,250.98 208.28,250.89 208.58,250.67 208.87,250.34 209.17,249.9 209.46,249.37 209.76,248.75 210.05,248.08 210.35,247.36 210.65,246.63 210.94,245.89 211.24,245.17 211.53,244.49 211.83,243.87 212.12,243.32 212.42,242.85 212.72,242.48 213.01,242.21 213.31,242.06 213.6,242.03 213.9,242.11 214.19,242.3 214.49,242.6 214.78,243 215.08,243.48 215.38,244.04 215.67,244.65 215.97,245.31 216.26,245.99 216.56,246.69 216.85,247.37 217.15,248.03 217.45,248.64 217.74,249.2 218.04,249.69 218.33,250.1 218.63,250.42 218.92,250.63 219.22,250.73 219.52,250.72 219.81,250.6 220.11,250.39 220.4,250.07 220.7,249.67 220.99,249.18 221.29,248.62 221.59,248.01 221.88,247.34 222.18,246.65 222.47,245.94 222.77,245.22 223.06,244.52 223.36,243.84 223.66,243.19 223.95,242.6 224.25,242.07 224.54,241.6 224.84,241.22 225.13,240.92 225.43,240.7 225.73,240.57 226.02,240.54 226.32,240.6 226.61,240.75 226.91,240.98 227.2,241.29 227.5,241.68 227.8,242.13 228.09,242.63 228.39,243.18 228.68,243.77 228.98,244.38 229.27,245 229.57,245.61 229.87,246.22 230.16,246.81 230.46,247.36 230.75,247.87 231.05,248.33 231.34,248.73 231.64,249.06 231.94,249.32 232.23,249.5 232.53,249.64 232.82,249.7 233.12,249.68 233.41,249.58 233.71,249.39 234,249.13 234.3,248.8 234.6,248.39 234.89,247.93 235.19,247.4 235.48,246.83 235.78,246.23 236.07,245.59 236.37,244.93 236.67,244.25 236.96,243.58 237.26,242.92 237.55,242.27 237.85,241.65 238.14,241.07 238.44,240.53 238.74,240.05 239.03,239.62 239.33,239.26 239.62,238.96 239.92,238.74 240.21,238.6 240.51,238.53 240.81,238.54 241.1,238.63 241.4,238.82 241.69,239.08 241.99,239.41 242.28,239.81 242.58,240.27 242.88,240.77 243.17,241.33 243.47,241.92 243.76,242.54 244.06,243.19 244.35,243.85 244.65,244.52 244.95,245.18 245.24,245.83 245.54,246.47 245.83,247.08 246.13,247.66 246.42,248.19 246.72,248.68 247.02,249.12 247.31,249.5 247.61,249.82 247.9,250.08 248.2,250.26 248.49,250.38 248.79,250.43 249.09,250.41 249.38,250.32 249.68,250.16 249.97,249.94 250.27,249.65 250.56,249.3 250.86,248.89 251.16,248.44 251.45,247.94 251.75,247.37 252.04,246.78 252.34,246.16 252.63,245.52 252.93,244.87 253.22,244.21 253.52,243.55 253.82,242.91 254.11,242.27 254.41,241.65 254.7,241.07 255,240.51 255.29,239.99 255.59,239.51 255.89,239.07 256.18,238.69 256.48,238.35 256.77,238.08 257.07,237.86 257.36,237.69 257.66,237.59 257.96,237.55 258.25,237.57 258.55,237.64 258.84,237.78 259.14,237.97 259.43,238.21 259.73,238.5 260.03,238.85 260.32,239.23 260.62,239.66 260.91,240.12 261.21,240.61 261.5,241.13 261.8,241.67 262.1,242.23 262.39,242.81 262.69,243.39 262.98,243.97 263.28,244.55 263.57,245.12 263.87,245.67 264.17,246.2 264.46,246.72 264.76,247.2 265.05,247.65 265.35,248.07 265.64,248.45 265.94,248.8 266.24,249.1 266.53,249.35 266.83,249.56 267.12,249.72 267.42,249.83 267.71,249.9 268.01,249.91 268.31,249.88 268.6,249.8 268.9,249.67 269.19,249.5 269.49,249.29 269.78,249.03 270.08,248.73 270.38,248.4 270.67,248.03 270.97,247.63 271.26,247.2 271.56,246.75 271.85,246.28 272.15,245.79 272.44,245.28 272.74,244.77 273.04,244.25 273.33,243.72 273.63,243.2 273.92,242.68 274.22,242.16 274.51,241.67 274.81,241.19 275.11,240.72 275.4,240.28 275.7,239.85 275.99,239.45 276.29,239.07 276.58,238.73 276.88,238.41 277.18,238.13 277.47,237.88 277.77,237.67 278.06,237.49 278.36,237.36 278.65,237.26 278.95,237.2 279.25,237.19 279.54,237.21 279.84,237.27 280.13,237.37 280.43,237.5 280.72,237.68 281.02,237.89 281.32,238.13 281.61,238.41 281.91,238.72 282.2,239.06 282.5,239.42 282.79,239.81 283.09,240.22 283.39,240.65 283.68,241.1 283.98,241.57 284.27,242.04 284.57,242.53 284.86,243.02 285.16,243.52 285.46,244.02 285.75,244.51 286.05,245.01 286.34,245.49 286.64,245.97 286.93,246.43 287.23,246.88 287.53,247.31 287.82,247.73 288.12,248.12 288.41,248.49 288.71,248.84 289,249.16 289.3,249.45 289.6,249.71 289.89,249.94 290.19,250.15 290.48,250.32 290.78,250.45 291.07,250.56 291.37,250.63 291.66,250.66 291.96,250.66 292.26,250.63 292.55,250.57 292.85,250.47 293.14,250.34 293.44,250.18 293.73,249.99 294.03,249.77 294.33,249.52 294.62,249.24 294.92,248.94 295.21,248.62 295.51,248.27 295.8,247.91 296.1,247.52 296.4,247.12 296.69,246.7 296.99,246.27 297.28,245.83 297.58,245.38 297.87,244.93 298.17,244.47 298.47,244.01 298.76,243.54 299.06,243.08 299.35,242.62 299.65,242.17 299.94,241.73 300.24,241.3 300.54,240.88 300.83,240.47 301.13,240.07 301.42,239.7 301.72,239.34 302.01,239 302.31,238.68 302.61,238.39 302.9,238.11 303.2,237.86 303.49,237.64 303.79,237.45 304.08,237.28 304.38,237.13 304.68,237.02 304.97,236.93 305.27,236.87 305.56,236.84 305.86,236.84 306.15,236.87 306.45,236.93 306.75,237.01 307.04,237.12 307.34,237.26 307.63,237.42 307.93,237.61 308.22,237.83 308.52,238.06 308.82,238.32 309.11,238.61 309.41,238.91 309.7,239.23 310,239.58 310.29,239.93 310.59,240.31 310.88,240.7 311.18,241.11 311.48,241.53 311.77,241.95 312.07,242.38 312.36,242.82 312.66,243.26 312.95,243.7 313.25,244.13 313.55,244.57 313.84,245.01 314.14,245.44 314.43,245.86 314.73,246.28 315.02,246.69 315.32,247.09 315.62,247.49 315.91,247.87 316.21,248.23 316.5,248.59 316.8,248.95 317.09,249.24 317.39,249.56 317.69,249.89 317.98,250.13 318.28,250.42 318.57,250.6 318.87,250.74 319.16,250.78 319.46,251.41 319.76,251.48 320.05,251.32 320.35,251.54 320.64,251.75 320.94,251.65 321.23,252.44 321.53,252.02 321.83,251.94 322.12,251.88 322.42,252.12 322.71,251.75 323.01,252.17 323.3,251.7 323.6,251.79 323.9,250.69 324.19,250.3 324.49,250.53 324.78,250 325.08,250.27 325.37,249.97 325.67,250.36 325.97,249.01 326.26,248.46 326.56,248.05 326.85,249.11 327.15,247.77 327.44,248.83 327.74,247.81 328.04,247.38 328.33,248.05 328.63,247.23 328.92,245.58 329.22,245.35 329.51,245.81 329.81,244.58 330.1,244.99 330.4,243.65 330.7,244.12 330.99,244.89 331.29,242.84 331.58,244.01 331.88,243.85 332.17,242.35 332.47,243.16 332.77,242.26 333.06,240.97 333.36,240.93 333.65,241.34 333.95,240.35 334.24,239.63 334.54,239.79 334.84,239.59 335.13,240.11 335.43,239.97 335.72,238.36 336.02,237.64 336.31,239.58 336.61,239.76 336.91,239.63 337.2,238.09 337.5,238.8 337.79,239.05 338.09,237.6 338.38,238.37 338.68,236.63 338.98,237.11 339.27,236.15 339.57,235.95 339.86,237.53 340.16,236.85 340.45,237.59 340.75,238.47 341.05,239.36 341.34,238.25 341.64,238.27 341.93,239.04 342.23,238.19 342.52,239.53 342.82,239.61 343.12,240.66 343.41,240.59 343.71,239.42 344,240.04 344.3,241.29 344.59,241.75 344.89,241.11 345.19,241.91 345.48,240.93 345.78,242.71 346.07,241.64 346.37,241.98 346.66,241.81 346.96,243.05 347.26,244.41 347.55,244.88 347.85,244.14 348.14,245.48 348.44,245.99 348.73,244.74 349.03,244.19 349.32,244.19 349.62,244.42 349.92,245.36 350.21,245.14 350.51,245.65 350.8,246.36 351.1,247.14 351.39,248.58 351.69,249.17 351.99,249.18 352.28,248.83 352.58,249.67 352.87,248.1 353.17,248.58 353.46,248.52 353.76,248.27 354.06,249.93 354.35,249.14 354.65,248.78 354.94,250.44 355.24,251.58 355.53,250.52 355.83,250 356.13,250.14 356.42,251.25 356.72,251.33 357.01,252.65 357.31,252.99 357.6,252.78 357.9,252" fill="none" stroke="#d75f6e" stroke-width="1.0" stroke-linejoin="round"/>
<polyline points="165.7,238.81 166,238.66 166.29,238.67 166.59,238.84 166.88,239.13 167.18,239.5 167.47,239.91 167.77,240.3 168.07,240.63 168.36,240.86 168.66,240.97 168.95,240.94 169.25,240.79 169.54,240.54 169.84,240.2 170.14,239.81 170.43,239.37 170.73,238.93 171.02,238.53 171.32,238.21 171.61,237.98 171.91,237.86 172.21,237.87 172.5,237.99 172.8,238.21 173.09,238.5 173.39,238.89 173.68,239.31 173.98,239.72 174.28,240.08 174.57,240.34 174.87,240.47 175.16,240.45 175.46,240.27 175.75,239.94 176.05,239.46 176.34,238.9 176.64,238.29 176.94,237.68 177.23,237.12 177.53,236.66 177.82,236.33 178.12,236.16 178.41,236.17 178.71,236.37 179.01,236.74 179.3,237.24 179.6,237.83 179.89,238.47 180.19,239.11 180.48,239.71 180.78,240.21 181.08,240.59 181.37,240.81 181.67,240.86 181.96,240.73 182.26,240.44 182.55,240 182.85,239.43 183.15,238.78 183.44,238.08 183.74,237.37 184.03,236.7 184.33,236.11 184.62,235.62 184.92,235.27 185.22,235.07 185.51,235.04 185.81,235.17 186.1,235.45 186.4,235.86 186.69,236.37 186.99,236.97 187.29,237.6 187.58,238.23 187.88,238.82 188.17,239.35 188.47,239.77 188.76,240.07 189.06,240.23 189.36,240.23 189.65,240.08 189.95,239.78 190.24,239.35 190.54,238.81 190.83,238.18 191.13,237.49 191.43,236.78 191.72,236.07 192.02,235.41 192.31,234.82 192.61,234.33 192.9,233.95 193.2,233.71 193.5,233.62 193.79,233.67 194.09,233.86 194.38,234.18 194.68,234.62 194.97,235.15 195.27,235.75 195.56,236.38 195.86,237.03 196.16,237.65 196.45,238.25 196.75,238.78 197.04,239.22 197.34,239.54 197.63,239.74 197.93,239.8 198.23,239.72 198.52,239.5 198.82,239.15 199.11,238.68 199.41,238.1 199.7,237.45 200,236.73 200.3,235.99 200.59,235.24 200.89,234.52 201.18,233.87 201.48,233.29 201.77,232.81 202.07,232.45 202.37,232.21 202.66,232.11 202.96,232.14 203.25,232.31 203.55,232.61 203.84,233.02 204.14,233.54 204.44,234.14 204.73,234.8 205.03,235.5 205.32,236.22 205.62,236.94 205.91,237.62 206.21,238.25 206.51,238.81 206.8,239.27 207.1,239.63 207.39,239.86 207.69,239.97 207.98,239.95 208.28,239.8 208.58,239.53 208.87,239.15 209.17,238.66 209.46,238.09 209.76,237.45 210.05,236.75 210.35,236.02 210.65,235.28 210.94,234.55 211.24,233.85 211.53,233.2 211.83,232.6 212.12,232.09 212.42,231.67 212.72,231.35 213.01,231.14 213.31,231.04 213.6,231.06 213.9,231.19 214.19,231.44 214.49,231.78 214.78,232.22 215.08,232.74 215.38,233.33 215.67,233.97 215.97,234.64 216.26,235.33 216.56,236.02 216.85,236.69 217.15,237.33 217.45,237.92 217.74,238.44 218.04,238.9 218.33,239.26 218.63,239.53 218.92,239.7 219.22,239.74 219.52,239.68 219.81,239.51 220.11,239.25 220.4,238.89 220.7,238.44 220.99,237.92 221.29,237.33 221.59,236.69 221.88,236.01 222.18,235.3 222.47,234.59 222.77,233.87 223.06,233.18 223.36,232.52 223.66,231.9 223.95,231.33 224.25,230.83 224.54,230.41 224.84,230.07 225.13,229.81 225.43,229.64 225.73,229.56 226.02,229.57 226.32,229.67 226.61,229.87 226.91,230.14 227.2,230.49 227.5,230.91 227.8,231.39 228.09,231.92 228.39,232.49 228.68,233.09 228.98,233.71 229.27,234.33 229.57,234.94 229.87,235.54 230.16,236.11 230.46,236.64 230.75,237.12 231.05,237.55 231.34,237.91 231.64,238.21 231.94,238.43 232.23,238.57 232.53,238.67 232.82,238.68 233.12,238.62 233.41,238.47 233.71,238.25 234,237.95 234.3,237.58 234.6,237.14 234.89,236.64 235.19,236.1 235.48,235.5 235.78,234.88 236.07,234.23 236.37,233.56 236.67,232.89 236.96,232.22 237.26,231.57 237.55,230.94 237.85,230.34 238.14,229.78 238.44,229.27 238.74,228.82 239.03,228.42 239.33,228.1 239.62,227.84 239.92,227.67 240.21,227.56 240.51,227.54 240.81,227.59 241.1,227.73 241.4,227.96 241.69,228.26 241.99,228.63 242.28,229.06 242.58,229.54 242.88,230.08 243.17,230.65 243.47,231.26 243.76,231.9 244.06,232.55 244.35,233.22 244.65,233.88 244.95,234.54 245.24,235.19 245.54,235.81 245.83,236.4 246.13,236.95 246.42,237.46 246.72,237.92 247.02,238.33 247.31,238.68 247.61,238.96 247.9,239.18 248.2,239.33 248.49,239.4 248.79,239.41 249.09,239.35 249.38,239.22 249.68,239.02 249.97,238.76 250.27,238.44 250.56,238.05 250.86,237.62 251.16,237.14 251.45,236.61 251.75,236.03 252.04,235.42 252.34,234.78 252.63,234.14 252.93,233.48 253.22,232.82 253.52,232.17 253.82,231.53 254.11,230.9 254.41,230.3 254.7,229.73 255,229.19 255.29,228.69 255.59,228.24 255.89,227.83 256.18,227.48 256.48,227.18 256.77,226.94 257.07,226.75 257.36,226.63 257.66,226.56 257.96,226.55 258.25,226.61 258.55,226.72 258.84,226.89 259.14,227.11 259.43,227.39 259.73,227.71 260.03,228.08 260.32,228.49 260.62,228.94 260.91,229.42 261.21,229.93 261.5,230.46 261.8,231.01 262.1,231.59 262.39,232.17 262.69,232.75 262.98,233.33 263.28,233.9 263.57,234.46 263.87,235 264.17,235.53 264.46,236.02 264.76,236.49 265.05,236.92 265.35,237.32 265.64,237.67 265.94,237.99 266.24,238.26 266.53,238.49 266.83,238.67 267.12,238.8 267.42,238.88 267.71,238.91 268.01,238.9 268.31,238.83 268.6,238.72 268.9,238.57 269.19,238.37 269.49,238.12 269.78,237.84 270.08,237.52 270.38,237.16 270.67,236.77 270.97,236.35 271.26,235.91 271.56,235.44 271.85,234.96 272.15,234.46 272.44,233.94 272.74,233.42 273.04,232.9 273.33,232.37 273.63,231.85 273.92,231.33 274.22,230.82 274.51,230.34 274.81,229.87 275.11,229.42 275.4,228.98 275.7,228.57 275.99,228.19 276.29,227.83 276.58,227.51 276.88,227.21 277.18,226.95 277.47,226.73 277.77,226.54 278.06,226.39 278.36,226.28 278.65,226.21 278.95,226.18 279.25,226.19 279.54,226.24 279.84,226.32 280.13,226.45 280.43,226.61 280.72,226.81 281.02,227.04 281.32,227.31 281.61,227.61 281.91,227.94 282.2,228.29 282.5,228.68 282.79,229.08 283.09,229.51 283.39,229.95 283.68,230.41 283.98,230.88 284.27,231.37 284.57,231.86 284.86,232.35 285.16,232.85 285.46,233.35 285.75,233.84 286.05,234.33 286.34,234.81 286.64,235.27 286.93,235.73 287.23,236.17 287.53,236.59 287.82,236.99 288.12,237.36 288.41,237.72 288.71,238.05 289,238.35 289.3,238.62 289.6,238.86 289.89,239.07 290.19,239.25 290.48,239.4 290.78,239.51 291.07,239.59 291.37,239.63 291.66,239.65 291.96,239.62 292.26,239.57 292.55,239.48 292.85,239.36 293.14,239.21 293.44,239.03 293.73,238.81 294.03,238.57 294.33,238.3 294.62,238.01 294.92,237.69 295.21,237.35 295.51,236.99 295.8,236.61 296.1,236.21 296.4,235.8 296.69,235.37 296.99,234.94 297.28,234.49 297.58,234.04 297.87,233.58 298.17,233.12 298.47,232.65 298.76,232.19 299.06,231.73 299.35,231.28 299.65,230.84 299.94,230.4 300.24,229.97 300.54,229.56 300.83,229.16 301.13,228.78 301.42,228.42 301.72,228.08 302.01,227.75 302.31,227.45 302.61,227.17 302.9,226.92 303.2,226.69 303.49,226.49 303.79,226.31 304.08,226.16 304.38,226.04 304.68,225.94 304.97,225.88 305.27,225.84 305.56,225.83 305.86,225.86 306.15,225.9 306.45,225.98 306.75,226.09 307.04,226.22 307.34,226.37 307.63,226.56 307.93,226.77 308.22,227 308.52,227.25 308.82,227.53 309.11,227.83 309.41,228.15 309.7,228.49 310,228.84 310.29,229.21 310.59,229.6 310.88,230 311.18,230.42 311.48,230.84 311.77,231.27 312.07,231.71 312.36,232.14 312.66,232.58 312.95,233.03 313.25,233.46 313.55,233.9 313.84,234.33 314.14,234.76 314.43,235.18 314.73,235.6 315.02,236 315.32,236.39 315.62,236.78 315.91,237.15 316.21,237.5 316.5,237.85 316.8,238.2 317.09,238.45 317.39,238.86 317.69,238.99 317.98,239.39 318.28,239.5 318.57,239.66 318.87,239.76 319.16,240.15 319.46,240.27 319.76,240.67 320.05,240.53 320.35,241.1 320.64,240.76 320.94,240.92 321.23,241.54 321.53,240.82 321.83,241.14 322.12,241.49 322.42,241.35 322.71,241.52 323.01,241.18 323.3,240.35 323.6,239.48 323.9,239.51 324.19,239.03 324.49,238.72 324.78,238.61 325.08,238.97 325.37,239.2 325.67,239.31 325.97,238.44 326.26,238.59 326.56,237.38 326.85,237.58 327.15,236.91 327.44,236.52 327.74,235.97 328.04,236.66 328.33,236.5 328.63,235.19 328.92,235.62 329.22,234.47 329.51,233.1 329.81,233.75 330.1,232.42 330.4,232.53 330.7,231.58 330.99,232.01 331.29,231.45 331.58,231.2 331.88,232.1 332.17,231.5 332.47,230.92 332.77,230.8 333.06,230.11 333.36,229.06 333.65,228.76 333.95,228.44 334.24,229.78 334.54,228.81 334.84,228.46 335.13,227.43 335.43,229.15 335.72,229.3 336.02,227.28 336.31,227.82 336.61,227.11 336.91,226.98 337.2,227.28 337.5,227.2 337.79,226.76 338.09,225.47 338.38,225.95 338.68,225.43 338.98,226.32 339.27,225.64 339.57,225.82 339.86,225.65 340.16,225.36 340.45,227.29 340.75,226.03 341.05,226.51 341.34,227.68 341.64,227.78 341.93,228.84 342.23,229.08 342.52,227.85 342.82,227.81 343.12,227.57 343.41,229.33 343.71,230.32 344,230.22 344.3,230.06 344.59,229.64 344.89,230.64 345.19,230.15 345.48,230.5 345.78,231.53 346.07,230.91 346.37,232.56 346.66,232.14 346.96,233.13 347.26,234.05 347.55,233.54 347.85,233.42 348.14,233.32 348.44,234.03 348.73,233.15 349.03,233.33 349.32,235.1 349.62,236.34 349.92,234.7 350.21,235.54 350.51,236.79 350.8,237.29 351.1,236.38 351.39,237.45 351.69,237.57 351.99,237.04 352.28,237.77 352.58,237.49 352.87,236.81 353.17,237.07 353.46,237.72 353.76,238.12 354.06,239.19 354.35,238.95 354.65,238.97 354.94,239.26 355.24,239.73 355.53,239.41 355.83,240.72 356.13,240.13 356.42,239.36 356.72,241.44 357.01,241.85 357.31,240.34 357.6,242.02 357.9,241" fill="none" stroke="#afb95a" stroke-width="1.0" stroke-linejoin="round"/>
<polyline points="165.7,227.81 166,227.65 166.29,227.66 166.59,227.83 166.88,228.12 167.18,228.49 167.47,228.9 167.77,229.29 168.07,229.62 168.36,229.85 168.66,229.96 168.95,229.93 169.25,229.78 169.54,229.53 169.84,229.19 170.14,228.8 170.43,228.36 170.73,227.93 171.02,227.53 171.32,227.2 171.61,226.97 171.91,226.85 172.21,226.86 172.5,226.98 172.8,227.2 173.09,227.5 173.39,227.88 173.68,228.3 173.98,228.71 174.28,229.07 174.57,229.33 174.87,229.46 175.16,229.44 175.46,229.26 175.75,228.93 176.05,228.45 176.34,227.89 176.64,227.28 176.94,226.67 177.23,226.11 177.53,225.65 177.82,225.32 178.12,225.15 178.41,225.16 178.71,225.36 179.01,225.73 179.3,226.23 179.6,226.82 179.89,227.46 180.19,228.11 180.48,228.7 180.78,229.2 181.08,229.58 181.37,229.8 181.67,229.85 181.96,229.73 182.26,229.43 182.55,228.99 182.85,228.42 183.15,227.77 183.44,227.07 183.74,226.36 184.03,225.69 184.33,225.1 184.62,224.61 184.92,224.26 185.22,224.06 185.51,224.03 185.81,224.16 186.1,224.44 186.4,224.85 186.69,225.37 186.99,225.96 187.29,226.59 187.58,227.22 187.88,227.82 188.17,228.34 188.47,228.77 188.76,229.06 189.06,229.22 189.36,229.22 189.65,229.07 189.95,228.78 190.24,228.34 190.54,227.8 190.83,227.17 191.13,226.48 191.43,225.77 191.72,225.07 192.02,224.4 192.31,223.81 192.61,223.32 192.9,222.95 193.2,222.71 193.5,222.61 193.79,222.66 194.09,222.85 194.38,223.17 194.68,223.61 194.97,224.14 195.27,224.74 195.56,225.37 195.86,226.02 196.16,226.65 196.45,227.24 196.75,227.77 197.04,228.21 197.34,228.54 197.63,228.73 197.93,228.79 198.23,228.71 198.52,228.49 198.82,228.14 199.11,227.67 199.41,227.09 199.7,226.44 200,225.73 200.3,224.98 200.59,224.24 200.89,223.51 201.18,222.86 201.48,222.28 201.77,221.8 202.07,221.44 202.37,221.2 202.66,221.1 202.96,221.13 203.25,221.3 203.55,221.6 203.84,222.01 204.14,222.53 204.44,223.13 204.73,223.79 205.03,224.5 205.32,225.22 205.62,225.93 205.91,226.61 206.21,227.24 206.51,227.8 206.8,228.26 207.1,228.62 207.39,228.85 207.69,228.96 207.98,228.94 208.28,228.79 208.58,228.52 208.87,228.14 209.17,227.65 209.46,227.08 209.76,226.44 210.05,225.74 210.35,225.02 210.65,224.28 210.94,223.55 211.24,222.84 211.53,222.19 211.83,221.6 212.12,221.09 212.42,220.66 212.72,220.34 213.01,220.13 213.31,220.03 213.6,220.05 213.9,220.19 214.19,220.43 214.49,220.78 214.78,221.21 215.08,221.73 215.38,222.32 215.67,222.96 215.97,223.63 216.26,224.32 216.56,225.01 216.85,225.68 217.15,226.32 217.45,226.91 217.74,227.44 218.04,227.89 218.33,228.25 218.63,228.52 218.92,228.69 219.22,228.73 219.52,228.67 219.81,228.51 220.11,228.24 220.4,227.88 220.7,227.43 220.99,226.91 221.29,226.32 221.59,225.68 221.88,225 222.18,224.29 222.47,223.58 222.77,222.87 223.06,222.17 223.36,221.51 223.66,220.89 223.95,220.32 224.25,219.83 224.54,219.4 224.84,219.06 225.13,218.8 225.43,218.63 225.73,218.55 226.02,218.56 226.32,218.67 226.61,218.86 226.91,219.13 227.2,219.48 227.5,219.9 227.8,220.38 228.09,220.91 228.39,221.48 228.68,222.08 228.98,222.7 229.27,223.32 229.57,223.93 229.87,224.53 230.16,225.1 230.46,225.63 230.75,226.11 231.05,226.54 231.34,226.91 231.64,227.2 231.94,227.42 232.23,227.56 232.53,227.66 232.82,227.68 233.12,227.61 233.41,227.47 233.71,227.24 234,226.94 234.3,226.57 234.6,226.13 234.89,225.64 235.19,225.09 235.48,224.5 235.78,223.87 236.07,223.22 236.37,222.55 236.67,221.88 236.96,221.21 237.26,220.56 237.55,219.93 237.85,219.33 238.14,218.77 238.44,218.26 238.74,217.81 239.03,217.42 239.33,217.09 239.62,216.84 239.92,216.66 240.21,216.55 240.51,216.53 240.81,216.59 241.1,216.72 241.4,216.95 241.69,217.25 241.99,217.62 242.28,218.05 242.58,218.53 242.88,219.07 243.17,219.64 243.47,220.25 243.76,220.89 244.06,221.55 244.35,222.21 244.65,222.88 244.95,223.54 245.24,224.18 245.54,224.8 245.83,225.39 246.13,225.95 246.42,226.46 246.72,226.92 247.02,227.32 247.31,227.67 247.61,227.95 247.9,228.17 248.2,228.32 248.49,228.4 248.79,228.41 249.09,228.34 249.38,228.21 249.68,228.02 249.97,227.75 250.27,227.43 250.56,227.05 250.86,226.61 251.16,226.13 251.45,225.6 251.75,225.02 252.04,224.41 252.34,223.78 252.63,223.13 252.93,222.47 253.22,221.81 253.52,221.16 253.82,220.52 254.11,219.89 254.41,219.29 254.7,218.72 255,218.18 255.29,217.68 255.59,217.23 255.89,216.83 256.18,216.47 256.48,216.17 256.77,215.93 257.07,215.74 257.36,215.62 257.66,215.55 257.96,215.55 258.25,215.6 258.55,215.71 258.84,215.88 259.14,216.1 259.43,216.38 259.73,216.7 260.03,217.07 260.32,217.48 260.62,217.93 260.91,218.41 261.21,218.92 261.5,219.45 261.8,220.01 262.1,220.58 262.39,221.16 262.69,221.74 262.98,222.32 263.28,222.89 263.57,223.45 263.87,224 264.17,224.52 264.46,225.01 264.76,225.48 265.05,225.91 265.35,226.31 265.64,226.67 265.94,226.98 266.24,227.25 266.53,227.48 266.83,227.66 267.12,227.79 267.42,227.87 267.71,227.91 268.01,227.89 268.31,227.83 268.6,227.72 268.9,227.56 269.19,227.36 269.49,227.12 269.78,226.83 270.08,226.51 270.38,226.15 270.67,225.76 270.97,225.35 271.26,224.9 271.56,224.44 271.85,223.95 272.15,223.45 272.44,222.94 272.74,222.42 273.04,221.89 273.33,221.36 273.63,220.84 273.92,220.32 274.22,219.82 274.51,219.33 274.81,218.86 275.11,218.41 275.4,217.97 275.7,217.56 275.99,217.18 276.29,216.82 276.58,216.5 276.88,216.2 277.18,215.94 277.47,215.72 277.77,215.53 278.06,215.38 278.36,215.27 278.65,215.2 278.95,215.17 279.25,215.18 279.54,215.23 279.84,215.32 280.13,215.44 280.43,215.6 280.72,215.8 281.02,216.04 281.32,216.3 281.61,216.6 281.91,216.93 282.2,217.29 282.5,217.67 282.79,218.07 283.09,218.5 283.39,218.94 283.68,219.4 283.98,219.88 284.27,220.36 284.57,220.85 284.86,221.35 285.16,221.84 285.46,222.34 285.75,222.83 286.05,223.32 286.34,223.8 286.64,224.27 286.93,224.72 287.23,225.16 287.53,225.58 287.82,225.98 288.12,226.36 288.41,226.71 288.71,227.04 289,227.34 289.3,227.61 289.6,227.85 289.89,228.06 290.19,228.24 290.48,228.39 290.78,228.5 291.07,228.58 291.37,228.63 291.66,228.64 291.96,228.62 292.26,228.56 292.55,228.47 292.85,228.35 293.14,228.2 293.44,228.02 293.73,227.8 294.03,227.56 294.33,227.3 294.62,227 294.92,226.68 295.21,226.34 295.51,225.98 295.8,225.6 296.1,225.2 296.4,224.79 296.69,224.37 296.99,223.93 297.28,223.48 297.58,223.03 297.87,222.57 298.17,222.11 298.47,221.65 298.76,221.18 299.06,220.73 299.35,220.27 299.65,219.83 299.94,219.39 300.24,218.97 300.54,218.55 300.83,218.16 301.13,217.78 301.42,217.41 301.72,217.07 302.01,216.74 302.31,216.44 302.61,216.16 302.9,215.91 303.2,215.68 303.49,215.48 303.79,215.3 304.08,215.15 304.38,215.03 304.68,214.94 304.97,214.87 305.27,214.83 305.56,214.83 305.86,214.85 306.15,214.9 306.45,214.97 306.75,215.08 307.04,215.21 307.34,215.37 307.63,215.55 307.93,215.76 308.22,215.99 308.52,216.25 308.82,216.52 309.11,216.82 309.41,217.14 309.7,217.48 310,217.83 310.29,218.2 310.59,218.59 310.88,218.99 311.18,219.41 311.48,219.83 311.77,220.26 312.07,220.7 312.36,221.14 312.66,221.58 312.95,222.02 313.25,222.46 313.55,222.89 313.84,223.33 314.14,223.75 314.43,224.17 314.73,224.59 315.02,224.99 315.32,225.38 315.62,225.77 315.91,226.14 316.21,226.5 316.5,226.84 316.8,227.17 317.09,227.54 317.39,227.78 317.69,228.19 317.98,228.28 318.28,228.64 318.57,228.66 318.87,228.78 319.16,229.33 319.46,229.52 319.76,229.86 320.05,229.66 320.35,230.16 320.64,230.46 320.94,230.63 321.23,230.04 321.53,230.34 321.83,230.33 322.12,230.13 322.42,229.85 322.71,229.82 323.01,229.01 323.3,229.39 323.6,229.23 323.9,228.46 324.19,228.97 324.49,229.15 324.78,227.97 325.08,228.23 325.37,227.14 325.67,226.63 325.97,227.1 326.26,227.2 326.56,227.53 326.85,225.86 327.15,225.92 327.44,225.97 327.74,226.18 328.04,225.97 328.33,224.13 328.63,224.99 328.92,224.1 329.22,223.38 329.51,223.13 329.81,222.88 330.1,222.83 330.4,223.11 330.7,221.5 330.99,220.48 331.29,220.69 331.58,221.34 331.88,219.81 332.17,220.74 332.47,221.01 332.77,219.84 333.06,218.71 333.36,218.71 333.65,219.67 333.95,217.8 334.24,218.89 334.54,218.72 334.84,216.95 335.13,216.57 335.43,216.38 335.72,217.82 336.02,216.39 336.31,216.79 336.61,217.77 336.91,216.16 337.2,215.06 337.5,216.65 337.79,216.2 338.09,214.84 338.38,215.58 338.68,215.86 338.98,214.74 339.27,215.06 339.57,214.03 339.86,214.06 340.16,214.16 340.45,214.69 340.75,216.25 341.05,215.81 341.34,216.02 341.64,216.47 341.93,216.57 342.23,217.39 342.52,218.12 342.82,216.82 343.12,217.78 343.41,218.94 343.71,217.46 344,218.15 344.3,218.19 344.59,219.19 344.89,220.22 345.19,220.36 345.48,219.37 345.78,220.51 346.07,219.59 346.37,220.87 346.66,220.12 346.96,221.74 347.26,221.92 347.55,222.93 347.85,223.47 348.14,222.95 348.44,223.3 348.73,223.2 349.03,224.12 349.32,224.43 349.62,224.7 349.92,223.59 350.21,225.29 350.51,225.33 350.8,224.46 351.1,224.96 351.39,226.09 351.69,224.91 351.99,226.75 352.28,227.57 352.58,228.34 352.87,227.78 353.17,226.69 353.46,227.8 353.76,228.37 354.06,227.5 354.35,229.04 354.65,229.93 354.94,228.85 355.24,229.94 355.53,229.43 355.83,230.27 356.13,229.61 356.42,228.86 356.72,229.63 357.01,230.47 357.31,230.06 357.6,229.8 357.9,231.35" fill="none" stroke="#64a0d7" stroke-width="1.0" stroke-linejoin="round"/>
<polyline points="280.7,338.2 307.7,272.9 305.2,213.5" fill="none" stroke="#333" stroke-width="0.8"/>
<polygon points="305.1,209.4 303.6,214.6 306.6,214.6" fill="#222"/>
<polygon points="308.6,270 305.2,274.5 308.4,275.5" fill="#222"/>
<text x="310.3" y="214" font-family="Liberation Serif" font-size="8.4" text-anchor="start" fill="#222">600s</text>
<text x="287.7" y="342.5" font-family="Liberation Serif" font-size="8.4" text-anchor="start" fill="#222">0s</text>
<rect x="428.5" y="201.5" width="201" height="150" fill="none" stroke="#727272" stroke-width="1.0"/>
<line x1="456.5" y1="351.5" x2="456.5" y2="353.5" stroke="#727272" stroke-width="1.0"/>
<line x1="485.5" y1="351.5" x2="485.5" y2="353.5" stroke="#727272" stroke-width="1.0"/>
<line x1="514.5" y1="351.5" x2="514.5" y2="353.5" stroke="#727272" stroke-width="1.0"/>
<line x1="543.5" y1="351.5" x2="543.5" y2="353.5" stroke="#727272" stroke-width="1.0"/>
<line x1="572.5" y1="351.5" x2="572.5" y2="353.5" stroke="#727272" stroke-width="1.0"/>
<line x1="600.5" y1="351.5" x2="600.5" y2="353.5" stroke="#727272" stroke-width="1.0"/>
<line x1="442.5" y1="351.5" x2="442.5" y2="354.5" stroke="#727272" stroke-width="1.0"/>
<text x="442.2" y="363.5" font-family="Liberation Serif" font-size="8.9" text-anchor="middle" fill="#1a1a1a" stroke="#1a1a1a" stroke-width="0.2">0</text>
<line x1="471.5" y1="351.5" x2="471.5" y2="354.5" stroke="#727272" stroke-width="1.0"/>
<text x="471.07" y="363.5" font-family="Liberation Serif" font-size="8.9" text-anchor="middle" fill="#1a1a1a" stroke="#1a1a1a" stroke-width="0.2">100</text>
<line x1="499.5" y1="351.5" x2="499.5" y2="354.5" stroke="#727272" stroke-width="1.0"/>
<text x="499.93" y="363.5" font-family="Liberation Serif" font-size="8.9" text-anchor="middle" fill="#1a1a1a" stroke="#1a1a1a" stroke-width="0.2">200</text>
<line x1="528.5" y1="351.5" x2="528.5" y2="354.5" stroke="#727272" stroke-width="1.0"/>
<text x="528.8" y="363.5" font-family="Liberation Serif" font-size="8.9" text-anchor="middle" fill="#1a1a1a" stroke="#1a1a1a" stroke-width="0.2">300</text>
<line x1="557.5" y1="351.5" x2="557.5" y2="354.5" stroke="#727272" stroke-width="1.0"/>
<text x="557.67" y="363.5" font-family="Liberation Serif" font-size="8.9" text-anchor="middle" fill="#1a1a1a" stroke="#1a1a1a" stroke-width="0.2">400</text>
<line x1="586.5" y1="351.5" x2="586.5" y2="354.5" stroke="#727272" stroke-width="1.0"/>
<text x="586.53" y="363.5" font-family="Liberation Serif" font-size="8.9" text-anchor="middle" fill="#1a1a1a" stroke="#1a1a1a" stroke-width="0.2">500</text>
<line x1="615.5" y1="351.5" x2="615.5" y2="354.5" stroke="#727272" stroke-width="1.0"/>
<text x="615.4" y="363.5" font-family="Liberation Serif" font-size="8.9" text-anchor="middle" fill="#1a1a1a" stroke="#1a1a1a" stroke-width="0.2">600</text>
<line x1="426.5" y1="339.5" x2="428.5" y2="339.5" stroke="#727272" stroke-width="1.0"/>
<line x1="426.5" y1="316.5" x2="428.5" y2="316.5" stroke="#727272" stroke-width="1.0"/>
<line x1="426.5" y1="293.5" x2="428.5" y2="293.5" stroke="#727272" stroke-width="1.0"/>
<line x1="426.5" y1="270.5" x2="428.5" y2="270.5" stroke="#727272" stroke-width="1.0"/>
<line x1="426.5" y1="247.5" x2="428.5" y2="247.5" stroke="#727272" stroke-width="1.0"/>
<line x1="426.5" y1="224.5" x2="428.5" y2="224.5" stroke="#727272" stroke-width="1.0"/>
<line x1="425.5" y1="351.5" x2="428.5" y2="351.5" stroke="#727272" stroke-width="1.0"/>
<text x="423" y="354.4" font-family="Liberation Serif" font-size="8.9" text-anchor="end" fill="#1a1a1a" stroke="#1a1a1a" stroke-width="0.2">0</text>
<line x1="425.5" y1="328.5" x2="428.5" y2="328.5" stroke="#727272" stroke-width="1.0"/>
<text x="423" y="331.28" font-family="Liberation Serif" font-size="8.9" text-anchor="end" fill="#1a1a1a" stroke="#1a1a1a" stroke-width="0.2">50</text>
<line x1="425.5" y1="305.5" x2="428.5" y2="305.5" stroke="#727272" stroke-width="1.0"/>
<text x="423" y="308.17" font-family="Liberation Serif" font-size="8.9" text-anchor="end" fill="#1a1a1a" stroke="#1a1a1a" stroke-width="0.2">100</text>
<line x1="425.5" y1="282.5" x2="428.5" y2="282.5" stroke="#727272" stroke-width="1.0"/>
<text x="423" y="285.05" font-family="Liberation Serif" font-size="8.9" text-anchor="end" fill="#1a1a1a" stroke="#1a1a1a" stroke-width="0.2">150</text>
<line x1="425.5" y1="258.5" x2="428.5" y2="258.5" stroke="#727272" stroke-width="1.0"/>
<text x="423" y="261.93" font-family="Liberation Serif" font-size="8.9" text-anchor="end" fill="#1a1a1a" stroke="#1a1a1a" stroke-width="0.2">200</text>
<line x1="425.5" y1="235.5" x2="428.5" y2="235.5" stroke="#727272" stroke-width="1.0"/>
<text x="423" y="238.82" font-family="Liberation Serif" font-size="8.9" text-anchor="end" fill="#1a1a1a" stroke="#1a1a1a" stroke-width="0.2">250</text>
<line x1="425.5" y1="212.5" x2="428.5" y2="212.5" stroke="#727272" stroke-width="1.0"/>
<text x="423" y="215.7" font-family="Liberation Serif" font-size="8.9" text-anchor="end" fill="#1a1a1a" stroke="#1a1a1a" stroke-width="0.2">300</text>
<text x="390.4" y="210.4" font-family="Liberation Sans" font-size="14.5" text-anchor="start" fill="#111">E</text>
<text x="524.9" y="378.5" font-family="Liberation Serif" font-size="11.6" text-anchor="middle" fill="#333">t (s)</text>
<text x="401.5" y="273.2" font-family="Liberation Serif" font-size="11.6" text-anchor="middle" fill="#333" transform="rotate(-90 401.5 273.2)">ΔOPL (nm)</text>
<text x="485.9" y="286.6" font-family="Liberation Serif" font-size="12" text-anchor="start" fill="#111" stroke="#111" stroke-width="0.25">τ=45s</text>
<line x1="456.34" y1="314.88" x2="456.34" y2="304.7" stroke="#111" stroke-width="0.9"/>
<line x1="454.54" y1="314.88" x2="458.14" y2="314.88" stroke="#111" stroke-width="0.9"/>
<line x1="454.54" y1="304.7" x2="458.14" y2="304.7" stroke="#111" stroke-width="0.9"/>
<line x1="485.21" y1="260.32" x2="485.21" y2="256.62" stroke="#111" stroke-width="0.9"/>
<line x1="483.41" y1="260.32" x2="487.01" y2="260.32" stroke="#111" stroke-width="0.9"/>
<line x1="483.41" y1="256.62" x2="487.01" y2="256.62" stroke="#111" stroke-width="0.9"/>
<line x1="502.53" y1="246.45" x2="502.53" y2="236.28" stroke="#111" stroke-width="0.9"/>
<line x1="500.73" y1="246.45" x2="504.33" y2="246.45" stroke="#111" stroke-width="0.9"/>
<line x1="500.73" y1="236.28" x2="504.33" y2="236.28" stroke="#111" stroke-width="0.9"/>
<line x1="519.85" y1="235.31" x2="519.85" y2="221.99" stroke="#111" stroke-width="0.9"/>
<line x1="518.05" y1="235.31" x2="521.65" y2="235.31" stroke="#111" stroke-width="0.9"/>
<line x1="518.05" y1="221.99" x2="521.65" y2="221.99" stroke="#111" stroke-width="0.9"/>
<line x1="528.8" y1="229.07" x2="528.8" y2="219.45" stroke="#111" stroke-width="0.9"/>
<line x1="527" y1="229.07" x2="530.6" y2="229.07" stroke="#111" stroke-width="0.9"/>
<line x1="527" y1="219.45" x2="530.6" y2="219.45" stroke="#111" stroke-width="0.9"/>
<line x1="563.44" y1="224.72" x2="563.44" y2="220.1" stroke="#111" stroke-width="0.9"/>
<line x1="561.64" y1="224.72" x2="565.24" y2="224.72" stroke="#111" stroke-width="0.9"/>
<line x1="561.64" y1="220.1" x2="565.24" y2="220.1" stroke="#111" stroke-width="0.9"/>
<rect x="439.9" y="348.18" width="4.6" height="4.6" fill="#000" stroke="none" stroke-width="1"/>
<rect x="440.77" y="343.55" width="4.6" height="4.6" fill="#000" stroke="none" stroke-width="1"/>
<rect x="441.92" y="339.39" width="4.6" height="4.6" fill="#000" stroke="none" stroke-width="1"/>
<rect x="443.65" y="331.53" width="4.6" height="4.6" fill="#000" stroke="none" stroke-width="1"/>
<rect x="445.1" y="327.83" width="4.6" height="4.6" fill="#000" stroke="none" stroke-width="1"/>
<rect x="446.83" y="325.52" width="4.6" height="4.6" fill="#000" stroke="none" stroke-width="1"/>
<rect x="448.56" y="321.82" width="4.6" height="4.6" fill="#000" stroke="none" stroke-width="1"/>
<rect x="452.02" y="308.88" width="4.6" height="4.6" fill="#000" stroke="none" stroke-width="1"/>
<rect x="454.04" y="307.49" width="4.6" height="4.6" fill="#000" stroke="none" stroke-width="1"/>
<rect x="455.2" y="296.39" width="4.6" height="4.6" fill="#000" stroke="none" stroke-width="1"/>
<rect x="456.93" y="292.7" width="4.6" height="4.6" fill="#000" stroke="none" stroke-width="1"/>
<rect x="465.45" y="275.13" width="4.6" height="4.6" fill="#000" stroke="none" stroke-width="1"/>
<rect x="474.25" y="267.73" width="4.6" height="4.6" fill="#000" stroke="none" stroke-width="1"/>
<rect x="482.91" y="256.17" width="4.6" height="4.6" fill="#000" stroke="none" stroke-width="1"/>
<rect x="491.57" y="248.31" width="4.6" height="4.6" fill="#000" stroke="none" stroke-width="1"/>
<rect x="500.23" y="239.06" width="4.6" height="4.6" fill="#000" stroke="none" stroke-width="1"/>
<rect x="509.18" y="227.97" width="4.6" height="4.6" fill="#000" stroke="none" stroke-width="1"/>
<rect x="517.55" y="226.35" width="4.6" height="4.6" fill="#000" stroke="none" stroke-width="1"/>
<rect x="526.5" y="221.96" width="4.6" height="4.6" fill="#000" stroke="none" stroke-width="1"/>
<rect x="535.16" y="223.35" width="4.6" height="4.6" fill="#000" stroke="none" stroke-width="1"/>
<rect x="543.82" y="221.5" width="4.6" height="4.6" fill="#000" stroke="none" stroke-width="1"/>
<rect x="552.48" y="224.27" width="4.6" height="4.6" fill="#000" stroke="none" stroke-width="1"/>
<rect x="561.14" y="220.11" width="4.6" height="4.6" fill="#000" stroke="none" stroke-width="1"/>
<rect x="578.46" y="219.18" width="4.6" height="4.6" fill="#000" stroke="none" stroke-width="1"/>
<rect x="595.78" y="219.18" width="4.6" height="4.6" fill="#000" stroke="none" stroke-width="1"/>
<rect x="613.1" y="219.18" width="4.6" height="4.6" fill="#000" stroke="none" stroke-width="1"/>
<polyline points="442.2,351.4 443.07,347.82 443.93,344.34 444.8,340.96 445.66,337.67 446.53,334.47 447.4,331.36 448.26,328.34 449.13,325.39 449.99,322.53 450.86,319.75 451.73,317.05 452.59,314.42 453.46,311.86 454.32,309.37 455.19,306.95 456.06,304.6 456.92,302.31 457.79,300.09 458.65,297.92 459.52,295.82 460.39,293.77 461.25,291.78 462.12,289.84 462.98,287.95 463.85,286.12 464.72,284.34 465.58,282.6 466.45,280.91 467.31,279.27 468.18,277.67 469.05,276.12 469.91,274.6 470.78,273.13 471.64,271.7 472.51,270.31 473.38,268.95 474.24,267.63 475.11,266.35 475.97,265.1 476.84,263.88 477.71,262.7 478.57,261.55 479.44,260.43 480.3,259.33 481.17,258.27 482.04,257.24 482.9,256.23 483.77,255.25 484.63,254.29 485.5,253.36 486.37,252.46 487.23,251.58 488.1,250.72 488.96,249.88 489.83,249.07 490.7,248.28 491.56,247.51 492.43,246.75 493.29,246.02 494.16,245.31 495.03,244.61 495.89,243.93 496.76,243.27 497.62,242.63 498.49,242 499.36,241.39 500.22,240.79 501.09,240.21 501.95,239.65 502.82,239.09 503.69,238.56 504.55,238.03 505.42,237.52 506.28,237.02 507.15,236.53 508.02,236.06 508.88,235.6 509.75,235.14 510.61,234.7 511.48,234.27 512.35,233.85 513.21,233.44 514.08,233.04 514.94,232.65 515.81,232.27 516.68,231.9 517.54,231.53 518.41,231.18 519.27,230.83 520.14,230.49 521.01,230.16 521.87,229.84 522.74,229.52 523.6,229.21 524.47,228.91 525.34,228.62 526.2,228.33 527.07,228.04 527.93,227.77 528.8,227.5 529.67,227.23 530.53,226.97 531.4,226.72 532.26,226.47 533.13,226.23 534,225.99 534.86,225.76 535.73,225.53 536.59,225.31 537.46,225.09 538.33,224.88 539.19,224.67 540.06,224.46 540.92,224.26 541.79,224.06 542.66,223.87 543.52,223.68 544.39,223.49 545.25,223.31 546.12,223.13 546.99,222.95 547.85,222.78 548.72,222.61 549.58,222.44 550.45,222.28 551.32,222.12 552.18,221.96 553.05,221.8 553.91,221.65 554.78,221.5 555.65,221.35 556.51,221.2 557.38,221.06 558.24,220.92 559.11,220.78 559.98,220.64 560.84,220.51 561.71,220.38 562.57,220.25 563.44,220.12 564.31,219.99 565.17,219.87 566.04,219.74 566.9,219.62 567.77,219.5 568.64,219.38 569.5,219.27 570.37,219.15 571.23,219.04 572.1,218.93 572.97,218.82 573.83,218.71 574.7,218.6 575.56,218.49 576.43,218.39 577.3,218.28 578.16,218.18 579.03,218.08 579.89,217.97 580.76,217.87 581.63,217.78 582.49,217.68 583.36,217.58 584.22,217.49 585.09,217.39 585.96,217.3 586.82,217.2 587.69,217.11 588.55,217.02 589.42,216.93 590.29,216.84 591.15,216.75 592.02,216.66 592.88,216.58 593.75,216.49 594.62,216.4 595.48,216.32 596.35,216.23 597.21,216.15 598.08,216.06 598.95,215.98 599.81,215.9 600.68,215.82 601.54,215.74 602.41,215.66 603.28,215.58 604.14,215.5 605.01,215.42 605.87,215.34 606.74,215.26 607.61,215.18 608.47,215.1 609.34,215.03 610.2,214.95 611.07,214.87 611.94,214.8 612.8,214.72 613.67,214.65 614.53,214.57 615.4,214.5" fill="none" stroke="#ec3c3c" stroke-width="0.95" stroke-linejoin="round"/>
</svg></body></html>
